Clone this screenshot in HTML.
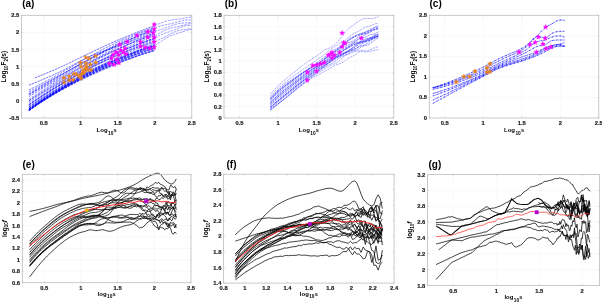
<!DOCTYPE html>
<html><head><meta charset="utf-8"><style>
html,body{margin:0;padding:0;background:#fff;width:602px;height:302px;overflow:hidden}
svg{display:block;will-change:transform;filter:blur(0.3px)}
</style></head><body><svg width="602" height="302" viewBox="0 0 602 302"><line x1="43.71" y1="15.3" x2="43.71" y2="118.0" stroke="#f2f2f2" stroke-width="0.5"/><line x1="80.73" y1="15.3" x2="80.73" y2="118.0" stroke="#f2f2f2" stroke-width="0.5"/><line x1="117.76" y1="15.3" x2="117.76" y2="118.0" stroke="#f2f2f2" stroke-width="0.5"/><line x1="154.78" y1="15.3" x2="154.78" y2="118.0" stroke="#f2f2f2" stroke-width="0.5"/><line x1="21.5" y1="100.88" x2="191.8" y2="100.88" stroke="#f2f2f2" stroke-width="0.5"/><line x1="21.5" y1="83.77" x2="191.8" y2="83.77" stroke="#f2f2f2" stroke-width="0.5"/><line x1="21.5" y1="66.65" x2="191.8" y2="66.65" stroke="#f2f2f2" stroke-width="0.5"/><line x1="21.5" y1="49.53" x2="191.8" y2="49.53" stroke="#f2f2f2" stroke-width="0.5"/><line x1="21.5" y1="32.42" x2="191.8" y2="32.42" stroke="#f2f2f2" stroke-width="0.5"/><line x1="43.71" y1="118.0" x2="43.71" y2="116.5" stroke="#bbb" stroke-width="0.5"/><line x1="43.71" y1="15.3" x2="43.71" y2="16.8" stroke="#bbb" stroke-width="0.5"/><text x="43.71" y="125.20" font-size="5.8" text-anchor="middle" font-family="Liberation Sans, sans-serif" font-weight="bold" fill="#1a1a1a" stroke="#1a1a1a" stroke-width="0.18">0.5</text><line x1="80.73" y1="118.0" x2="80.73" y2="116.5" stroke="#bbb" stroke-width="0.5"/><line x1="80.73" y1="15.3" x2="80.73" y2="16.8" stroke="#bbb" stroke-width="0.5"/><text x="80.73" y="125.20" font-size="5.8" text-anchor="middle" font-family="Liberation Sans, sans-serif" font-weight="bold" fill="#1a1a1a" stroke="#1a1a1a" stroke-width="0.18">1</text><line x1="117.76" y1="118.0" x2="117.76" y2="116.5" stroke="#bbb" stroke-width="0.5"/><line x1="117.76" y1="15.3" x2="117.76" y2="16.8" stroke="#bbb" stroke-width="0.5"/><text x="117.76" y="125.20" font-size="5.8" text-anchor="middle" font-family="Liberation Sans, sans-serif" font-weight="bold" fill="#1a1a1a" stroke="#1a1a1a" stroke-width="0.18">1.5</text><line x1="154.78" y1="118.0" x2="154.78" y2="116.5" stroke="#bbb" stroke-width="0.5"/><line x1="154.78" y1="15.3" x2="154.78" y2="16.8" stroke="#bbb" stroke-width="0.5"/><text x="154.78" y="125.20" font-size="5.8" text-anchor="middle" font-family="Liberation Sans, sans-serif" font-weight="bold" fill="#1a1a1a" stroke="#1a1a1a" stroke-width="0.18">2</text><line x1="191.80" y1="118.0" x2="191.80" y2="116.5" stroke="#bbb" stroke-width="0.5"/><line x1="191.80" y1="15.3" x2="191.80" y2="16.8" stroke="#bbb" stroke-width="0.5"/><text x="191.80" y="125.20" font-size="5.8" text-anchor="middle" font-family="Liberation Sans, sans-serif" font-weight="bold" fill="#1a1a1a" stroke="#1a1a1a" stroke-width="0.18">2.5</text><line x1="21.5" y1="118.00" x2="23.0" y2="118.00" stroke="#bbb" stroke-width="0.5"/><line x1="191.8" y1="118.00" x2="190.3" y2="118.00" stroke="#bbb" stroke-width="0.5"/><text x="19.30" y="120.00" font-size="5.8" text-anchor="end" font-family="Liberation Sans, sans-serif" font-weight="bold" fill="#1a1a1a" stroke="#1a1a1a" stroke-width="0.18">-0.5</text><line x1="21.5" y1="100.88" x2="23.0" y2="100.88" stroke="#bbb" stroke-width="0.5"/><line x1="191.8" y1="100.88" x2="190.3" y2="100.88" stroke="#bbb" stroke-width="0.5"/><text x="19.30" y="102.88" font-size="5.8" text-anchor="end" font-family="Liberation Sans, sans-serif" font-weight="bold" fill="#1a1a1a" stroke="#1a1a1a" stroke-width="0.18">0</text><line x1="21.5" y1="83.77" x2="23.0" y2="83.77" stroke="#bbb" stroke-width="0.5"/><line x1="191.8" y1="83.77" x2="190.3" y2="83.77" stroke="#bbb" stroke-width="0.5"/><text x="19.30" y="85.77" font-size="5.8" text-anchor="end" font-family="Liberation Sans, sans-serif" font-weight="bold" fill="#1a1a1a" stroke="#1a1a1a" stroke-width="0.18">0.5</text><line x1="21.5" y1="66.65" x2="23.0" y2="66.65" stroke="#bbb" stroke-width="0.5"/><line x1="191.8" y1="66.65" x2="190.3" y2="66.65" stroke="#bbb" stroke-width="0.5"/><text x="19.30" y="68.65" font-size="5.8" text-anchor="end" font-family="Liberation Sans, sans-serif" font-weight="bold" fill="#1a1a1a" stroke="#1a1a1a" stroke-width="0.18">1</text><line x1="21.5" y1="49.53" x2="23.0" y2="49.53" stroke="#bbb" stroke-width="0.5"/><line x1="191.8" y1="49.53" x2="190.3" y2="49.53" stroke="#bbb" stroke-width="0.5"/><text x="19.30" y="51.53" font-size="5.8" text-anchor="end" font-family="Liberation Sans, sans-serif" font-weight="bold" fill="#1a1a1a" stroke="#1a1a1a" stroke-width="0.18">1.5</text><line x1="21.5" y1="32.42" x2="23.0" y2="32.42" stroke="#bbb" stroke-width="0.5"/><line x1="191.8" y1="32.42" x2="190.3" y2="32.42" stroke="#bbb" stroke-width="0.5"/><text x="19.30" y="34.42" font-size="5.8" text-anchor="end" font-family="Liberation Sans, sans-serif" font-weight="bold" fill="#1a1a1a" stroke="#1a1a1a" stroke-width="0.18">2</text><line x1="21.5" y1="15.30" x2="23.0" y2="15.30" stroke="#bbb" stroke-width="0.5"/><line x1="191.8" y1="15.30" x2="190.3" y2="15.30" stroke="#bbb" stroke-width="0.5"/><text x="19.30" y="17.30" font-size="5.8" text-anchor="end" font-family="Liberation Sans, sans-serif" font-weight="bold" fill="#1a1a1a" stroke="#1a1a1a" stroke-width="0.18">2.5</text><line x1="239.44" y1="15.3" x2="239.44" y2="118.0" stroke="#f2f2f2" stroke-width="0.5"/><line x1="278.03" y1="15.3" x2="278.03" y2="118.0" stroke="#f2f2f2" stroke-width="0.5"/><line x1="316.62" y1="15.3" x2="316.62" y2="118.0" stroke="#f2f2f2" stroke-width="0.5"/><line x1="355.21" y1="15.3" x2="355.21" y2="118.0" stroke="#f2f2f2" stroke-width="0.5"/><line x1="224.0" y1="106.59" x2="393.8" y2="106.59" stroke="#f2f2f2" stroke-width="0.5"/><line x1="224.0" y1="95.18" x2="393.8" y2="95.18" stroke="#f2f2f2" stroke-width="0.5"/><line x1="224.0" y1="83.77" x2="393.8" y2="83.77" stroke="#f2f2f2" stroke-width="0.5"/><line x1="224.0" y1="72.36" x2="393.8" y2="72.36" stroke="#f2f2f2" stroke-width="0.5"/><line x1="224.0" y1="60.94" x2="393.8" y2="60.94" stroke="#f2f2f2" stroke-width="0.5"/><line x1="224.0" y1="49.53" x2="393.8" y2="49.53" stroke="#f2f2f2" stroke-width="0.5"/><line x1="224.0" y1="38.12" x2="393.8" y2="38.12" stroke="#f2f2f2" stroke-width="0.5"/><line x1="224.0" y1="26.71" x2="393.8" y2="26.71" stroke="#f2f2f2" stroke-width="0.5"/><line x1="239.44" y1="118.0" x2="239.44" y2="116.5" stroke="#bbb" stroke-width="0.5"/><line x1="239.44" y1="15.3" x2="239.44" y2="16.8" stroke="#bbb" stroke-width="0.5"/><text x="239.44" y="125.20" font-size="5.8" text-anchor="middle" font-family="Liberation Sans, sans-serif" font-weight="bold" fill="#1a1a1a" stroke="#1a1a1a" stroke-width="0.18">0.5</text><line x1="278.03" y1="118.0" x2="278.03" y2="116.5" stroke="#bbb" stroke-width="0.5"/><line x1="278.03" y1="15.3" x2="278.03" y2="16.8" stroke="#bbb" stroke-width="0.5"/><text x="278.03" y="125.20" font-size="5.8" text-anchor="middle" font-family="Liberation Sans, sans-serif" font-weight="bold" fill="#1a1a1a" stroke="#1a1a1a" stroke-width="0.18">1</text><line x1="316.62" y1="118.0" x2="316.62" y2="116.5" stroke="#bbb" stroke-width="0.5"/><line x1="316.62" y1="15.3" x2="316.62" y2="16.8" stroke="#bbb" stroke-width="0.5"/><text x="316.62" y="125.20" font-size="5.8" text-anchor="middle" font-family="Liberation Sans, sans-serif" font-weight="bold" fill="#1a1a1a" stroke="#1a1a1a" stroke-width="0.18">1.5</text><line x1="355.21" y1="118.0" x2="355.21" y2="116.5" stroke="#bbb" stroke-width="0.5"/><line x1="355.21" y1="15.3" x2="355.21" y2="16.8" stroke="#bbb" stroke-width="0.5"/><text x="355.21" y="125.20" font-size="5.8" text-anchor="middle" font-family="Liberation Sans, sans-serif" font-weight="bold" fill="#1a1a1a" stroke="#1a1a1a" stroke-width="0.18">2</text><line x1="393.80" y1="118.0" x2="393.80" y2="116.5" stroke="#bbb" stroke-width="0.5"/><line x1="393.80" y1="15.3" x2="393.80" y2="16.8" stroke="#bbb" stroke-width="0.5"/><text x="393.80" y="125.20" font-size="5.8" text-anchor="middle" font-family="Liberation Sans, sans-serif" font-weight="bold" fill="#1a1a1a" stroke="#1a1a1a" stroke-width="0.18">2.5</text><line x1="224.0" y1="118.00" x2="225.5" y2="118.00" stroke="#bbb" stroke-width="0.5"/><line x1="393.8" y1="118.00" x2="392.3" y2="118.00" stroke="#bbb" stroke-width="0.5"/><text x="221.80" y="120.00" font-size="5.8" text-anchor="end" font-family="Liberation Sans, sans-serif" font-weight="bold" fill="#1a1a1a" stroke="#1a1a1a" stroke-width="0.18">0</text><line x1="224.0" y1="106.59" x2="225.5" y2="106.59" stroke="#bbb" stroke-width="0.5"/><line x1="393.8" y1="106.59" x2="392.3" y2="106.59" stroke="#bbb" stroke-width="0.5"/><text x="221.80" y="108.59" font-size="5.8" text-anchor="end" font-family="Liberation Sans, sans-serif" font-weight="bold" fill="#1a1a1a" stroke="#1a1a1a" stroke-width="0.18">0.2</text><line x1="224.0" y1="95.18" x2="225.5" y2="95.18" stroke="#bbb" stroke-width="0.5"/><line x1="393.8" y1="95.18" x2="392.3" y2="95.18" stroke="#bbb" stroke-width="0.5"/><text x="221.80" y="97.18" font-size="5.8" text-anchor="end" font-family="Liberation Sans, sans-serif" font-weight="bold" fill="#1a1a1a" stroke="#1a1a1a" stroke-width="0.18">0.4</text><line x1="224.0" y1="83.77" x2="225.5" y2="83.77" stroke="#bbb" stroke-width="0.5"/><line x1="393.8" y1="83.77" x2="392.3" y2="83.77" stroke="#bbb" stroke-width="0.5"/><text x="221.80" y="85.77" font-size="5.8" text-anchor="end" font-family="Liberation Sans, sans-serif" font-weight="bold" fill="#1a1a1a" stroke="#1a1a1a" stroke-width="0.18">0.6</text><line x1="224.0" y1="72.36" x2="225.5" y2="72.36" stroke="#bbb" stroke-width="0.5"/><line x1="393.8" y1="72.36" x2="392.3" y2="72.36" stroke="#bbb" stroke-width="0.5"/><text x="221.80" y="74.36" font-size="5.8" text-anchor="end" font-family="Liberation Sans, sans-serif" font-weight="bold" fill="#1a1a1a" stroke="#1a1a1a" stroke-width="0.18">0.8</text><line x1="224.0" y1="60.94" x2="225.5" y2="60.94" stroke="#bbb" stroke-width="0.5"/><line x1="393.8" y1="60.94" x2="392.3" y2="60.94" stroke="#bbb" stroke-width="0.5"/><text x="221.80" y="62.94" font-size="5.8" text-anchor="end" font-family="Liberation Sans, sans-serif" font-weight="bold" fill="#1a1a1a" stroke="#1a1a1a" stroke-width="0.18">1</text><line x1="224.0" y1="49.53" x2="225.5" y2="49.53" stroke="#bbb" stroke-width="0.5"/><line x1="393.8" y1="49.53" x2="392.3" y2="49.53" stroke="#bbb" stroke-width="0.5"/><text x="221.80" y="51.53" font-size="5.8" text-anchor="end" font-family="Liberation Sans, sans-serif" font-weight="bold" fill="#1a1a1a" stroke="#1a1a1a" stroke-width="0.18">1.2</text><line x1="224.0" y1="38.12" x2="225.5" y2="38.12" stroke="#bbb" stroke-width="0.5"/><line x1="393.8" y1="38.12" x2="392.3" y2="38.12" stroke="#bbb" stroke-width="0.5"/><text x="221.80" y="40.12" font-size="5.8" text-anchor="end" font-family="Liberation Sans, sans-serif" font-weight="bold" fill="#1a1a1a" stroke="#1a1a1a" stroke-width="0.18">1.4</text><line x1="224.0" y1="26.71" x2="225.5" y2="26.71" stroke="#bbb" stroke-width="0.5"/><line x1="393.8" y1="26.71" x2="392.3" y2="26.71" stroke="#bbb" stroke-width="0.5"/><text x="221.80" y="28.71" font-size="5.8" text-anchor="end" font-family="Liberation Sans, sans-serif" font-weight="bold" fill="#1a1a1a" stroke="#1a1a1a" stroke-width="0.18">1.6</text><line x1="224.0" y1="15.30" x2="225.5" y2="15.30" stroke="#bbb" stroke-width="0.5"/><line x1="393.8" y1="15.30" x2="392.3" y2="15.30" stroke="#bbb" stroke-width="0.5"/><text x="221.80" y="17.30" font-size="5.8" text-anchor="end" font-family="Liberation Sans, sans-serif" font-weight="bold" fill="#1a1a1a" stroke="#1a1a1a" stroke-width="0.18">1.8</text><line x1="444.71" y1="15.3" x2="444.71" y2="118.0" stroke="#f2f2f2" stroke-width="0.5"/><line x1="483.23" y1="15.3" x2="483.23" y2="118.0" stroke="#f2f2f2" stroke-width="0.5"/><line x1="521.75" y1="15.3" x2="521.75" y2="118.0" stroke="#f2f2f2" stroke-width="0.5"/><line x1="560.28" y1="15.3" x2="560.28" y2="118.0" stroke="#f2f2f2" stroke-width="0.5"/><line x1="429.3" y1="97.46" x2="598.8" y2="97.46" stroke="#f2f2f2" stroke-width="0.5"/><line x1="429.3" y1="76.92" x2="598.8" y2="76.92" stroke="#f2f2f2" stroke-width="0.5"/><line x1="429.3" y1="56.38" x2="598.8" y2="56.38" stroke="#f2f2f2" stroke-width="0.5"/><line x1="429.3" y1="35.84" x2="598.8" y2="35.84" stroke="#f2f2f2" stroke-width="0.5"/><line x1="444.71" y1="118.0" x2="444.71" y2="116.5" stroke="#bbb" stroke-width="0.5"/><line x1="444.71" y1="15.3" x2="444.71" y2="16.8" stroke="#bbb" stroke-width="0.5"/><text x="444.71" y="125.20" font-size="5.8" text-anchor="middle" font-family="Liberation Sans, sans-serif" font-weight="bold" fill="#1a1a1a" stroke="#1a1a1a" stroke-width="0.18">0.5</text><line x1="483.23" y1="118.0" x2="483.23" y2="116.5" stroke="#bbb" stroke-width="0.5"/><line x1="483.23" y1="15.3" x2="483.23" y2="16.8" stroke="#bbb" stroke-width="0.5"/><text x="483.23" y="125.20" font-size="5.8" text-anchor="middle" font-family="Liberation Sans, sans-serif" font-weight="bold" fill="#1a1a1a" stroke="#1a1a1a" stroke-width="0.18">1</text><line x1="521.75" y1="118.0" x2="521.75" y2="116.5" stroke="#bbb" stroke-width="0.5"/><line x1="521.75" y1="15.3" x2="521.75" y2="16.8" stroke="#bbb" stroke-width="0.5"/><text x="521.75" y="125.20" font-size="5.8" text-anchor="middle" font-family="Liberation Sans, sans-serif" font-weight="bold" fill="#1a1a1a" stroke="#1a1a1a" stroke-width="0.18">1.5</text><line x1="560.28" y1="118.0" x2="560.28" y2="116.5" stroke="#bbb" stroke-width="0.5"/><line x1="560.28" y1="15.3" x2="560.28" y2="16.8" stroke="#bbb" stroke-width="0.5"/><text x="560.28" y="125.20" font-size="5.8" text-anchor="middle" font-family="Liberation Sans, sans-serif" font-weight="bold" fill="#1a1a1a" stroke="#1a1a1a" stroke-width="0.18">2</text><line x1="598.80" y1="118.0" x2="598.80" y2="116.5" stroke="#bbb" stroke-width="0.5"/><line x1="598.80" y1="15.3" x2="598.80" y2="16.8" stroke="#bbb" stroke-width="0.5"/><text x="598.80" y="125.20" font-size="5.8" text-anchor="middle" font-family="Liberation Sans, sans-serif" font-weight="bold" fill="#1a1a1a" stroke="#1a1a1a" stroke-width="0.18">2.5</text><line x1="429.3" y1="118.00" x2="430.8" y2="118.00" stroke="#bbb" stroke-width="0.5"/><line x1="598.8" y1="118.00" x2="597.3" y2="118.00" stroke="#bbb" stroke-width="0.5"/><text x="427.10" y="120.00" font-size="5.8" text-anchor="end" font-family="Liberation Sans, sans-serif" font-weight="bold" fill="#1a1a1a" stroke="#1a1a1a" stroke-width="0.18">0</text><line x1="429.3" y1="97.46" x2="430.8" y2="97.46" stroke="#bbb" stroke-width="0.5"/><line x1="598.8" y1="97.46" x2="597.3" y2="97.46" stroke="#bbb" stroke-width="0.5"/><text x="427.10" y="99.46" font-size="5.8" text-anchor="end" font-family="Liberation Sans, sans-serif" font-weight="bold" fill="#1a1a1a" stroke="#1a1a1a" stroke-width="0.18">0.5</text><line x1="429.3" y1="76.92" x2="430.8" y2="76.92" stroke="#bbb" stroke-width="0.5"/><line x1="598.8" y1="76.92" x2="597.3" y2="76.92" stroke="#bbb" stroke-width="0.5"/><text x="427.10" y="78.92" font-size="5.8" text-anchor="end" font-family="Liberation Sans, sans-serif" font-weight="bold" fill="#1a1a1a" stroke="#1a1a1a" stroke-width="0.18">1</text><line x1="429.3" y1="56.38" x2="430.8" y2="56.38" stroke="#bbb" stroke-width="0.5"/><line x1="598.8" y1="56.38" x2="597.3" y2="56.38" stroke="#bbb" stroke-width="0.5"/><text x="427.10" y="58.38" font-size="5.8" text-anchor="end" font-family="Liberation Sans, sans-serif" font-weight="bold" fill="#1a1a1a" stroke="#1a1a1a" stroke-width="0.18">1.5</text><line x1="429.3" y1="35.84" x2="430.8" y2="35.84" stroke="#bbb" stroke-width="0.5"/><line x1="598.8" y1="35.84" x2="597.3" y2="35.84" stroke="#bbb" stroke-width="0.5"/><text x="427.10" y="37.84" font-size="5.8" text-anchor="end" font-family="Liberation Sans, sans-serif" font-weight="bold" fill="#1a1a1a" stroke="#1a1a1a" stroke-width="0.18">2</text><line x1="429.3" y1="15.30" x2="430.8" y2="15.30" stroke="#bbb" stroke-width="0.5"/><line x1="598.8" y1="15.30" x2="597.3" y2="15.30" stroke="#bbb" stroke-width="0.5"/><text x="427.10" y="17.30" font-size="5.8" text-anchor="end" font-family="Liberation Sans, sans-serif" font-weight="bold" fill="#1a1a1a" stroke="#1a1a1a" stroke-width="0.18">2.5</text><line x1="44.30" y1="174.3" x2="44.30" y2="282.7" stroke="#f2f2f2" stroke-width="0.5"/><line x1="80.98" y1="174.3" x2="80.98" y2="282.7" stroke="#f2f2f2" stroke-width="0.5"/><line x1="117.65" y1="174.3" x2="117.65" y2="282.7" stroke="#f2f2f2" stroke-width="0.5"/><line x1="154.33" y1="174.3" x2="154.33" y2="282.7" stroke="#f2f2f2" stroke-width="0.5"/><line x1="22.3" y1="271.29" x2="191.0" y2="271.29" stroke="#f2f2f2" stroke-width="0.5"/><line x1="22.3" y1="259.88" x2="191.0" y2="259.88" stroke="#f2f2f2" stroke-width="0.5"/><line x1="22.3" y1="248.47" x2="191.0" y2="248.47" stroke="#f2f2f2" stroke-width="0.5"/><line x1="22.3" y1="237.06" x2="191.0" y2="237.06" stroke="#f2f2f2" stroke-width="0.5"/><line x1="22.3" y1="225.65" x2="191.0" y2="225.65" stroke="#f2f2f2" stroke-width="0.5"/><line x1="22.3" y1="214.24" x2="191.0" y2="214.24" stroke="#f2f2f2" stroke-width="0.5"/><line x1="22.3" y1="202.83" x2="191.0" y2="202.83" stroke="#f2f2f2" stroke-width="0.5"/><line x1="22.3" y1="191.42" x2="191.0" y2="191.42" stroke="#f2f2f2" stroke-width="0.5"/><line x1="22.3" y1="180.01" x2="191.0" y2="180.01" stroke="#f2f2f2" stroke-width="0.5"/><line x1="44.30" y1="282.7" x2="44.30" y2="281.2" stroke="#bbb" stroke-width="0.5"/><line x1="44.30" y1="174.3" x2="44.30" y2="175.8" stroke="#bbb" stroke-width="0.5"/><text x="44.30" y="289.90" font-size="5.8" text-anchor="middle" font-family="Liberation Sans, sans-serif" font-weight="bold" fill="#1a1a1a" stroke="#1a1a1a" stroke-width="0.18">0.5</text><line x1="80.98" y1="282.7" x2="80.98" y2="281.2" stroke="#bbb" stroke-width="0.5"/><line x1="80.98" y1="174.3" x2="80.98" y2="175.8" stroke="#bbb" stroke-width="0.5"/><text x="80.98" y="289.90" font-size="5.8" text-anchor="middle" font-family="Liberation Sans, sans-serif" font-weight="bold" fill="#1a1a1a" stroke="#1a1a1a" stroke-width="0.18">1</text><line x1="117.65" y1="282.7" x2="117.65" y2="281.2" stroke="#bbb" stroke-width="0.5"/><line x1="117.65" y1="174.3" x2="117.65" y2="175.8" stroke="#bbb" stroke-width="0.5"/><text x="117.65" y="289.90" font-size="5.8" text-anchor="middle" font-family="Liberation Sans, sans-serif" font-weight="bold" fill="#1a1a1a" stroke="#1a1a1a" stroke-width="0.18">1.5</text><line x1="154.33" y1="282.7" x2="154.33" y2="281.2" stroke="#bbb" stroke-width="0.5"/><line x1="154.33" y1="174.3" x2="154.33" y2="175.8" stroke="#bbb" stroke-width="0.5"/><text x="154.33" y="289.90" font-size="5.8" text-anchor="middle" font-family="Liberation Sans, sans-serif" font-weight="bold" fill="#1a1a1a" stroke="#1a1a1a" stroke-width="0.18">2</text><line x1="191.00" y1="282.7" x2="191.00" y2="281.2" stroke="#bbb" stroke-width="0.5"/><line x1="191.00" y1="174.3" x2="191.00" y2="175.8" stroke="#bbb" stroke-width="0.5"/><text x="191.00" y="289.90" font-size="5.8" text-anchor="middle" font-family="Liberation Sans, sans-serif" font-weight="bold" fill="#1a1a1a" stroke="#1a1a1a" stroke-width="0.18">2.5</text><line x1="22.3" y1="282.70" x2="23.8" y2="282.70" stroke="#bbb" stroke-width="0.5"/><line x1="191.0" y1="282.70" x2="189.5" y2="282.70" stroke="#bbb" stroke-width="0.5"/><text x="20.10" y="284.70" font-size="5.8" text-anchor="end" font-family="Liberation Sans, sans-serif" font-weight="bold" fill="#1a1a1a" stroke="#1a1a1a" stroke-width="0.18">0.6</text><line x1="22.3" y1="271.29" x2="23.8" y2="271.29" stroke="#bbb" stroke-width="0.5"/><line x1="191.0" y1="271.29" x2="189.5" y2="271.29" stroke="#bbb" stroke-width="0.5"/><text x="20.10" y="273.29" font-size="5.8" text-anchor="end" font-family="Liberation Sans, sans-serif" font-weight="bold" fill="#1a1a1a" stroke="#1a1a1a" stroke-width="0.18">0.8</text><line x1="22.3" y1="259.88" x2="23.8" y2="259.88" stroke="#bbb" stroke-width="0.5"/><line x1="191.0" y1="259.88" x2="189.5" y2="259.88" stroke="#bbb" stroke-width="0.5"/><text x="20.10" y="261.88" font-size="5.8" text-anchor="end" font-family="Liberation Sans, sans-serif" font-weight="bold" fill="#1a1a1a" stroke="#1a1a1a" stroke-width="0.18">1</text><line x1="22.3" y1="248.47" x2="23.8" y2="248.47" stroke="#bbb" stroke-width="0.5"/><line x1="191.0" y1="248.47" x2="189.5" y2="248.47" stroke="#bbb" stroke-width="0.5"/><text x="20.10" y="250.47" font-size="5.8" text-anchor="end" font-family="Liberation Sans, sans-serif" font-weight="bold" fill="#1a1a1a" stroke="#1a1a1a" stroke-width="0.18">1.2</text><line x1="22.3" y1="237.06" x2="23.8" y2="237.06" stroke="#bbb" stroke-width="0.5"/><line x1="191.0" y1="237.06" x2="189.5" y2="237.06" stroke="#bbb" stroke-width="0.5"/><text x="20.10" y="239.06" font-size="5.8" text-anchor="end" font-family="Liberation Sans, sans-serif" font-weight="bold" fill="#1a1a1a" stroke="#1a1a1a" stroke-width="0.18">1.4</text><line x1="22.3" y1="225.65" x2="23.8" y2="225.65" stroke="#bbb" stroke-width="0.5"/><line x1="191.0" y1="225.65" x2="189.5" y2="225.65" stroke="#bbb" stroke-width="0.5"/><text x="20.10" y="227.65" font-size="5.8" text-anchor="end" font-family="Liberation Sans, sans-serif" font-weight="bold" fill="#1a1a1a" stroke="#1a1a1a" stroke-width="0.18">1.6</text><line x1="22.3" y1="214.24" x2="23.8" y2="214.24" stroke="#bbb" stroke-width="0.5"/><line x1="191.0" y1="214.24" x2="189.5" y2="214.24" stroke="#bbb" stroke-width="0.5"/><text x="20.10" y="216.24" font-size="5.8" text-anchor="end" font-family="Liberation Sans, sans-serif" font-weight="bold" fill="#1a1a1a" stroke="#1a1a1a" stroke-width="0.18">1.8</text><line x1="22.3" y1="202.83" x2="23.8" y2="202.83" stroke="#bbb" stroke-width="0.5"/><line x1="191.0" y1="202.83" x2="189.5" y2="202.83" stroke="#bbb" stroke-width="0.5"/><text x="20.10" y="204.83" font-size="5.8" text-anchor="end" font-family="Liberation Sans, sans-serif" font-weight="bold" fill="#1a1a1a" stroke="#1a1a1a" stroke-width="0.18">2</text><line x1="22.3" y1="191.42" x2="23.8" y2="191.42" stroke="#bbb" stroke-width="0.5"/><line x1="191.0" y1="191.42" x2="189.5" y2="191.42" stroke="#bbb" stroke-width="0.5"/><text x="20.10" y="193.42" font-size="5.8" text-anchor="end" font-family="Liberation Sans, sans-serif" font-weight="bold" fill="#1a1a1a" stroke="#1a1a1a" stroke-width="0.18">2.2</text><line x1="22.3" y1="180.01" x2="23.8" y2="180.01" stroke="#bbb" stroke-width="0.5"/><line x1="191.0" y1="180.01" x2="189.5" y2="180.01" stroke="#bbb" stroke-width="0.5"/><text x="20.10" y="182.01" font-size="5.8" text-anchor="end" font-family="Liberation Sans, sans-serif" font-weight="bold" fill="#1a1a1a" stroke="#1a1a1a" stroke-width="0.18">2.4</text><line x1="223.60" y1="283.1" x2="223.60" y2="281.6" stroke="#bbb" stroke-width="0.5"/><line x1="223.60" y1="174.2" x2="223.60" y2="175.7" stroke="#bbb" stroke-width="0.5"/><text x="223.60" y="290.30" font-size="5.8" text-anchor="middle" font-family="Liberation Sans, sans-serif" font-weight="bold" fill="#1a1a1a" stroke="#1a1a1a" stroke-width="0.18">0.8</text><line x1="244.91" y1="283.1" x2="244.91" y2="281.6" stroke="#bbb" stroke-width="0.5"/><line x1="244.91" y1="174.2" x2="244.91" y2="175.7" stroke="#bbb" stroke-width="0.5"/><text x="244.91" y="290.30" font-size="5.8" text-anchor="middle" font-family="Liberation Sans, sans-serif" font-weight="bold" fill="#1a1a1a" stroke="#1a1a1a" stroke-width="0.18">1</text><line x1="266.23" y1="283.1" x2="266.23" y2="281.6" stroke="#bbb" stroke-width="0.5"/><line x1="266.23" y1="174.2" x2="266.23" y2="175.7" stroke="#bbb" stroke-width="0.5"/><text x="266.23" y="290.30" font-size="5.8" text-anchor="middle" font-family="Liberation Sans, sans-serif" font-weight="bold" fill="#1a1a1a" stroke="#1a1a1a" stroke-width="0.18">1.2</text><line x1="287.54" y1="283.1" x2="287.54" y2="281.6" stroke="#bbb" stroke-width="0.5"/><line x1="287.54" y1="174.2" x2="287.54" y2="175.7" stroke="#bbb" stroke-width="0.5"/><text x="287.54" y="290.30" font-size="5.8" text-anchor="middle" font-family="Liberation Sans, sans-serif" font-weight="bold" fill="#1a1a1a" stroke="#1a1a1a" stroke-width="0.18">1.4</text><line x1="308.85" y1="283.1" x2="308.85" y2="281.6" stroke="#bbb" stroke-width="0.5"/><line x1="308.85" y1="174.2" x2="308.85" y2="175.7" stroke="#bbb" stroke-width="0.5"/><text x="308.85" y="290.30" font-size="5.8" text-anchor="middle" font-family="Liberation Sans, sans-serif" font-weight="bold" fill="#1a1a1a" stroke="#1a1a1a" stroke-width="0.18">1.6</text><line x1="330.16" y1="283.1" x2="330.16" y2="281.6" stroke="#bbb" stroke-width="0.5"/><line x1="330.16" y1="174.2" x2="330.16" y2="175.7" stroke="#bbb" stroke-width="0.5"/><text x="330.16" y="290.30" font-size="5.8" text-anchor="middle" font-family="Liberation Sans, sans-serif" font-weight="bold" fill="#1a1a1a" stroke="#1a1a1a" stroke-width="0.18">1.8</text><line x1="351.48" y1="283.1" x2="351.48" y2="281.6" stroke="#bbb" stroke-width="0.5"/><line x1="351.48" y1="174.2" x2="351.48" y2="175.7" stroke="#bbb" stroke-width="0.5"/><text x="351.48" y="290.30" font-size="5.8" text-anchor="middle" font-family="Liberation Sans, sans-serif" font-weight="bold" fill="#1a1a1a" stroke="#1a1a1a" stroke-width="0.18">2</text><line x1="372.79" y1="283.1" x2="372.79" y2="281.6" stroke="#bbb" stroke-width="0.5"/><line x1="372.79" y1="174.2" x2="372.79" y2="175.7" stroke="#bbb" stroke-width="0.5"/><text x="372.79" y="290.30" font-size="5.8" text-anchor="middle" font-family="Liberation Sans, sans-serif" font-weight="bold" fill="#1a1a1a" stroke="#1a1a1a" stroke-width="0.18">2.2</text><line x1="394.10" y1="283.1" x2="394.10" y2="281.6" stroke="#bbb" stroke-width="0.5"/><line x1="394.10" y1="174.2" x2="394.10" y2="175.7" stroke="#bbb" stroke-width="0.5"/><text x="394.10" y="290.30" font-size="5.8" text-anchor="middle" font-family="Liberation Sans, sans-serif" font-weight="bold" fill="#1a1a1a" stroke="#1a1a1a" stroke-width="0.18">2.4</text><line x1="223.6" y1="283.10" x2="225.1" y2="283.10" stroke="#bbb" stroke-width="0.5"/><line x1="394.1" y1="283.10" x2="392.6" y2="283.10" stroke="#bbb" stroke-width="0.5"/><text x="221.40" y="285.10" font-size="5.8" text-anchor="end" font-family="Liberation Sans, sans-serif" font-weight="bold" fill="#1a1a1a" stroke="#1a1a1a" stroke-width="0.18">1.4</text><line x1="223.6" y1="267.54" x2="225.1" y2="267.54" stroke="#bbb" stroke-width="0.5"/><line x1="394.1" y1="267.54" x2="392.6" y2="267.54" stroke="#bbb" stroke-width="0.5"/><text x="221.40" y="269.54" font-size="5.8" text-anchor="end" font-family="Liberation Sans, sans-serif" font-weight="bold" fill="#1a1a1a" stroke="#1a1a1a" stroke-width="0.18">1.6</text><line x1="223.6" y1="251.99" x2="225.1" y2="251.99" stroke="#bbb" stroke-width="0.5"/><line x1="394.1" y1="251.99" x2="392.6" y2="251.99" stroke="#bbb" stroke-width="0.5"/><text x="221.40" y="253.99" font-size="5.8" text-anchor="end" font-family="Liberation Sans, sans-serif" font-weight="bold" fill="#1a1a1a" stroke="#1a1a1a" stroke-width="0.18">1.8</text><line x1="223.6" y1="236.43" x2="225.1" y2="236.43" stroke="#bbb" stroke-width="0.5"/><line x1="394.1" y1="236.43" x2="392.6" y2="236.43" stroke="#bbb" stroke-width="0.5"/><text x="221.40" y="238.43" font-size="5.8" text-anchor="end" font-family="Liberation Sans, sans-serif" font-weight="bold" fill="#1a1a1a" stroke="#1a1a1a" stroke-width="0.18">2</text><line x1="223.6" y1="220.87" x2="225.1" y2="220.87" stroke="#bbb" stroke-width="0.5"/><line x1="394.1" y1="220.87" x2="392.6" y2="220.87" stroke="#bbb" stroke-width="0.5"/><text x="221.40" y="222.87" font-size="5.8" text-anchor="end" font-family="Liberation Sans, sans-serif" font-weight="bold" fill="#1a1a1a" stroke="#1a1a1a" stroke-width="0.18">2.2</text><line x1="223.6" y1="205.31" x2="225.1" y2="205.31" stroke="#bbb" stroke-width="0.5"/><line x1="394.1" y1="205.31" x2="392.6" y2="205.31" stroke="#bbb" stroke-width="0.5"/><text x="221.40" y="207.31" font-size="5.8" text-anchor="end" font-family="Liberation Sans, sans-serif" font-weight="bold" fill="#1a1a1a" stroke="#1a1a1a" stroke-width="0.18">2.4</text><line x1="223.6" y1="189.76" x2="225.1" y2="189.76" stroke="#bbb" stroke-width="0.5"/><line x1="394.1" y1="189.76" x2="392.6" y2="189.76" stroke="#bbb" stroke-width="0.5"/><text x="221.40" y="191.76" font-size="5.8" text-anchor="end" font-family="Liberation Sans, sans-serif" font-weight="bold" fill="#1a1a1a" stroke="#1a1a1a" stroke-width="0.18">2.6</text><line x1="223.6" y1="174.20" x2="225.1" y2="174.20" stroke="#bbb" stroke-width="0.5"/><line x1="394.1" y1="174.20" x2="392.6" y2="174.20" stroke="#bbb" stroke-width="0.5"/><text x="221.40" y="176.20" font-size="5.8" text-anchor="end" font-family="Liberation Sans, sans-serif" font-weight="bold" fill="#1a1a1a" stroke="#1a1a1a" stroke-width="0.18">2.8</text><line x1="453.28" y1="174.6" x2="453.28" y2="285.5" stroke="#f2f2f2" stroke-width="0.5"/><line x1="496.26" y1="174.6" x2="496.26" y2="285.5" stroke="#f2f2f2" stroke-width="0.5"/><line x1="539.24" y1="174.6" x2="539.24" y2="285.5" stroke="#f2f2f2" stroke-width="0.5"/><line x1="582.21" y1="174.6" x2="582.21" y2="285.5" stroke="#f2f2f2" stroke-width="0.5"/><line x1="427.5" y1="269.66" x2="599.4" y2="269.66" stroke="#f2f2f2" stroke-width="0.5"/><line x1="427.5" y1="253.81" x2="599.4" y2="253.81" stroke="#f2f2f2" stroke-width="0.5"/><line x1="427.5" y1="237.97" x2="599.4" y2="237.97" stroke="#f2f2f2" stroke-width="0.5"/><line x1="427.5" y1="222.13" x2="599.4" y2="222.13" stroke="#f2f2f2" stroke-width="0.5"/><line x1="427.5" y1="206.29" x2="599.4" y2="206.29" stroke="#f2f2f2" stroke-width="0.5"/><line x1="427.5" y1="190.44" x2="599.4" y2="190.44" stroke="#f2f2f2" stroke-width="0.5"/><line x1="453.28" y1="285.5" x2="453.28" y2="284.0" stroke="#bbb" stroke-width="0.5"/><line x1="453.28" y1="174.6" x2="453.28" y2="176.1" stroke="#bbb" stroke-width="0.5"/><text x="453.28" y="292.70" font-size="5.8" text-anchor="middle" font-family="Liberation Sans, sans-serif" font-weight="bold" fill="#1a1a1a" stroke="#1a1a1a" stroke-width="0.18">0.5</text><line x1="496.26" y1="285.5" x2="496.26" y2="284.0" stroke="#bbb" stroke-width="0.5"/><line x1="496.26" y1="174.6" x2="496.26" y2="176.1" stroke="#bbb" stroke-width="0.5"/><text x="496.26" y="292.70" font-size="5.8" text-anchor="middle" font-family="Liberation Sans, sans-serif" font-weight="bold" fill="#1a1a1a" stroke="#1a1a1a" stroke-width="0.18">1</text><line x1="539.24" y1="285.5" x2="539.24" y2="284.0" stroke="#bbb" stroke-width="0.5"/><line x1="539.24" y1="174.6" x2="539.24" y2="176.1" stroke="#bbb" stroke-width="0.5"/><text x="539.24" y="292.70" font-size="5.8" text-anchor="middle" font-family="Liberation Sans, sans-serif" font-weight="bold" fill="#1a1a1a" stroke="#1a1a1a" stroke-width="0.18">1.5</text><line x1="582.21" y1="285.5" x2="582.21" y2="284.0" stroke="#bbb" stroke-width="0.5"/><line x1="582.21" y1="174.6" x2="582.21" y2="176.1" stroke="#bbb" stroke-width="0.5"/><text x="582.21" y="292.70" font-size="5.8" text-anchor="middle" font-family="Liberation Sans, sans-serif" font-weight="bold" fill="#1a1a1a" stroke="#1a1a1a" stroke-width="0.18">2</text><line x1="427.5" y1="285.50" x2="429.0" y2="285.50" stroke="#bbb" stroke-width="0.5"/><line x1="599.4" y1="285.50" x2="597.9" y2="285.50" stroke="#bbb" stroke-width="0.5"/><text x="425.30" y="287.50" font-size="5.8" text-anchor="end" font-family="Liberation Sans, sans-serif" font-weight="bold" fill="#1a1a1a" stroke="#1a1a1a" stroke-width="0.18">1.8</text><line x1="427.5" y1="269.66" x2="429.0" y2="269.66" stroke="#bbb" stroke-width="0.5"/><line x1="599.4" y1="269.66" x2="597.9" y2="269.66" stroke="#bbb" stroke-width="0.5"/><text x="425.30" y="271.66" font-size="5.8" text-anchor="end" font-family="Liberation Sans, sans-serif" font-weight="bold" fill="#1a1a1a" stroke="#1a1a1a" stroke-width="0.18">2</text><line x1="427.5" y1="253.81" x2="429.0" y2="253.81" stroke="#bbb" stroke-width="0.5"/><line x1="599.4" y1="253.81" x2="597.9" y2="253.81" stroke="#bbb" stroke-width="0.5"/><text x="425.30" y="255.81" font-size="5.8" text-anchor="end" font-family="Liberation Sans, sans-serif" font-weight="bold" fill="#1a1a1a" stroke="#1a1a1a" stroke-width="0.18">2.2</text><line x1="427.5" y1="237.97" x2="429.0" y2="237.97" stroke="#bbb" stroke-width="0.5"/><line x1="599.4" y1="237.97" x2="597.9" y2="237.97" stroke="#bbb" stroke-width="0.5"/><text x="425.30" y="239.97" font-size="5.8" text-anchor="end" font-family="Liberation Sans, sans-serif" font-weight="bold" fill="#1a1a1a" stroke="#1a1a1a" stroke-width="0.18">2.4</text><line x1="427.5" y1="222.13" x2="429.0" y2="222.13" stroke="#bbb" stroke-width="0.5"/><line x1="599.4" y1="222.13" x2="597.9" y2="222.13" stroke="#bbb" stroke-width="0.5"/><text x="425.30" y="224.13" font-size="5.8" text-anchor="end" font-family="Liberation Sans, sans-serif" font-weight="bold" fill="#1a1a1a" stroke="#1a1a1a" stroke-width="0.18">2.6</text><line x1="427.5" y1="206.29" x2="429.0" y2="206.29" stroke="#bbb" stroke-width="0.5"/><line x1="599.4" y1="206.29" x2="597.9" y2="206.29" stroke="#bbb" stroke-width="0.5"/><text x="425.30" y="208.29" font-size="5.8" text-anchor="end" font-family="Liberation Sans, sans-serif" font-weight="bold" fill="#1a1a1a" stroke="#1a1a1a" stroke-width="0.18">2.8</text><line x1="427.5" y1="190.44" x2="429.0" y2="190.44" stroke="#bbb" stroke-width="0.5"/><line x1="599.4" y1="190.44" x2="597.9" y2="190.44" stroke="#bbb" stroke-width="0.5"/><text x="425.30" y="192.44" font-size="5.8" text-anchor="end" font-family="Liberation Sans, sans-serif" font-weight="bold" fill="#1a1a1a" stroke="#1a1a1a" stroke-width="0.18">3</text><line x1="427.5" y1="174.60" x2="429.0" y2="174.60" stroke="#bbb" stroke-width="0.5"/><line x1="599.4" y1="174.60" x2="597.9" y2="174.60" stroke="#bbb" stroke-width="0.5"/><text x="425.30" y="176.60" font-size="5.8" text-anchor="end" font-family="Liberation Sans, sans-serif" font-weight="bold" fill="#1a1a1a" stroke="#1a1a1a" stroke-width="0.18">3.2</text><polyline points="28.90,109.99 30.39,108.93 31.87,107.88 33.35,106.85 34.83,105.83 36.31,104.82 37.79,103.83 39.27,102.86 40.75,101.89 42.23,100.94 43.71,100.01 45.19,99.08 46.67,98.17 48.16,97.27 49.64,96.39 51.12,95.51 52.60,94.65 54.08,93.80 55.56,92.96 57.04,92.13 58.52,91.32 60.00,90.51 61.48,89.71 62.96,88.92 64.45,88.14 65.93,87.37 67.41,86.61 68.89,85.86 70.37,85.11 71.85,84.37 73.33,83.64 74.81,82.91 76.29,82.19 77.77,81.48 79.25,80.77 80.73,80.07 82.22,79.37 83.70,78.68 85.18,78.00 86.66,77.31 88.14,76.63 89.62,75.96 91.10,75.29 92.58,74.62 94.06,73.95 95.54,73.29 97.02,72.64 98.51,71.98 99.99,71.33 101.47,70.68 102.95,70.04 104.43,69.40 105.91,68.76 107.39,68.12 108.87,67.49 110.35,66.86 111.83,66.24 113.31,65.62 114.79,65.00 116.28,64.39 117.76,63.78 119.24,63.17 120.72,62.57 122.20,61.98 123.68,61.38 125.16,60.80 126.64,60.21 128.12,59.64 129.60,59.07 131.08,58.50 132.57,57.94 134.05,57.38 135.53,56.83 137.01,56.29 138.49,55.75 139.97,55.22 141.45,54.70 142.93,54.18 144.41,53.67 145.89,53.16 147.37,52.66 148.85,52.17 150.34,51.68 151.82,51.20 153.30,50.72 154.78,50.25" fill="none" stroke="#0000ff" stroke-width="0.55" stroke-opacity="0.9" stroke-dasharray="2.6 0.9"/><polyline points="28.90,110.34 30.39,109.33 31.87,108.34 33.35,107.35 34.83,106.38 36.31,105.41 37.79,104.46 39.27,103.52 40.75,102.58 42.23,101.66 43.71,100.74 45.19,99.83 46.67,98.93 48.16,98.04 49.64,97.15 51.12,96.27 52.60,95.40 54.08,94.54 55.56,93.68 57.04,92.83 58.52,91.98 60.00,91.14 61.48,90.30 62.96,89.47 64.45,88.65 65.93,87.83 67.41,87.02 68.89,86.21 70.37,85.40 71.85,84.61 73.33,83.81 74.81,83.03 76.29,82.24 77.77,81.46 79.25,80.69 80.73,79.93 82.22,79.16 83.70,78.41 85.18,77.66 86.66,76.91 88.14,76.17 89.62,75.44 91.10,74.71 92.58,73.99 94.06,73.28 95.54,72.57 97.02,71.88 98.51,71.19 99.99,70.51 101.47,69.84 102.95,69.17 104.43,68.52 105.91,67.87 107.39,67.23 108.87,66.60 110.35,65.98 111.83,65.36 113.31,64.75 114.79,64.15 116.28,63.56 117.76,62.98 119.24,62.41 120.72,61.84 122.20,61.29 123.68,60.74 125.16,60.19 126.64,59.66 128.12,59.13 129.60,58.62 131.08,58.10 132.57,57.60 134.05,57.10 135.53,56.61 137.01,56.12 138.49,55.64 139.97,55.17 141.45,54.70 142.93,54.23 144.41,53.77 145.89,53.32 147.37,52.87 148.85,52.42 150.34,51.97 151.82,51.53 153.30,51.09 154.78,50.65" fill="none" stroke="#0000ff" stroke-width="0.55" stroke-opacity="0.9" stroke-dasharray="2.6 0.9"/><polyline points="28.90,110.92 30.39,109.87 31.87,108.84 33.35,107.80 34.83,106.78 36.31,105.76 37.79,104.75 39.27,103.75 40.75,102.75 42.23,101.76 43.71,100.78 45.19,99.81 46.67,98.84 48.16,97.88 49.64,96.93 51.12,95.99 52.60,95.05 54.08,94.12 55.56,93.20 57.04,92.29 58.52,91.39 60.00,90.49 61.48,89.60 62.96,88.73 64.45,87.86 65.93,86.99 67.41,86.14 68.89,85.30 70.37,84.46 71.85,83.64 73.33,82.82 74.81,82.02 76.29,81.22 77.77,80.43 79.25,79.65 80.73,78.88 82.22,78.12 83.70,77.37 85.18,76.63 86.66,75.90 88.14,75.17 89.62,74.45 91.10,73.75 92.58,73.05 94.06,72.35 95.54,71.67 97.02,71.02 98.51,70.38 99.99,69.75 101.47,69.13 102.95,68.52 104.43,67.91 105.91,67.32 107.39,66.73 108.87,66.15 110.35,65.57 111.83,65.00 113.31,64.44 114.79,63.89 116.28,63.34 117.76,62.79 119.24,62.25 120.72,61.72 122.20,61.19 123.68,60.66 125.16,60.14 126.64,59.62 128.12,59.10 129.60,58.59 131.08,58.07 132.57,57.56 134.05,57.05 135.53,56.55 137.01,56.04 138.49,55.54 139.97,55.03 141.45,54.53 142.93,54.02 144.41,53.52 145.89,53.02 147.37,52.51 148.85,52.01 150.34,51.51 151.82,51.00 153.30,50.50 154.78,49.99" fill="none" stroke="#0000ff" stroke-width="0.55" stroke-opacity="0.9" stroke-dasharray="2.6 0.9"/><polyline points="28.90,110.37 30.39,109.27 31.87,108.19 33.35,107.12 34.83,106.06 36.31,105.02 37.79,103.98 39.27,102.96 40.75,101.95 42.23,100.95 43.71,99.96 45.19,98.99 46.67,98.02 48.16,97.07 49.64,96.13 51.12,95.21 52.60,94.29 54.08,93.39 55.56,92.50 57.04,91.62 58.52,90.76 60.00,89.90 61.48,89.06 62.96,88.23 64.45,87.41 65.93,86.60 67.41,85.80 68.89,85.01 70.37,84.23 71.85,83.47 73.33,82.71 74.81,81.96 76.29,81.22 77.77,80.48 79.25,79.76 80.73,79.04 82.22,78.33 83.70,77.63 85.18,76.93 86.66,76.23 88.14,75.55 89.62,74.86 91.10,74.19 92.58,73.51 94.06,72.84 95.54,72.17 97.02,71.54 98.51,70.91 99.99,70.29 101.47,69.67 102.95,69.06 104.43,68.44 105.91,67.83 107.39,67.23 108.87,66.62 110.35,66.02 111.83,65.42 113.31,64.83 114.79,64.23 116.28,63.64 117.76,63.04 119.24,62.45 120.72,61.87 122.20,61.28 123.68,60.69 125.16,60.11 126.64,59.52 128.12,58.94 129.60,58.36 131.08,57.79 132.57,57.21 134.05,56.64 135.53,56.06 137.01,55.49 138.49,54.93 139.97,54.36 141.45,53.80 142.93,53.24 144.41,52.68 145.89,52.13 147.37,51.58 148.85,51.04 150.34,50.49 151.82,49.96 153.30,49.42 154.78,48.89" fill="none" stroke="#0000ff" stroke-width="0.55" stroke-opacity="0.9" stroke-dasharray="2.6 0.9"/><polyline points="28.90,109.76 30.39,108.72 31.87,107.68 33.35,106.66 34.83,105.66 36.31,104.67 37.79,103.69 39.27,102.72 40.75,101.77 42.23,100.83 43.71,99.90 45.19,98.98 46.67,98.07 48.16,97.18 49.64,96.29 51.12,95.42 52.60,94.55 54.08,93.69 55.56,92.85 57.04,92.01 58.52,91.17 60.00,90.35 61.48,89.53 62.96,88.72 64.45,87.92 65.93,87.12 67.41,86.33 68.89,85.54 70.37,84.76 71.85,83.98 73.33,83.21 74.81,82.44 76.29,81.67 77.77,80.91 79.25,80.15 80.73,79.39 82.22,78.63 83.70,77.88 85.18,77.13 86.66,76.38 88.14,75.63 89.62,74.88 91.10,74.13 92.58,73.39 94.06,72.64 95.54,71.89 97.02,71.20 98.51,70.50 99.99,69.81 101.47,69.12 102.95,68.44 104.43,67.76 105.91,67.09 107.39,66.41 108.87,65.75 110.35,65.09 111.83,64.43 113.31,63.78 114.79,63.13 116.28,62.49 117.76,61.85 119.24,61.22 120.72,60.59 122.20,59.97 123.68,59.36 125.16,58.75 126.64,58.15 128.12,57.55 129.60,56.96 131.08,56.38 132.57,55.81 134.05,55.24 135.53,54.68 137.01,54.13 138.49,53.58 139.97,53.04 141.45,52.51 142.93,51.98 144.41,51.46 145.89,50.95 147.37,50.44 148.85,49.94 150.34,49.45 151.82,48.96 153.30,48.48 154.78,48.01" fill="none" stroke="#0000ff" stroke-width="0.55" stroke-opacity="0.9" stroke-dasharray="2.6 0.9"/><polyline points="28.90,110.28 30.39,109.26 31.87,108.25 33.35,107.26 34.83,106.27 36.31,105.28 37.79,104.31 39.27,103.35 40.75,102.39 42.23,101.44 43.71,100.49 45.19,99.55 46.67,98.62 48.16,97.70 49.64,96.78 51.12,95.86 52.60,94.95 54.08,94.05 55.56,93.15 57.04,92.26 58.52,91.37 60.00,90.49 61.48,89.61 62.96,88.73 64.45,87.86 65.93,87.00 67.41,86.14 68.89,85.28 70.37,84.43 71.85,83.58 73.33,82.74 74.81,81.90 76.29,81.07 77.77,80.24 79.25,79.42 80.73,78.60 82.22,77.79 83.70,76.98 85.18,76.17 86.66,75.37 88.14,74.58 89.62,73.79 91.10,73.01 92.58,72.23 94.06,71.45 95.54,70.68 97.02,69.98 98.51,69.28 99.99,68.58 101.47,67.90 102.95,67.23 104.43,66.56 105.91,65.91 107.39,65.26 108.87,64.62 110.35,63.99 111.83,63.36 113.31,62.75 114.79,62.14 116.28,61.54 117.76,60.95 119.24,60.37 120.72,59.80 122.20,59.23 123.68,58.67 125.16,58.12 126.64,57.57 128.12,57.03 129.60,56.50 131.08,55.97 132.57,55.45 134.05,54.93 135.53,54.42 137.01,53.92 138.49,53.41 139.97,52.92 141.45,52.42 142.93,51.93 144.41,51.45 145.89,50.96 147.37,50.48 148.85,50.00 150.34,49.52 151.82,49.05 153.30,48.57 154.78,48.10" fill="none" stroke="#0000ff" stroke-width="0.55" stroke-opacity="0.9" stroke-dasharray="2.6 0.9"/><polyline points="28.90,110.57 30.39,109.50 31.87,108.43 33.35,107.37 34.83,106.32 36.31,105.27 37.79,104.24 39.27,103.21 40.75,102.19 42.23,101.18 43.71,100.17 45.19,99.18 46.67,98.19 48.16,97.21 49.64,96.24 51.12,95.28 52.60,94.33 54.08,93.38 55.56,92.45 57.04,91.52 58.52,90.60 60.00,89.70 61.48,88.80 62.96,87.91 64.45,87.03 65.93,86.16 67.41,85.30 68.89,84.44 70.37,83.60 71.85,82.77 73.33,81.94 74.81,81.13 76.29,80.32 77.77,79.53 79.25,78.74 80.73,77.96 82.22,77.19 83.70,76.42 85.18,75.67 86.66,74.92 88.14,74.18 89.62,73.45 91.10,72.72 92.58,72.00 94.06,71.28 95.54,70.57 97.02,69.92 98.51,69.28 99.99,68.65 101.47,68.02 102.95,67.41 104.43,66.79 105.91,66.19 107.39,65.59 108.87,64.99 110.35,64.41 111.83,63.82 113.31,63.24 114.79,62.67 116.28,62.10 117.76,61.53 119.24,60.96 120.72,60.40 122.20,59.84 123.68,59.29 125.16,58.73 126.64,58.18 128.12,57.63 129.60,57.08 131.08,56.53 132.57,55.98 134.05,55.44 135.53,54.89 137.01,54.34 138.49,53.80 139.97,53.26 141.45,52.71 142.93,52.17 144.41,51.63 145.89,51.09 147.37,50.55 148.85,50.01 150.34,49.47 151.82,48.93 153.30,48.39 154.78,47.86" fill="none" stroke="#0000ff" stroke-width="0.55" stroke-opacity="0.9" stroke-dasharray="2.6 0.9"/><polyline points="28.90,109.67 30.39,108.58 31.87,107.50 33.35,106.43 34.83,105.38 36.31,104.33 37.79,103.30 39.27,102.28 40.75,101.28 42.23,100.28 43.71,99.30 45.19,98.34 46.67,97.38 48.16,96.44 49.64,95.50 51.12,94.58 52.60,93.68 54.08,92.78 55.56,91.89 57.04,91.02 58.52,90.16 60.00,89.30 61.48,88.46 62.96,87.63 64.45,86.80 65.93,85.99 67.41,85.18 68.89,84.38 70.37,83.59 71.85,82.81 73.33,82.03 74.81,81.26 76.29,80.50 77.77,79.74 79.25,78.99 80.73,78.24 82.22,77.49 83.70,76.75 85.18,76.01 86.66,75.28 88.14,74.54 89.62,73.81 91.10,73.08 92.58,72.35 94.06,71.62 95.54,70.89 97.02,70.23 98.51,69.57 99.99,68.91 101.47,68.26 102.95,67.60 104.43,66.95 105.91,66.30 107.39,65.66 108.87,65.01 110.35,64.37 111.83,63.73 113.31,63.09 114.79,62.45 116.28,61.82 117.76,61.19 119.24,60.56 120.72,59.93 122.20,59.30 123.68,58.68 125.16,58.05 126.64,57.44 128.12,56.82 129.60,56.21 131.08,55.60 132.57,54.99 134.05,54.39 135.53,53.79 137.01,53.20 138.49,52.61 139.97,52.02 141.45,51.44 142.93,50.87 144.41,50.30 145.89,49.73 147.37,49.17 148.85,48.62 150.34,48.07 151.82,47.53 153.30,46.99 154.78,46.46" fill="none" stroke="#0000ff" stroke-width="0.55" stroke-opacity="0.9" stroke-dasharray="2.6 0.9"/><polyline points="28.90,109.23 30.39,108.20 31.87,107.17 33.35,106.16 34.83,105.17 36.31,104.18 37.79,103.21 39.27,102.24 40.75,101.29 42.23,100.35 43.71,99.41 45.19,98.49 46.67,97.57 48.16,96.67 49.64,95.77 51.12,94.88 52.60,94.00 54.08,93.12 55.56,92.25 57.04,91.38 58.52,90.52 60.00,89.67 61.48,88.82 62.96,87.98 64.45,87.14 65.93,86.30 67.41,85.47 68.89,84.64 70.37,83.81 71.85,82.99 73.33,82.17 74.81,81.35 76.29,80.53 77.77,79.71 79.25,78.90 80.73,78.09 82.22,77.27 83.70,76.46 85.18,75.65 86.66,74.84 88.14,74.04 89.62,73.23 91.10,72.42 92.58,71.62 94.06,70.81 95.54,70.01 97.02,69.28 98.51,68.55 99.99,67.83 101.47,67.12 102.95,66.41 104.43,65.70 105.91,65.00 107.39,64.31 108.87,63.62 110.35,62.94 111.83,62.26 113.31,61.59 114.79,60.93 116.28,60.27 117.76,59.62 119.24,58.98 120.72,58.34 122.20,57.72 123.68,57.10 125.16,56.48 126.64,55.88 128.12,55.28 129.60,54.69 131.08,54.10 132.57,53.53 134.05,52.96 135.53,52.40 137.01,51.85 138.49,51.30 139.97,50.76 141.45,50.23 142.93,49.71 144.41,49.19 145.89,48.68 147.37,48.18 148.85,47.68 150.34,47.19 151.82,46.70 153.30,46.22 154.78,45.74" fill="none" stroke="#0000ff" stroke-width="0.55" stroke-opacity="0.9" stroke-dasharray="2.6 0.9"/><polyline points="28.90,109.94 30.39,108.91 31.87,107.88 33.35,106.86 34.83,105.85 36.31,104.85 37.79,103.85 39.27,102.86 40.75,101.87 42.23,100.89 43.71,99.92 45.19,98.95 46.67,97.99 48.16,97.03 49.64,96.08 51.12,95.13 52.60,94.19 54.08,93.25 55.56,92.32 57.04,91.40 58.52,90.48 60.00,89.56 61.48,88.65 62.96,87.74 64.45,86.84 65.93,85.94 67.41,85.05 68.89,84.17 70.37,83.29 71.85,82.41 73.33,81.54 74.81,80.68 76.29,79.82 77.77,78.97 79.25,78.12 80.73,77.28 82.22,76.44 83.70,75.61 85.18,74.79 86.66,73.97 88.14,73.16 89.62,72.35 91.10,71.55 92.58,70.75 94.06,69.96 95.54,69.18 97.02,68.48 98.51,67.78 99.99,67.09 101.47,66.42 102.95,65.75 104.43,65.09 105.91,64.43 107.39,63.79 108.87,63.16 110.35,62.53 111.83,61.91 113.31,61.30 114.79,60.70 116.28,60.10 117.76,59.51 119.24,58.93 120.72,58.35 122.20,57.78 123.68,57.22 125.16,56.66 126.64,56.11 128.12,55.56 129.60,55.02 131.08,54.48 132.57,53.95 134.05,53.42 135.53,52.89 137.01,52.37 138.49,51.85 139.97,51.33 141.45,50.82 142.93,50.31 144.41,49.80 145.89,49.29 147.37,48.79 148.85,48.28 150.34,47.78 151.82,47.27 153.30,46.77 154.78,46.27" fill="none" stroke="#0000ff" stroke-width="0.55" stroke-opacity="0.9" stroke-dasharray="2.6 0.9"/><polyline points="28.90,109.89 30.39,108.79 31.87,107.70 33.35,106.62 34.83,105.55 36.31,104.49 37.79,103.44 39.27,102.40 40.75,101.37 42.23,100.34 43.71,99.33 45.19,98.32 46.67,97.32 48.16,96.34 49.64,95.36 51.12,94.39 52.60,93.43 54.08,92.49 55.56,91.55 57.04,90.62 58.52,89.70 60.00,88.79 61.48,87.90 62.96,87.01 64.45,86.13 65.93,85.26 67.41,84.40 68.89,83.55 70.37,82.71 71.85,81.88 73.33,81.06 74.81,80.24 76.29,79.44 77.77,78.64 79.25,77.85 80.73,77.07 82.22,76.29 83.70,75.52 85.18,74.76 86.66,74.00 88.14,73.25 89.62,72.51 91.10,71.76 92.58,71.03 94.06,70.29 95.54,69.56 97.02,68.91 98.51,68.26 99.99,67.62 101.47,66.99 102.95,66.36 104.43,65.73 105.91,65.11 107.39,64.49 108.87,63.88 110.35,63.27 111.83,62.66 113.31,62.06 114.79,61.46 116.28,60.86 117.76,60.26 119.24,59.67 120.72,59.07 122.20,58.48 123.68,57.89 125.16,57.31 126.64,56.72 128.12,56.13 129.60,55.55 131.08,54.96 132.57,54.38 134.05,53.80 135.53,53.22 137.01,52.64 138.49,52.06 139.97,51.49 141.45,50.91 142.93,50.34 144.41,49.77 145.89,49.20 147.37,48.63 148.85,48.07 150.34,47.50 151.82,46.94 153.30,46.39 154.78,45.83" fill="none" stroke="#0000ff" stroke-width="0.55" stroke-opacity="0.9" stroke-dasharray="2.6 0.9"/><polyline points="28.90,108.95 30.39,107.87 31.87,106.80 33.35,105.74 34.83,104.70 36.31,103.67 37.79,102.66 39.27,101.65 40.75,100.66 42.23,99.68 43.71,98.71 45.19,97.76 46.67,96.82 48.16,95.89 49.64,94.96 51.12,94.06 52.60,93.16 54.08,92.27 55.56,91.39 57.04,90.52 58.52,89.66 60.00,88.81 61.48,87.96 62.96,87.13 64.45,86.30 65.93,85.48 67.41,84.66 68.89,83.85 70.37,83.05 71.85,82.25 73.33,81.46 74.81,80.67 76.29,79.88 77.77,79.10 79.25,78.32 80.73,77.54 82.22,76.77 83.70,76.00 85.18,75.22 86.66,74.45 88.14,73.68 89.62,72.91 91.10,72.14 92.58,71.37 94.06,70.60 95.54,69.82 97.02,69.13 98.51,68.44 99.99,67.74 101.47,67.06 102.95,66.37 104.43,65.69 105.91,65.00 107.39,64.32 108.87,63.65 110.35,62.97 111.83,62.30 113.31,61.63 114.79,60.96 116.28,60.30 117.76,59.64 119.24,58.98 120.72,58.33 122.20,57.68 123.68,57.04 125.16,56.39 126.64,55.76 128.12,55.13 129.60,54.50 131.08,53.88 132.57,53.26 134.05,52.65 135.53,52.04 137.01,51.44 138.49,50.85 139.97,50.26 141.45,49.68 142.93,49.11 144.41,48.54 145.89,47.98 147.37,47.43 148.85,46.88 150.34,46.34 151.82,45.81 153.30,45.29 154.78,44.77" fill="none" stroke="#0000ff" stroke-width="0.55" stroke-opacity="0.9" stroke-dasharray="2.6 0.9"/><polyline points="28.90,109.11 30.39,108.08 31.87,107.07 33.35,106.07 34.83,105.07 36.31,104.09 37.79,103.12 39.27,102.16 40.75,101.20 42.23,100.25 43.71,99.31 45.19,98.38 46.67,97.46 48.16,96.54 49.64,95.63 51.12,94.72 52.60,93.82 54.08,92.93 55.56,92.04 57.04,91.15 58.52,90.27 60.00,89.39 61.48,88.52 62.96,87.65 64.45,86.78 65.93,85.92 67.41,85.06 68.89,84.20 70.37,83.34 71.85,82.49 73.33,81.64 74.81,80.79 76.29,79.94 77.77,79.10 79.25,78.26 80.73,77.41 82.22,76.58 83.70,75.74 85.18,74.90 86.66,74.07 88.14,73.24 89.62,72.41 91.10,71.58 92.58,70.75 94.06,69.93 95.54,69.11 97.02,68.37 98.51,67.64 99.99,66.91 101.47,66.19 102.95,65.48 104.43,64.77 105.91,64.07 107.39,63.38 108.87,62.69 110.35,62.02 111.83,61.35 113.31,60.68 114.79,60.03 116.28,59.38 117.76,58.74 119.24,58.11 120.72,57.49 122.20,56.87 123.68,56.26 125.16,55.66 126.64,55.07 128.12,54.49 129.60,53.91 131.08,53.34 132.57,52.78 134.05,52.23 135.53,51.68 137.01,51.14 138.49,50.61 139.97,50.08 141.45,49.56 142.93,49.05 144.41,48.54 145.89,48.03 147.37,47.54 148.85,47.04 150.34,46.56 151.82,46.07 153.30,45.59 154.78,45.12" fill="none" stroke="#0000ff" stroke-width="0.55" stroke-opacity="0.9" stroke-dasharray="2.6 0.9"/><polyline points="28.90,109.49 30.39,108.43 31.87,107.38 33.35,106.34 34.83,105.31 36.31,104.28 37.79,103.26 39.27,102.24 40.75,101.23 42.23,100.22 43.71,99.22 45.19,98.23 46.67,97.24 48.16,96.26 49.64,95.28 51.12,94.31 52.60,93.35 54.08,92.39 55.56,91.44 57.04,90.49 58.52,89.55 60.00,88.61 61.48,87.68 62.96,86.76 64.45,85.85 65.93,84.93 67.41,84.03 68.89,83.13 70.37,82.24 71.85,81.36 73.33,80.48 74.81,79.61 76.29,78.75 77.77,77.89 79.25,77.04 80.73,76.20 82.22,75.36 83.70,74.53 85.18,73.70 86.66,72.89 88.14,72.08 89.62,71.27 91.10,70.47 92.58,69.68 94.06,68.89 95.54,68.10 97.02,67.41 98.51,66.73 99.99,66.05 101.47,65.38 102.95,64.73 104.43,64.07 105.91,63.43 107.39,62.79 108.87,62.17 110.35,61.54 111.83,60.93 113.31,60.32 114.79,59.72 116.28,59.12 117.76,58.53 119.24,57.94 120.72,57.36 122.20,56.79 123.68,56.22 125.16,55.65 126.64,55.09 128.12,54.53 129.60,53.97 131.08,53.42 132.57,52.87 134.05,52.32 135.53,51.78 137.01,51.23 138.49,50.69 139.97,50.15 141.45,49.61 142.93,49.08 144.41,48.54 145.89,48.01 147.37,47.48 148.85,46.94 150.34,46.41 151.82,45.88 153.30,45.36 154.78,44.83" fill="none" stroke="#0000ff" stroke-width="0.55" stroke-opacity="0.9" stroke-dasharray="2.6 0.9"/><polyline points="28.90,108.78 30.39,107.67 31.87,106.58 33.35,105.49 34.83,104.42 36.31,103.35 37.79,102.30 39.27,101.25 40.75,100.22 42.23,99.19 43.71,98.18 45.19,97.17 46.67,96.18 48.16,95.20 49.64,94.22 51.12,93.26 52.60,92.31 54.08,91.37 55.56,90.44 57.04,89.52 58.52,88.61 60.00,87.71 61.48,86.82 62.96,85.93 64.45,85.06 65.93,84.20 67.41,83.35 68.89,82.50 70.37,81.66 71.85,80.83 73.33,80.01 74.81,79.20 76.29,78.39 77.77,77.59 79.25,76.80 80.73,76.01 82.22,75.22 83.70,74.44 85.18,73.67 86.66,72.90 88.14,72.13 89.62,71.37 91.10,70.61 92.58,69.85 94.06,69.09 95.54,68.33 97.02,67.67 98.51,67.00 99.99,66.34 101.47,65.69 102.95,65.03 104.43,64.38 105.91,63.73 107.39,63.09 108.87,62.45 110.35,61.81 111.83,61.17 113.31,60.53 114.79,59.90 116.28,59.26 117.76,58.63 119.24,58.00 120.72,57.37 122.20,56.75 123.68,56.12 125.16,55.50 126.64,54.87 128.12,54.25 129.60,53.63 131.08,53.02 132.57,52.40 134.05,51.79 135.53,51.18 137.01,50.57 138.49,49.96 139.97,49.36 141.45,48.76 142.93,48.17 144.41,47.57 145.89,46.99 147.37,46.40 148.85,45.82 150.34,45.25 151.82,44.68 153.30,44.11 154.78,43.55" fill="none" stroke="#0000ff" stroke-width="0.55" stroke-opacity="0.9" stroke-dasharray="2.6 0.9"/><polyline points="28.90,107.65 30.39,106.58 31.87,105.54 33.35,104.50 34.83,103.48 36.31,102.46 37.79,101.47 39.27,100.48 40.75,99.50 42.23,98.54 43.71,97.58 45.19,96.64 46.67,95.70 48.16,94.78 49.64,93.86 51.12,92.96 52.60,92.06 54.08,91.17 55.56,90.29 57.04,89.41 58.52,88.55 60.00,87.68 61.48,86.83 62.96,85.98 64.45,85.13 65.93,84.29 67.41,83.45 68.89,82.62 70.37,81.79 71.85,80.96 73.33,80.14 74.81,79.31 76.29,78.49 77.77,77.67 79.25,76.85 80.73,76.04 82.22,75.22 83.70,74.40 85.18,73.58 86.66,72.77 88.14,71.95 89.62,71.13 91.10,70.31 92.58,69.49 94.06,68.67 95.54,67.85 97.02,67.12 98.51,66.39 99.99,65.66 101.47,64.94 102.95,64.21 104.43,63.49 105.91,62.78 107.39,62.07 108.87,61.36 110.35,60.65 111.83,59.95 113.31,59.25 114.79,58.56 116.28,57.87 117.76,57.19 119.24,56.51 120.72,55.84 122.20,55.17 123.68,54.51 125.16,53.85 126.64,53.21 128.12,52.56 129.60,51.93 131.08,51.30 132.57,50.68 134.05,50.06 135.53,49.45 137.01,48.85 138.49,48.26 139.97,47.68 141.45,47.10 142.93,46.53 144.41,45.97 145.89,45.42 147.37,44.88 148.85,44.34 150.34,43.81 151.82,43.29 153.30,42.78 154.78,42.28" fill="none" stroke="#0000ff" stroke-width="0.55" stroke-opacity="0.9" stroke-dasharray="2.6 0.9"/><polyline points="28.90,107.21 30.39,106.19 31.87,105.18 33.35,104.18 34.83,103.19 36.31,102.20 37.79,101.22 39.27,100.25 40.75,99.28 42.23,98.32 43.71,97.36 45.19,96.41 46.67,95.46 48.16,94.52 49.64,93.58 51.12,92.65 52.60,91.72 54.08,90.79 55.56,89.86 57.04,88.94 58.52,88.02 60.00,87.11 61.48,86.19 62.96,85.28 64.45,84.37 65.93,83.47 67.41,82.56 68.89,81.66 70.37,80.76 71.85,79.86 73.33,78.96 74.81,78.07 76.29,77.18 77.77,76.29 79.25,75.40 80.73,74.52 82.22,73.64 83.70,72.76 85.18,71.89 86.66,71.01 88.14,70.14 89.62,69.28 91.10,68.41 92.58,67.55 94.06,66.70 95.54,65.85 97.02,65.09 98.51,64.34 99.99,63.60 101.47,62.87 102.95,62.14 104.43,61.42 105.91,60.71 107.39,60.01 108.87,59.32 110.35,58.63 111.83,57.95 113.31,57.28 114.79,56.62 116.28,55.96 117.76,55.32 119.24,54.68 120.72,54.05 122.20,53.43 123.68,52.81 125.16,52.21 126.64,51.61 128.12,51.02 129.60,50.44 131.08,49.86 132.57,49.29 134.05,48.73 135.53,48.17 137.01,47.62 138.49,47.08 139.97,46.54 141.45,46.00 142.93,45.48 144.41,44.95 145.89,44.44 147.37,43.92 148.85,43.42 150.34,42.91 151.82,42.41 153.30,41.92 154.78,41.42" fill="none" stroke="#0000ff" stroke-width="0.55" stroke-opacity="0.9" stroke-dasharray="2.6 0.9"/><polyline points="28.90,106.93 30.39,105.86 31.87,104.80 33.35,103.75 34.83,102.70 36.31,101.66 37.79,100.62 39.27,99.59 40.75,98.56 42.23,97.54 43.71,96.53 45.19,95.52 46.67,94.51 48.16,93.51 49.64,92.52 51.12,91.53 52.60,90.55 54.08,89.58 55.56,88.61 57.04,87.65 58.52,86.69 60.00,85.74 61.48,84.80 62.96,83.87 64.45,82.94 65.93,82.01 67.41,81.10 68.89,80.19 70.37,79.29 71.85,78.39 73.33,77.50 74.81,76.62 76.29,75.75 77.77,74.88 79.25,74.02 80.73,73.17 82.22,72.32 83.70,71.48 85.18,70.64 86.66,69.81 88.14,68.99 89.62,68.17 91.10,67.36 92.58,66.55 94.06,65.75 95.54,64.95 97.02,64.25 98.51,63.56 99.99,62.88 101.47,62.20 102.95,61.53 104.43,60.86 105.91,60.20 107.39,59.55 108.87,58.90 110.35,58.26 111.83,57.62 113.31,56.99 114.79,56.36 116.28,55.74 117.76,55.12 119.24,54.50 120.72,53.89 122.20,53.28 123.68,52.67 125.16,52.07 126.64,51.47 128.12,50.87 129.60,50.28 131.08,49.69 132.57,49.10 134.05,48.51 135.53,47.92 137.01,47.34 138.49,46.75 139.97,46.17 141.45,45.60 142.93,45.02 144.41,44.45 145.89,43.88 147.37,43.31 148.85,42.74 150.34,42.18 151.82,41.61 153.30,41.06 154.78,40.50" fill="none" stroke="#0000ff" stroke-width="0.55" stroke-opacity="0.9" stroke-dasharray="2.6 0.9"/><polyline points="28.90,105.75 30.39,104.66 31.87,103.59 33.35,102.52 34.83,101.47 36.31,100.42 37.79,99.38 39.27,98.36 40.75,97.34 42.23,96.34 43.71,95.34 45.19,94.36 46.67,93.38 48.16,92.41 49.64,91.46 51.12,90.51 52.60,89.57 54.08,88.65 55.56,87.73 57.04,86.82 58.52,85.92 60.00,85.02 61.48,84.14 62.96,83.26 64.45,82.39 65.93,81.53 67.41,80.67 68.89,79.83 70.37,78.98 71.85,78.15 73.33,77.31 74.81,76.49 76.29,75.67 77.77,74.85 79.25,74.03 80.73,73.22 82.22,72.42 83.70,71.61 85.18,70.81 86.66,70.01 88.14,69.21 89.62,68.41 91.10,67.61 92.58,66.82 94.06,66.02 95.54,65.22 97.02,64.52 98.51,63.81 99.99,63.11 101.47,62.42 102.95,61.72 104.43,61.02 105.91,60.33 107.39,59.64 108.87,58.95 110.35,58.26 111.83,57.57 113.31,56.89 114.79,56.20 116.28,55.52 117.76,54.84 119.24,54.16 120.72,53.49 122.20,52.82 123.68,52.14 125.16,51.48 126.64,50.81 128.12,50.15 129.60,49.49 131.08,48.84 132.57,48.19 134.05,47.54 135.53,46.90 137.01,46.26 138.49,45.63 139.97,45.00 141.45,44.38 142.93,43.77 144.41,43.16 145.89,42.56 147.37,41.96 148.85,41.38 150.34,40.80 151.82,40.23 153.30,39.66 154.78,39.11" fill="none" stroke="#0000ff" stroke-width="0.55" stroke-opacity="0.9" stroke-dasharray="2.6 0.9"/><polyline points="28.90,104.60 30.39,103.58 31.87,102.57 33.35,101.58 34.83,100.59 36.31,99.61 37.79,98.64 39.27,97.69 40.75,96.73 42.23,95.79 43.71,94.86 45.19,93.93 46.67,93.01 48.16,92.10 49.64,91.19 51.12,90.29 52.60,89.39 54.08,88.50 55.56,87.61 57.04,86.73 58.52,85.85 60.00,84.97 61.48,84.10 62.96,83.23 64.45,82.36 65.93,81.49 67.41,80.62 68.89,79.76 70.37,78.90 71.85,78.04 73.33,77.18 74.81,76.32 76.29,75.45 77.77,74.59 79.25,73.73 80.73,72.87 82.22,72.01 83.70,71.15 85.18,70.29 86.66,69.43 88.14,68.57 89.62,67.71 91.10,66.84 92.58,65.98 94.06,65.12 95.54,64.26 97.02,63.49 98.51,62.72 99.99,61.95 101.47,61.19 102.95,60.43 104.43,59.68 105.91,58.93 107.39,58.19 108.87,57.45 110.35,56.71 111.83,55.99 113.31,55.26 114.79,54.55 116.28,53.84 117.76,53.13 119.24,52.44 120.72,51.75 122.20,51.06 123.68,50.39 125.16,49.72 126.64,49.06 128.12,48.41 129.60,47.77 131.08,47.14 132.57,46.51 134.05,45.89 135.53,45.29 137.01,44.69 138.49,44.10 139.97,43.51 141.45,42.94 142.93,42.38 144.41,41.82 145.89,41.28 147.37,40.74 148.85,40.21 150.34,39.69 151.82,39.18 153.30,38.67 154.78,38.18" fill="none" stroke="#0000ff" stroke-width="0.55" stroke-opacity="0.9" stroke-dasharray="2.6 0.9"/><polyline points="28.90,104.87 30.39,103.86 31.87,102.87 33.35,101.88 34.83,100.89 36.31,99.91 37.79,98.93 39.27,97.95 40.75,96.98 42.23,96.02 43.71,95.05 45.19,94.09 46.67,93.13 48.16,92.18 49.64,91.22 51.12,90.27 52.60,89.33 54.08,88.38 55.56,87.44 57.04,86.49 58.52,85.56 60.00,84.62 61.48,83.68 62.96,82.75 64.45,81.82 65.93,80.89 67.41,79.97 68.89,79.05 70.37,78.13 71.85,77.21 73.33,76.30 74.81,75.39 76.29,74.48 77.77,73.58 79.25,72.68 80.73,71.78 82.22,70.89 83.70,70.00 85.18,69.12 86.66,68.24 88.14,67.36 89.62,66.49 91.10,65.63 92.58,64.77 94.06,63.91 95.54,63.06 97.02,62.31 98.51,61.56 99.99,60.82 101.47,60.08 102.95,59.36 104.43,58.64 105.91,57.93 107.39,57.23 108.87,56.54 110.35,55.85 111.83,55.18 113.31,54.51 114.79,53.85 116.28,53.19 117.76,52.55 119.24,51.91 120.72,51.28 122.20,50.65 123.68,50.04 125.16,49.43 126.64,48.82 128.12,48.23 129.60,47.64 131.08,47.05 132.57,46.47 134.05,45.90 135.53,45.33 137.01,44.77 138.49,44.22 139.97,43.66 141.45,43.12 142.93,42.57 144.41,42.03 145.89,41.50 147.37,40.97 148.85,40.44 150.34,39.92 151.82,39.40 153.30,38.88 154.78,38.37" fill="none" stroke="#0000ff" stroke-width="0.55" stroke-opacity="0.9" stroke-dasharray="2.6 0.9"/><polyline points="28.90,104.53 30.39,103.47 31.87,102.42 33.35,101.37 34.83,100.33 36.31,99.29 37.79,98.26 39.27,97.23 40.75,96.21 42.23,95.20 43.71,94.19 45.19,93.18 46.67,92.19 48.16,91.20 49.64,90.21 51.12,89.23 52.60,88.26 54.08,87.30 55.56,86.34 57.04,85.39 58.52,84.44 60.00,83.51 61.48,82.58 62.96,81.66 64.45,80.74 65.93,79.83 67.41,78.93 68.89,78.04 70.37,77.15 71.85,76.27 73.33,75.39 74.81,74.53 76.29,73.67 77.77,72.81 79.25,71.97 80.73,71.12 82.22,70.29 83.70,69.46 85.18,68.64 86.66,67.82 88.14,67.00 89.62,66.19 91.10,65.39 92.58,64.59 94.06,63.79 95.54,63.00 97.02,62.30 98.51,61.60 99.99,60.91 101.47,60.22 102.95,59.54 104.43,58.86 105.91,58.19 107.39,57.52 108.87,56.86 110.35,56.19 111.83,55.54 113.31,54.88 114.79,54.23 116.28,53.58 117.76,52.93 119.24,52.29 120.72,51.65 122.20,51.01 123.68,50.37 125.16,49.74 126.64,49.11 128.12,48.48 129.60,47.85 131.08,47.23 132.57,46.60 134.05,45.98 135.53,45.36 137.01,44.75 138.49,44.13 139.97,43.52 141.45,42.92 142.93,42.31 144.41,41.71 145.89,41.11 147.37,40.52 148.85,39.93 150.34,39.35 151.82,38.77 153.30,38.19 154.78,37.62" fill="none" stroke="#0000ff" stroke-width="0.55" stroke-opacity="0.9" stroke-dasharray="2.6 0.9"/><polyline points="28.90,102.59 30.39,101.55 31.87,100.52 33.35,99.50 34.83,98.49 36.31,97.49 37.79,96.50 39.27,95.52 40.75,94.54 42.23,93.58 43.71,92.62 45.19,91.68 46.67,90.74 48.16,89.81 49.64,88.89 51.12,87.97 52.60,87.07 54.08,86.17 55.56,85.28 57.04,84.39 58.52,83.51 60.00,82.64 61.48,81.77 62.96,80.91 64.45,80.06 65.93,79.21 67.41,78.36 68.89,77.52 70.37,76.68 71.85,75.84 73.33,75.01 74.81,74.18 76.29,73.35 77.77,72.53 79.25,71.70 80.73,70.88 82.22,70.06 83.70,69.24 85.18,68.42 86.66,67.60 88.14,66.78 89.62,65.96 91.10,65.14 92.58,64.32 94.06,63.50 95.54,62.68 97.02,61.94 98.51,61.20 99.99,60.46 101.47,59.73 102.95,58.99 104.43,58.26 105.91,57.52 107.39,56.79 108.87,56.06 110.35,55.34 111.83,54.61 113.31,53.89 114.79,53.17 116.28,52.45 117.76,51.74 119.24,51.03 120.72,50.32 122.20,49.62 123.68,48.92 125.16,48.23 126.64,47.54 128.12,46.85 129.60,46.17 131.08,45.50 132.57,44.84 134.05,44.17 135.53,43.52 137.01,42.88 138.49,42.24 139.97,41.61 141.45,40.98 142.93,40.37 144.41,39.76 145.89,39.17 147.37,38.58 148.85,38.00 150.34,37.43 151.82,36.87 153.30,36.32 154.78,35.79" fill="none" stroke="#0000ff" stroke-width="0.55" stroke-opacity="0.9" stroke-dasharray="2.6 0.9"/><polyline points="28.90,100.97 30.39,100.02 31.87,99.08 33.35,98.14 34.83,97.20 36.31,96.28 37.79,95.36 39.27,94.44 40.75,93.53 42.23,92.62 43.71,91.72 45.19,90.82 46.67,89.93 48.16,89.03 49.64,88.14 51.12,87.26 52.60,86.37 54.08,85.48 55.56,84.60 57.04,83.72 58.52,82.84 60.00,81.96 61.48,81.08 62.96,80.20 64.45,79.32 65.93,78.44 67.41,77.56 68.89,76.68 70.37,75.80 71.85,74.92 73.33,74.04 74.81,73.16 76.29,72.28 77.77,71.39 79.25,70.51 80.73,69.63 82.22,68.75 83.70,67.87 85.18,66.99 86.66,66.11 88.14,65.23 89.62,64.35 91.10,63.47 92.58,62.60 94.06,61.72 95.54,60.85 97.02,60.06 98.51,59.26 99.99,58.48 101.47,57.70 102.95,56.92 104.43,56.15 105.91,55.38 107.39,54.63 108.87,53.87 110.35,53.13 111.83,52.39 113.31,51.66 114.79,50.93 116.28,50.22 117.76,49.51 119.24,48.81 120.72,48.12 122.20,47.43 123.68,46.76 125.16,46.10 126.64,45.44 128.12,44.79 129.60,44.15 131.08,43.52 132.57,42.90 134.05,42.29 135.53,41.69 137.01,41.10 138.49,40.52 139.97,39.94 141.45,39.38 142.93,38.82 144.41,38.27 145.89,37.73 147.37,37.20 148.85,36.68 150.34,36.17 151.82,35.66 153.30,35.16 154.78,34.67" fill="none" stroke="#0000ff" stroke-width="0.55" stroke-opacity="0.9" stroke-dasharray="2.6 0.9"/><polyline points="28.90,100.52 30.39,99.57 31.87,98.62 33.35,97.67 34.83,96.72 36.31,95.77 37.79,94.82 39.27,93.87 40.75,92.93 42.23,91.98 43.71,91.04 45.19,90.10 46.67,89.15 48.16,88.21 49.64,87.27 51.12,86.33 52.60,85.39 54.08,84.45 55.56,83.51 57.04,82.58 58.52,81.65 60.00,80.71 61.48,79.78 62.96,78.86 64.45,77.93 65.93,77.01 67.41,76.09 68.89,75.17 70.37,74.26 71.85,73.35 73.33,72.45 74.81,71.54 76.29,70.65 77.77,69.75 79.25,68.86 80.73,67.98 82.22,67.10 83.70,66.23 85.18,65.36 86.66,64.50 88.14,63.64 89.62,62.79 91.10,61.94 92.58,61.10 94.06,60.26 95.54,59.44 97.02,58.68 98.51,57.93 99.99,57.19 101.47,56.46 102.95,55.73 104.43,55.02 105.91,54.30 107.39,53.60 108.87,52.91 110.35,52.22 111.83,51.53 113.31,50.86 114.79,50.19 116.28,49.53 117.76,48.87 119.24,48.23 120.72,47.58 122.20,46.95 123.68,46.32 125.16,45.69 126.64,45.07 128.12,44.46 129.60,43.85 131.08,43.25 132.57,42.65 134.05,42.05 135.53,41.46 137.01,40.88 138.49,40.30 139.97,39.72 141.45,39.15 142.93,38.58 144.41,38.02 145.89,37.46 147.37,36.91 148.85,36.36 150.34,35.81 151.82,35.27 153.30,34.73 154.78,34.20" fill="none" stroke="#0000ff" stroke-width="0.55" stroke-opacity="0.9" stroke-dasharray="2.6 0.9"/><polyline points="28.90,99.44 30.39,98.45 31.87,97.45 33.35,96.47 34.83,95.48 36.31,94.50 37.79,93.52 39.27,92.55 40.75,91.58 42.23,90.62 43.71,89.66 45.19,88.71 46.67,87.76 48.16,86.82 49.64,85.88 51.12,84.95 52.60,84.02 54.08,83.10 55.56,82.18 57.04,81.28 58.52,80.37 60.00,79.47 61.48,78.58 62.96,77.70 64.45,76.82 65.93,75.94 67.41,75.08 68.89,74.22 70.37,73.36 71.85,72.51 73.33,71.66 74.81,70.82 76.29,69.99 77.77,69.16 79.25,68.33 80.73,67.51 82.22,66.70 83.70,65.88 85.18,65.08 86.66,64.27 88.14,63.47 89.62,62.67 91.10,61.88 92.58,61.09 94.06,60.30 95.54,59.51 97.02,58.79 98.51,58.07 99.99,57.36 101.47,56.65 102.95,55.94 104.43,55.23 105.91,54.53 107.39,53.82 108.87,53.12 110.35,52.43 111.83,51.73 113.31,51.04 114.79,50.35 116.28,49.66 117.76,48.97 119.24,48.29 120.72,47.61 122.20,46.93 123.68,46.25 125.16,45.57 126.64,44.90 128.12,44.23 129.60,43.56 131.08,42.90 132.57,42.24 134.05,41.58 135.53,40.93 137.01,40.28 138.49,39.64 139.97,39.00 141.45,38.37 142.93,37.74 144.41,37.12 145.89,36.50 147.37,35.89 148.85,35.29 150.34,34.70 151.82,34.11 153.30,33.53 154.78,32.96" fill="none" stroke="#0000ff" stroke-width="0.55" stroke-opacity="0.9" stroke-dasharray="2.6 0.9"/><polyline points="28.90,96.67 30.39,95.75 31.87,94.83 33.35,93.92 34.83,93.02 36.31,92.12 37.79,91.23 39.27,90.34 40.75,89.46 42.23,88.58 43.71,87.70 45.19,86.84 46.67,85.97 48.16,85.11 49.64,84.26 51.12,83.41 52.60,82.56 54.08,81.71 55.56,80.87 57.04,80.03 58.52,79.20 60.00,78.36 61.48,77.53 62.96,76.70 64.45,75.87 65.93,75.04 67.41,74.22 68.89,73.39 70.37,72.57 71.85,71.74 73.33,70.92 74.81,70.10 76.29,69.27 77.77,68.45 79.25,67.62 80.73,66.80 82.22,65.97 83.70,65.15 85.18,64.32 86.66,63.49 88.14,62.66 89.62,61.83 91.10,61.00 92.58,60.17 94.06,59.34 95.54,58.51 97.02,57.72 98.51,56.94 99.99,56.16 101.47,55.38 102.95,54.61 104.43,53.83 105.91,53.06 107.39,52.29 108.87,51.52 110.35,50.75 111.83,49.99 113.31,49.24 114.79,48.48 116.28,47.73 117.76,46.99 119.24,46.25 120.72,45.52 122.20,44.79 123.68,44.07 125.16,43.35 126.64,42.65 128.12,41.95 129.60,41.26 131.08,40.57 132.57,39.90 134.05,39.23 135.53,38.58 137.01,37.93 138.49,37.29 139.97,36.66 141.45,36.05 142.93,35.44 144.41,34.84 145.89,34.26 147.37,33.69 148.85,33.12 150.34,32.57 151.82,32.03 153.30,31.51 154.78,30.99" fill="none" stroke="#0000ff" stroke-width="0.55" stroke-opacity="0.9" stroke-dasharray="2.6 0.9"/><polyline points="28.90,94.85 30.39,94.03 31.87,93.20 33.35,92.37 34.83,91.54 36.31,90.71 37.79,89.88 39.27,89.05 40.75,88.22 42.23,87.38 43.71,86.55 45.19,85.71 46.67,84.87 48.16,84.03 49.64,83.19 51.12,82.34 52.60,81.49 54.08,80.64 55.56,79.79 57.04,78.93 58.52,78.08 60.00,77.22 61.48,76.36 62.96,75.49 64.45,74.63 65.93,73.76 67.41,72.89 68.89,72.02 70.37,71.15 71.85,70.27 73.33,69.40 74.81,68.52 76.29,67.65 77.77,66.77 79.25,65.90 80.73,65.02 82.22,64.15 83.70,63.27 85.18,62.40 86.66,61.53 88.14,60.67 89.62,59.80 91.10,58.94 92.58,58.08 94.06,57.23 95.54,56.38 97.02,55.57 98.51,54.76 99.99,53.96 101.47,53.17 102.95,52.38 104.43,51.60 105.91,50.82 107.39,50.06 108.87,49.30 110.35,48.55 111.83,47.80 113.31,47.07 114.79,46.34 116.28,45.63 117.76,44.92 119.24,44.22 120.72,43.52 122.20,42.84 123.68,42.17 125.16,41.51 126.64,40.85 128.12,40.21 129.60,39.57 131.08,38.94 132.57,38.33 134.05,37.72 135.53,37.12 137.01,36.53 138.49,35.94 139.97,35.37 141.45,34.81 142.93,34.25 144.41,33.71 145.89,33.17 147.37,32.64 148.85,32.11 150.34,31.60 151.82,31.09 153.30,30.60 154.78,30.10" fill="none" stroke="#0000ff" stroke-width="0.55" stroke-opacity="0.9" stroke-dasharray="2.6 0.9"/><polyline points="28.90,94.42 30.39,93.56 31.87,92.70 33.35,91.84 34.83,90.97 36.31,90.10 37.79,89.23 39.27,88.35 40.75,87.48 42.23,86.59 43.71,85.71 45.19,84.82 46.67,83.94 48.16,83.05 49.64,82.16 51.12,81.26 52.60,80.37 54.08,79.48 55.56,78.59 57.04,77.70 58.52,76.80 60.00,75.91 61.48,75.02 62.96,74.14 64.45,73.25 65.93,72.37 67.41,71.49 68.89,70.61 70.37,69.74 71.85,68.87 73.33,68.00 74.81,67.14 76.29,66.28 77.77,65.43 79.25,64.58 80.73,63.73 82.22,62.89 83.70,62.06 85.18,61.23 86.66,60.41 88.14,59.59 89.62,58.78 91.10,57.97 92.58,57.17 94.06,56.38 95.54,55.59 97.02,54.84 98.51,54.09 99.99,53.35 101.47,52.62 102.95,51.89 104.43,51.17 105.91,50.45 107.39,49.74 108.87,49.03 110.35,48.34 111.83,47.64 113.31,46.95 114.79,46.27 116.28,45.59 117.76,44.92 119.24,44.26 120.72,43.59 122.20,42.94 123.68,42.28 125.16,41.64 126.64,40.99 128.12,40.35 129.60,39.72 131.08,39.09 132.57,38.46 134.05,37.84 135.53,37.22 137.01,36.61 138.49,36.00 139.97,35.40 141.45,34.80 142.93,34.21 144.41,33.62 145.89,33.03 147.37,32.45 148.85,31.88 150.34,31.31 151.82,30.75 153.30,30.19 154.78,29.65" fill="none" stroke="#0000ff" stroke-width="0.55" stroke-opacity="0.9" stroke-dasharray="2.6 0.9"/><polyline points="28.90,93.66 30.39,92.78 31.87,91.89 33.35,91.00 34.83,90.12 36.31,89.24 37.79,88.36 39.27,87.48 40.75,86.60 42.23,85.72 43.71,84.85 45.19,83.98 46.67,83.11 48.16,82.25 49.64,81.38 51.12,80.53 52.60,79.67 54.08,78.82 55.56,77.97 57.04,77.13 58.52,76.29 60.00,75.45 61.48,74.62 62.96,73.79 64.45,72.96 65.93,72.14 67.41,71.32 68.89,70.51 70.37,69.70 71.85,68.89 73.33,68.08 74.81,67.28 76.29,66.48 77.77,65.68 79.25,64.89 80.73,64.10 82.22,63.31 83.70,62.52 85.18,61.74 86.66,60.95 88.14,60.17 89.62,59.39 91.10,58.61 92.58,57.83 94.06,57.06 95.54,56.28 97.02,55.54 98.51,54.79 99.99,54.05 101.47,53.30 102.95,52.56 104.43,51.82 105.91,51.08 107.39,50.35 108.87,49.61 110.35,48.88 111.83,48.14 113.31,47.41 114.79,46.69 116.28,45.96 117.76,45.23 119.24,44.51 120.72,43.79 122.20,43.08 123.68,42.36 125.16,41.66 126.64,40.95 128.12,40.25 129.60,39.55 131.08,38.86 132.57,38.18 134.05,37.50 135.53,36.82 137.01,36.15 138.49,35.49 139.97,34.84 141.45,34.19 142.93,33.56 144.41,32.93 145.89,32.31 147.37,31.70 148.85,31.09 150.34,30.50 151.82,29.92 153.30,29.35 154.78,28.80" fill="none" stroke="#0000ff" stroke-width="0.55" stroke-opacity="0.9" stroke-dasharray="2.6 0.9"/><polyline points="28.90,91.89 30.39,91.09 31.87,90.30 33.35,89.50 34.83,88.70 36.31,87.90 37.79,87.11 39.27,86.31 40.75,85.52 42.23,84.73 43.71,83.93 45.19,83.14 46.67,82.35 48.16,81.55 49.64,80.76 51.12,79.96 52.60,79.17 54.08,78.37 55.56,77.58 57.04,76.78 58.52,75.98 60.00,75.18 61.48,74.38 62.96,73.58 64.45,72.77 65.93,71.97 67.41,71.16 68.89,70.35 70.37,69.54 71.85,68.72 73.33,67.91 74.81,67.09 76.29,66.27 77.77,65.45 79.25,64.63 80.73,63.80 82.22,62.98 83.70,62.15 85.18,61.32 86.66,60.49 88.14,59.66 89.62,58.83 91.10,58.00 92.58,57.16 94.06,56.33 95.54,55.50 97.02,54.69 98.51,53.88 99.99,53.07 101.47,52.27 102.95,51.46 104.43,50.66 105.91,49.87 107.39,49.07 108.87,48.29 110.35,47.50 111.83,46.72 113.31,45.95 114.79,45.18 116.28,44.42 117.76,43.67 119.24,42.92 120.72,42.18 122.20,41.45 123.68,40.73 125.16,40.01 126.64,39.31 128.12,38.61 129.60,37.92 131.08,37.25 132.57,36.58 134.05,35.92 135.53,35.28 137.01,34.64 138.49,34.02 139.97,33.41 141.45,32.81 142.93,32.22 144.41,31.64 145.89,31.07 147.37,30.52 148.85,29.98 150.34,29.45 151.82,28.93 153.30,28.42 154.78,27.93" fill="none" stroke="#0000ff" stroke-width="0.55" stroke-opacity="0.9" stroke-dasharray="2.6 0.9"/><polyline points="28.90,89.94 30.39,89.22 31.87,88.49 33.35,87.76 34.83,87.02 36.31,86.28 37.79,85.53 39.27,84.77 40.75,84.00 42.23,83.23 43.71,82.45 45.19,81.67 46.67,80.88 48.16,80.09 49.64,79.29 51.12,78.48 52.60,77.67 54.08,76.85 55.56,76.03 57.04,75.20 58.52,74.37 60.00,73.54 61.48,72.70 62.96,71.86 64.45,71.01 65.93,70.16 67.41,69.31 68.89,68.46 70.37,67.61 71.85,66.75 73.33,65.90 74.81,65.04 76.29,64.19 77.77,63.33 79.25,62.48 80.73,61.62 82.22,60.77 83.70,59.93 85.18,59.08 86.66,58.24 88.14,57.40 89.62,56.57 91.10,55.74 92.58,54.91 94.06,54.09 95.54,53.28 97.02,52.47 98.51,51.67 99.99,50.87 101.47,50.08 102.95,49.30 104.43,48.53 105.91,47.76 107.39,47.00 108.87,46.25 110.35,45.51 111.83,44.77 113.31,44.04 114.79,43.33 116.28,42.62 117.76,41.91 119.24,41.22 120.72,40.54 122.20,39.86 123.68,39.20 125.16,38.54 126.64,37.89 128.12,37.25 129.60,36.61 131.08,35.99 132.57,35.37 134.05,34.77 135.53,34.17 137.01,33.58 138.49,32.99 139.97,32.42 141.45,31.85 142.93,31.29 144.41,30.74 145.89,30.19 147.37,29.65 148.85,29.13 150.34,28.60 151.82,28.09 153.30,27.58 154.78,27.08" fill="none" stroke="#0000ff" stroke-width="0.55" stroke-opacity="0.9" stroke-dasharray="2.6 0.9"/><polyline points="34.83,77.95 36.31,77.36 37.79,76.77 39.27,76.17 40.75,75.57 42.23,74.97 43.71,74.36 45.19,73.74 46.67,73.12 48.16,72.50 49.64,71.87 51.12,71.23 52.60,70.60 54.08,69.95 55.56,69.31 57.04,68.65 58.52,68.00 60.00,67.33 61.48,66.67 62.96,65.99 64.45,65.30 65.93,64.60 67.41,63.89 68.89,63.18 70.37,62.47 71.85,61.74 73.33,61.02 74.81,60.29 76.29,59.56 77.77,58.83 79.25,58.10 80.73,57.38 82.22,56.65 83.70,55.93 85.18,55.21 86.66,54.50 88.14,53.79 89.62,53.10 91.10,52.40 92.58,51.71 94.06,51.01 95.54,50.32 97.02,49.63 98.51,48.93 99.99,48.24 101.47,47.55 102.95,46.87 104.43,46.18 105.91,45.50 107.39,44.82 108.87,44.15 110.35,43.48 111.83,42.81 113.31,42.15 114.79,41.50 116.28,40.85 117.76,40.21 119.24,39.58 120.72,38.95 122.20,38.33 123.68,37.71 125.16,37.09 126.64,36.48 128.12,35.87 129.60,35.26 131.08,34.66 132.57,34.06 134.05,33.47 135.53,32.88 137.01,32.29 138.49,31.71 139.97,31.13 141.45,30.55 142.93,29.98 144.41,29.41 145.89,28.85 147.37,28.29 148.85,27.74 150.34,27.19 151.82,26.65 153.30,26.11 154.78,25.57" fill="none" stroke="#0000ff" stroke-width="0.6" stroke-opacity="0.95" stroke-dasharray="2.4 0.7"/><polyline points="28.90,85.14 30.39,84.56 31.87,83.98 33.35,83.39 34.83,82.80 36.31,82.20 37.79,81.59 39.27,80.98 40.75,80.36 42.23,79.73 43.71,79.10 45.19,78.46 46.67,77.82 48.16,77.17 49.64,76.52 51.12,75.86 52.60,75.19 54.08,74.52 55.56,73.84 57.04,73.16 58.52,72.48 60.00,71.78 61.48,71.08 62.96,70.35 64.45,69.60 65.93,68.83 67.41,68.05 68.89,67.25 70.37,66.45 71.85,65.64 73.33,64.82 74.81,64.01 76.29,63.20 77.77,62.39 79.25,61.60 80.73,60.81 82.22,60.04 83.70,59.29 85.18,58.55 86.66,57.84 88.14,57.16 89.62,56.51 91.10,55.88 92.58,55.27 94.06,54.68 95.54,54.10 97.02,53.54 98.51,52.98 99.99,52.44 101.47,51.91 102.95,51.38 104.43,50.87 105.91,50.35 107.39,49.84 108.87,49.33 110.35,48.82 111.83,48.31 113.31,47.80 114.79,47.28 116.28,46.76 117.76,46.23 119.24,45.70 120.72,45.15 122.20,44.61 123.68,44.06 125.16,43.51 126.64,42.96 128.12,42.41 129.60,41.86 131.08,41.31 132.57,40.76 134.05,40.21 135.53,39.66 137.01,39.10 138.49,38.55 139.97,37.99 141.45,37.44 142.93,36.88 144.41,36.33 145.89,35.77 147.37,35.21 148.85,34.66 150.34,34.10 151.82,33.54 153.30,32.98 154.78,32.42" fill="none" stroke="#0000ff" stroke-width="0.6" stroke-opacity="0.95" stroke-dasharray="2.4 0.7"/><polyline points="154.78,25.29 156.26,24.81 157.74,24.29 159.22,23.73 160.70,23.16 162.18,22.58 163.66,22.03 165.14,21.51 166.63,21.04 168.11,20.63 169.59,20.29 171.07,20.02 172.55,19.79 174.03,19.62 175.51,19.46 176.99,19.31 178.47,19.15 179.95,18.96 181.43,18.75 182.91,18.50 184.40,18.22 185.88,17.92 187.36,17.63 188.84,17.37 190.32,17.15 191.80,17.00" fill="none" stroke="#0000ff" stroke-width="0.55" stroke-opacity="0.7" stroke-dasharray="2.6 0.9"/><polyline points="154.78,28.15 156.26,27.51 157.74,26.91 159.22,26.38 160.70,25.91 162.18,25.51 163.66,25.16 165.14,24.86 166.63,24.58 168.11,24.31 169.59,24.03 171.07,23.73 172.55,23.39 174.03,23.01 175.51,22.61 176.99,22.18 178.47,21.75 179.95,21.32 181.43,20.93 182.91,20.59 184.40,20.32 185.88,20.12 187.36,20.00 188.84,19.96 190.32,19.99 191.80,20.08" fill="none" stroke="#0000ff" stroke-width="0.55" stroke-opacity="0.7" stroke-dasharray="2.6 0.9"/><polyline points="154.78,31.49 156.26,31.01 157.74,30.57 159.22,30.13 160.70,29.69 162.18,29.23 163.66,28.74 165.14,28.20 166.63,27.64 168.11,27.05 169.59,26.45 171.07,25.86 172.55,25.30 174.03,24.79 175.51,24.33 176.99,23.95 178.47,23.64 179.95,23.40 181.43,23.22 182.91,23.09 184.40,22.99 185.88,22.90 187.36,22.81 188.84,22.72 190.32,22.61 191.80,22.51" fill="none" stroke="#0000ff" stroke-width="0.55" stroke-opacity="0.7" stroke-dasharray="2.6 0.9"/><polyline points="154.78,35.56 156.26,34.84 157.74,34.08 159.22,33.30 160.70,32.50 162.18,31.72 163.66,30.95 165.14,30.23 166.63,29.57 168.11,28.98 169.59,28.46 171.07,28.01 172.55,27.63 174.03,27.29 175.51,26.98 176.99,26.69 178.47,26.39 179.95,26.08 181.43,25.74 182.91,25.38 184.40,25.00 185.88,24.62 187.36,24.26 188.84,23.93 190.32,23.67 191.80,23.51" fill="none" stroke="#0000ff" stroke-width="0.55" stroke-opacity="0.7" stroke-dasharray="2.6 0.9"/><polyline points="154.78,38.41 156.26,37.47 157.74,36.58 159.22,35.76 160.70,35.02 162.18,34.35 163.66,33.74 165.14,33.18 166.63,32.65 168.11,32.14 169.59,31.63 171.07,31.10 172.55,30.55 174.03,29.97 175.51,29.37 176.99,28.76 178.47,28.15 179.95,27.57 181.43,27.03 182.91,26.56 184.40,26.16 185.88,25.86 187.36,25.64 188.84,25.53 190.32,25.50 191.80,25.57" fill="none" stroke="#0000ff" stroke-width="0.55" stroke-opacity="0.7" stroke-dasharray="2.6 0.9"/><polyline points="154.78,41.76 156.26,41.03 157.74,40.33 159.22,39.65 160.70,38.97 162.18,38.27 163.66,37.55 165.14,36.79 166.63,36.01 168.11,35.22 169.59,34.42 171.07,33.64 172.55,32.90 174.03,32.21 175.51,31.60 176.99,31.06 178.47,30.60 179.95,30.23 181.43,29.92 182.91,29.68 184.40,29.47 185.88,29.29 187.36,29.12 188.84,28.95 190.32,28.79 191.80,28.66" fill="none" stroke="#0000ff" stroke-width="0.55" stroke-opacity="0.7" stroke-dasharray="2.6 0.9"/><polyline points="154.78,45.83 156.26,44.83 157.74,43.79 159.22,42.74 160.70,41.68 162.18,40.64 163.66,39.63 165.14,38.68 166.63,37.79 168.11,36.98 169.59,36.25 171.07,35.60 172.55,35.02 174.03,34.49 175.51,34.01 176.99,33.54 178.47,33.08 179.95,32.62 181.43,32.14 182.91,31.65 184.40,31.16 185.88,30.67 187.36,30.22 188.84,29.82 190.32,29.51 191.80,29.32" fill="none" stroke="#0000ff" stroke-width="0.55" stroke-opacity="0.7" stroke-dasharray="2.6 0.9"/><polygon points="85.80,54.80 86.46,56.39 88.18,56.53 86.87,57.65 87.27,59.32 85.80,58.42 84.33,59.32 84.73,57.65 83.42,56.53 85.14,56.39" fill="#e8821e" stroke="#e8821e" stroke-width="0.3"/><polygon points="89.10,56.10 89.76,57.69 91.48,57.83 90.17,58.95 90.57,60.62 89.10,59.73 87.63,60.62 88.03,58.95 86.72,57.83 88.44,57.69" fill="#e8821e" stroke="#e8821e" stroke-width="0.3"/><polygon points="95.70,53.50 96.36,55.09 98.08,55.23 96.77,56.35 97.17,58.02 95.70,57.12 94.23,58.02 94.63,56.35 93.32,55.23 95.04,55.09" fill="#e8821e" stroke="#e8821e" stroke-width="0.3"/><polygon points="80.50,60.10 81.16,61.69 82.88,61.83 81.57,62.95 81.97,64.62 80.50,63.73 79.03,64.62 79.43,62.95 78.12,61.83 79.84,61.69" fill="#e8821e" stroke="#e8821e" stroke-width="0.3"/><polygon points="81.20,64.10 81.86,65.69 83.58,65.83 82.27,66.95 82.67,68.62 81.20,67.72 79.73,68.62 80.13,66.95 78.82,65.83 80.54,65.69" fill="#e8821e" stroke="#e8821e" stroke-width="0.3"/><polygon points="86.50,64.10 87.16,65.69 88.88,65.83 87.57,66.95 87.97,68.62 86.50,67.72 85.03,68.62 85.43,66.95 84.12,65.83 85.84,65.69" fill="#e8821e" stroke="#e8821e" stroke-width="0.3"/><polygon points="90.40,62.10 91.06,63.69 92.78,63.83 91.47,64.95 91.87,66.62 90.40,65.72 88.93,66.62 89.33,64.95 88.02,63.83 89.74,63.69" fill="#e8821e" stroke="#e8821e" stroke-width="0.3"/><polygon points="95.70,60.10 96.36,61.69 98.08,61.83 96.77,62.95 97.17,64.62 95.70,63.73 94.23,64.62 94.63,62.95 93.32,61.83 95.04,61.69" fill="#e8821e" stroke="#e8821e" stroke-width="0.3"/><polygon points="84.50,67.40 85.16,68.99 86.88,69.13 85.57,70.25 85.97,71.92 84.50,71.03 83.03,71.92 83.43,70.25 82.12,69.13 83.84,68.99" fill="#e8821e" stroke="#e8821e" stroke-width="0.3"/><polygon points="87.80,67.40 88.46,68.99 90.18,69.13 88.87,70.25 89.27,71.92 87.80,71.03 86.33,71.92 86.73,70.25 85.42,69.13 87.14,68.99" fill="#e8821e" stroke="#e8821e" stroke-width="0.3"/><polygon points="83.80,70.70 84.46,72.29 86.18,72.43 84.87,73.55 85.27,75.22 83.80,74.33 82.33,75.22 82.73,73.55 81.42,72.43 83.14,72.29" fill="#e8821e" stroke="#e8821e" stroke-width="0.3"/><polygon points="81.20,72.00 81.86,73.59 83.58,73.73 82.27,74.85 82.67,76.52 81.20,75.62 79.73,76.52 80.13,74.85 78.82,73.73 80.54,73.59" fill="#e8821e" stroke="#e8821e" stroke-width="0.3"/><polygon points="79.20,74.00 79.86,75.59 81.58,75.73 80.27,76.85 80.67,78.52 79.20,77.62 77.73,78.52 78.13,76.85 76.82,75.73 78.54,75.59" fill="#e8821e" stroke="#e8821e" stroke-width="0.3"/><polygon points="81.20,76.00 81.86,77.59 83.58,77.73 82.27,78.85 82.67,80.52 81.20,79.62 79.73,80.52 80.13,78.85 78.82,77.73 80.54,77.59" fill="#e8821e" stroke="#e8821e" stroke-width="0.3"/><polygon points="76.50,72.00 77.16,73.59 78.88,73.73 77.57,74.85 77.97,76.52 76.50,75.62 75.03,76.52 75.43,74.85 74.12,73.73 75.84,73.59" fill="#e8821e" stroke="#e8821e" stroke-width="0.3"/><polygon points="73.90,71.30 74.56,72.89 76.28,73.03 74.97,74.15 75.37,75.82 73.90,74.92 72.43,75.82 72.83,74.15 71.52,73.03 73.24,72.89" fill="#e8821e" stroke="#e8821e" stroke-width="0.3"/><polygon points="69.30,74.00 69.96,75.59 71.68,75.73 70.37,76.85 70.77,78.52 69.30,77.62 67.83,78.52 68.23,76.85 66.92,75.73 68.64,75.59" fill="#e8821e" stroke="#e8821e" stroke-width="0.3"/><polygon points="64.00,75.30 64.66,76.89 66.38,77.03 65.07,78.15 65.47,79.82 64.00,78.92 62.53,79.82 62.93,78.15 61.62,77.03 63.34,76.89" fill="#e8821e" stroke="#e8821e" stroke-width="0.3"/><polygon points="64.00,79.90 64.66,81.49 66.38,81.63 65.07,82.75 65.47,84.42 64.00,83.53 62.53,84.42 62.93,82.75 61.62,81.63 63.34,81.49" fill="#e8821e" stroke="#e8821e" stroke-width="0.3"/><polygon points="69.30,78.00 69.96,79.59 71.68,79.73 70.37,80.85 70.77,82.52 69.30,81.62 67.83,82.52 68.23,80.85 66.92,79.73 68.64,79.59" fill="#e8821e" stroke="#e8821e" stroke-width="0.3"/><polygon points="73.20,77.30 73.86,78.89 75.58,79.03 74.27,80.15 74.67,81.82 73.20,80.92 71.73,81.82 72.13,80.15 70.82,79.03 72.54,78.89" fill="#e8821e" stroke="#e8821e" stroke-width="0.3"/><polygon points="85.80,60.70 86.46,62.29 88.18,62.43 86.87,63.55 87.27,65.22 85.80,64.33 84.33,65.22 84.73,63.55 83.42,62.43 85.14,62.29" fill="#e8821e" stroke="#e8821e" stroke-width="0.3"/><polygon points="91.10,67.40 91.76,68.99 93.48,69.13 92.17,70.25 92.57,71.92 91.10,71.03 89.63,71.92 90.03,70.25 88.72,69.13 90.44,68.99" fill="#e8821e" stroke="#e8821e" stroke-width="0.3"/><polygon points="83.00,68.50 83.66,70.09 85.38,70.23 84.07,71.35 84.47,73.02 83.00,72.12 81.53,73.02 81.93,71.35 80.62,70.23 82.34,70.09" fill="#e8821e" stroke="#e8821e" stroke-width="0.3"/><polygon points="86.00,65.50 86.66,67.09 88.38,67.23 87.07,68.35 87.47,70.02 86.00,69.12 84.53,70.02 84.93,68.35 83.62,67.23 85.34,67.09" fill="#e8821e" stroke="#e8821e" stroke-width="0.3"/><polygon points="154.20,21.90 154.89,23.55 156.67,23.70 155.31,24.86 155.73,26.60 154.20,25.67 152.67,26.60 153.09,24.86 151.73,23.70 153.51,23.55" fill="#ff00ff" stroke="#ff00ff" stroke-width="0.3"/><polygon points="154.20,26.50 154.89,28.15 156.67,28.30 155.31,29.46 155.73,31.20 154.20,30.27 152.67,31.20 153.09,29.46 151.73,28.30 153.51,28.15" fill="#ff00ff" stroke="#ff00ff" stroke-width="0.3"/><polygon points="153.30,30.20 153.99,31.85 155.77,32.00 154.41,33.16 154.83,34.90 153.30,33.97 151.77,34.90 152.19,33.16 150.83,32.00 152.61,31.85" fill="#ff00ff" stroke="#ff00ff" stroke-width="0.3"/><polygon points="154.20,34.70 154.89,36.35 156.67,36.50 155.31,37.66 155.73,39.40 154.20,38.47 152.67,39.40 153.09,37.66 151.73,36.50 153.51,36.35" fill="#ff00ff" stroke="#ff00ff" stroke-width="0.3"/><polygon points="154.20,39.30 154.89,40.95 156.67,41.10 155.31,42.26 155.73,44.00 154.20,43.07 152.67,44.00 153.09,42.26 151.73,41.10 153.51,40.95" fill="#ff00ff" stroke="#ff00ff" stroke-width="0.3"/><polygon points="154.20,44.80 154.89,46.45 156.67,46.60 155.31,47.76 155.73,49.50 154.20,48.57 152.67,49.50 153.09,47.76 151.73,46.60 153.51,46.45" fill="#ff00ff" stroke="#ff00ff" stroke-width="0.3"/><polygon points="147.80,29.20 148.49,30.85 150.27,31.00 148.91,32.16 149.33,33.90 147.80,32.97 146.27,33.90 146.69,32.16 145.33,31.00 147.11,30.85" fill="#ff00ff" stroke="#ff00ff" stroke-width="0.3"/><polygon points="147.80,34.70 148.49,36.35 150.27,36.50 148.91,37.66 149.33,39.40 147.80,38.47 146.27,39.40 146.69,37.66 145.33,36.50 147.11,36.35" fill="#ff00ff" stroke="#ff00ff" stroke-width="0.3"/><polygon points="140.50,39.30 141.19,40.95 142.97,41.10 141.61,42.26 142.03,44.00 140.50,43.07 138.97,44.00 139.39,42.26 138.03,41.10 139.81,40.95" fill="#ff00ff" stroke="#ff00ff" stroke-width="0.3"/><polygon points="140.50,43.90 141.19,45.55 142.97,45.70 141.61,46.86 142.03,48.60 140.50,47.67 138.97,48.60 139.39,46.86 138.03,45.70 139.81,45.55" fill="#ff00ff" stroke="#ff00ff" stroke-width="0.3"/><polygon points="145.10,44.80 145.79,46.45 147.57,46.60 146.21,47.76 146.63,49.50 145.10,48.57 143.57,49.50 143.99,47.76 142.63,46.60 144.41,46.45" fill="#ff00ff" stroke="#ff00ff" stroke-width="0.3"/><polygon points="149.70,45.80 150.39,47.45 152.17,47.60 150.81,48.76 151.23,50.50 149.70,49.57 148.17,50.50 148.59,48.76 147.23,47.60 149.01,47.45" fill="#ff00ff" stroke="#ff00ff" stroke-width="0.3"/><polygon points="137.00,32.90 137.69,34.55 139.47,34.70 138.11,35.86 138.53,37.60 137.00,36.67 135.47,37.60 135.89,35.86 134.53,34.70 136.31,34.55" fill="#ff00ff" stroke="#ff00ff" stroke-width="0.3"/><polygon points="127.10,39.30 127.79,40.95 129.57,41.10 128.21,42.26 128.63,44.00 127.10,43.07 125.57,44.00 125.99,42.26 124.63,41.10 126.41,40.95" fill="#ff00ff" stroke="#ff00ff" stroke-width="0.3"/><polygon points="119.70,42.00 120.39,43.65 122.17,43.80 120.81,44.96 121.23,46.70 119.70,45.77 118.17,46.70 118.59,44.96 117.23,43.80 119.01,43.65" fill="#ff00ff" stroke="#ff00ff" stroke-width="0.3"/><polygon points="125.20,45.80 125.89,47.45 127.67,47.60 126.31,48.76 126.73,50.50 125.20,49.57 123.67,50.50 124.09,48.76 122.73,47.60 124.51,47.45" fill="#ff00ff" stroke="#ff00ff" stroke-width="0.3"/><polygon points="120.50,47.60 121.19,49.25 122.97,49.40 121.61,50.56 122.03,52.30 120.50,51.37 118.97,52.30 119.39,50.56 118.03,49.40 119.81,49.25" fill="#ff00ff" stroke="#ff00ff" stroke-width="0.3"/><polygon points="123.20,49.50 123.89,51.15 125.67,51.30 124.31,52.46 124.73,54.20 123.20,53.27 121.67,54.20 122.09,52.46 120.73,51.30 122.51,51.15" fill="#ff00ff" stroke="#ff00ff" stroke-width="0.3"/><polygon points="116.00,49.50 116.69,51.15 118.47,51.30 117.11,52.46 117.53,54.20 116.00,53.27 114.47,54.20 114.89,52.46 113.53,51.30 115.31,51.15" fill="#ff00ff" stroke="#ff00ff" stroke-width="0.3"/><polygon points="113.20,52.20 113.89,53.85 115.67,54.00 114.31,55.16 114.73,56.90 113.20,55.97 111.67,56.90 112.09,55.16 110.73,54.00 112.51,53.85" fill="#ff00ff" stroke="#ff00ff" stroke-width="0.3"/><polygon points="118.80,52.20 119.49,53.85 121.27,54.00 119.91,55.16 120.33,56.90 118.80,55.97 117.27,56.90 117.69,55.16 116.33,54.00 118.11,53.85" fill="#ff00ff" stroke="#ff00ff" stroke-width="0.3"/><polygon points="126.10,51.30 126.79,52.95 128.57,53.10 127.21,54.26 127.63,56.00 126.10,55.07 124.57,56.00 124.99,54.26 123.63,53.10 125.41,52.95" fill="#ff00ff" stroke="#ff00ff" stroke-width="0.3"/><polygon points="111.40,55.80 112.09,57.45 113.87,57.60 112.51,58.76 112.93,60.50 111.40,59.57 109.87,60.50 110.29,58.76 108.93,57.60 110.71,57.45" fill="#ff00ff" stroke="#ff00ff" stroke-width="0.3"/><polygon points="116.90,56.80 117.59,58.45 119.37,58.60 118.01,59.76 118.43,61.50 116.90,60.57 115.37,61.50 115.79,59.76 114.43,58.60 116.21,58.45" fill="#ff00ff" stroke="#ff00ff" stroke-width="0.3"/><polygon points="109.60,61.10 110.29,62.75 112.07,62.90 110.71,64.06 111.13,65.80 109.60,64.87 108.07,65.80 108.49,64.06 107.13,62.90 108.91,62.75" fill="#ff00ff" stroke="#ff00ff" stroke-width="0.3"/><polygon points="118.80,60.30 119.49,61.95 121.27,62.10 119.91,63.26 120.33,65.00 118.80,64.07 117.27,65.00 117.69,63.26 116.33,62.10 118.11,61.95" fill="#ff00ff" stroke="#ff00ff" stroke-width="0.3"/><polygon points="114.10,62.00 114.79,63.65 116.57,63.80 115.21,64.96 115.63,66.70 114.10,65.77 112.57,66.70 112.99,64.96 111.63,63.80 113.41,63.65" fill="#ff00ff" stroke="#ff00ff" stroke-width="0.3"/><polyline points="270.31,110.01 271.85,108.76 273.40,107.51 274.94,106.24 276.48,104.98 278.03,103.72 279.57,102.49 281.11,101.27 282.66,100.04 284.20,98.79 285.75,97.50 287.29,96.16 288.83,94.80 290.38,93.47 291.92,92.18 293.46,90.92 295.01,89.65 296.55,88.38 298.09,87.12 299.64,85.87 301.18,84.62 302.73,83.35 304.27,82.06 305.81,80.75 307.36,79.44 308.90,78.18 310.44,77.00 311.99,75.91 313.53,74.87 315.07,73.83 316.62,72.72 318.16,71.55 319.71,70.37 321.25,69.25 322.79,68.25 324.34,67.36 325.88,66.51 327.42,65.68 328.97,64.89 330.51,64.14 332.05,63.37 333.60,62.46 335.14,61.33 336.69,60.03 338.23,58.74 339.77,57.61 341.32,56.72 342.86,56.00 344.40,55.35 345.95,54.66 347.49,53.90 349.03,53.06 350.58,52.19 352.12,51.41 353.67,50.85 355.21,50.47 356.75,49.98 358.30,49.15 359.84,47.99 361.38,46.84 362.93,46.04 364.47,45.66 366.01,45.43 367.56,45.00 369.10,44.25 370.65,43.25 372.19,42.09 373.73,40.83 375.28,39.61 376.82,38.58 378.36,37.82" fill="none" stroke="#0000ff" stroke-width="0.5" stroke-opacity="0.8" stroke-dasharray="2.5 0.7"/><polyline points="270.31,108.51 271.85,107.20 273.40,105.88 274.94,104.58 276.48,103.29 278.03,102.01 279.57,100.72 281.11,99.42 282.66,98.13 284.20,96.86 285.75,95.61 287.29,94.37 288.83,93.14 290.38,91.93 291.92,90.75 293.46,89.57 295.01,88.36 296.55,87.07 298.09,85.72 299.64,84.37 301.18,83.07 302.73,81.83 304.27,80.67 305.81,79.62 307.36,78.68 308.90,77.79 310.44,76.86 311.99,75.87 313.53,74.83 315.07,73.73 316.62,72.58 318.16,71.39 319.71,70.20 321.25,69.03 322.79,67.80 324.34,66.47 325.88,64.99 327.42,63.54 328.97,62.23 330.51,61.07 332.05,59.98 333.60,58.89 335.14,57.91 336.69,57.13 338.23,56.53 339.77,56.00 341.32,55.34 342.86,54.51 344.40,53.59 345.95,52.64 347.49,51.64 349.03,50.52 350.58,49.35 352.12,48.21 353.67,47.11 355.21,45.97 356.75,44.80 358.30,43.75 359.84,43.02 361.38,42.60 362.93,42.27 364.47,41.76 366.01,40.97 367.56,40.04 369.10,39.15 370.65,38.41 372.19,37.79 373.73,37.23 375.28,36.71 376.82,36.23 378.36,35.72" fill="none" stroke="#0000ff" stroke-width="0.5" stroke-opacity="0.8" stroke-dasharray="2.5 0.7"/><polyline points="270.31,107.54 271.85,106.20 273.40,104.86 274.94,103.53 276.48,102.22 278.03,100.93 279.57,99.62 281.11,98.32 282.66,97.03 284.20,95.77 285.75,94.52 287.29,93.27 288.83,92.00 290.38,90.73 291.92,89.48 293.46,88.28 295.01,87.15 296.55,86.04 298.09,84.92 299.64,83.71 301.18,82.42 302.73,81.09 304.27,79.78 305.81,78.55 307.36,77.41 308.90,76.38 310.44,75.40 311.99,74.42 313.53,73.38 315.07,72.28 316.62,71.19 318.16,70.11 319.71,69.06 321.25,68.06 322.79,67.11 324.34,66.19 325.88,65.22 327.42,64.17 328.97,63.08 330.51,62.02 332.05,61.05 333.60,60.12 335.14,59.18 336.69,58.19 338.23,57.22 339.77,56.33 341.32,55.50 342.86,54.64 344.40,53.73 345.95,52.83 347.49,52.06 349.03,51.43 350.58,50.88 352.12,50.31 353.67,49.66 355.21,48.89 356.75,48.01 358.30,47.13 359.84,46.38 361.38,45.83 362.93,45.41 364.47,44.97 366.01,44.34 367.56,43.41 369.10,42.22 370.65,40.88 372.19,39.52 373.73,38.25 375.28,37.16 376.82,36.35 378.36,35.84" fill="none" stroke="#0000ff" stroke-width="0.5" stroke-opacity="0.8" stroke-dasharray="2.5 0.7"/><polyline points="270.31,107.35 271.85,106.00 273.40,104.65 274.94,103.31 276.48,101.99 278.03,100.70 279.57,99.43 281.11,98.17 282.66,96.92 284.20,95.70 285.75,94.48 287.29,93.25 288.83,91.99 290.38,90.72 291.92,89.47 293.46,88.26 295.01,87.10 296.55,85.96 298.09,84.82 299.64,83.65 301.18,82.47 302.73,81.28 304.27,80.07 305.81,78.81 307.36,77.52 308.90,76.25 310.44,75.04 311.99,73.87 313.53,72.69 315.07,71.46 316.62,70.21 318.16,69.03 319.71,67.97 321.25,67.05 322.79,66.19 324.34,65.36 325.88,64.49 327.42,63.56 328.97,62.50 330.51,61.32 332.05,60.12 333.60,58.94 335.14,57.81 336.69,56.73 338.23,55.69 339.77,54.74 341.32,53.94 342.86,53.27 344.40,52.66 345.95,51.97 347.49,51.19 349.03,50.42 350.58,49.72 352.12,49.06 353.67,48.25 355.21,47.18 356.75,45.94 358.30,44.75 359.84,43.72 361.38,42.78 362.93,41.84 364.47,40.87 366.01,39.91 367.56,39.06 369.10,38.39 370.65,37.96 372.19,37.70 373.73,37.48 375.28,37.15 376.82,36.67 378.36,36.15" fill="none" stroke="#0000ff" stroke-width="0.5" stroke-opacity="0.8" stroke-dasharray="2.5 0.7"/><polyline points="270.31,107.02 271.85,105.65 273.40,104.29 274.94,102.94 276.48,101.62 278.03,100.32 279.57,99.03 281.11,97.73 282.66,96.43 284.20,95.15 285.75,93.93 287.29,92.74 288.83,91.56 290.38,90.36 291.92,89.12 293.46,87.86 295.01,86.58 296.55,85.31 298.09,84.06 299.64,82.85 301.18,81.67 302.73,80.51 304.27,79.35 305.81,78.16 307.36,76.90 308.90,75.60 310.44,74.32 311.99,73.13 313.53,72.07 315.07,71.15 316.62,70.31 318.16,69.46 319.71,68.53 321.25,67.50 322.79,66.41 324.34,65.34 325.88,64.33 327.42,63.34 328.97,62.33 330.51,61.29 332.05,60.24 333.60,59.22 335.14,58.27 336.69,57.39 338.23,56.53 339.77,55.67 341.32,54.83 342.86,54.03 344.40,53.32 345.95,52.67 347.49,52.01 349.03,51.31 350.58,50.60 352.12,49.95 353.67,49.38 355.21,48.76 356.75,47.95 358.30,46.85 359.84,45.58 361.38,44.34 362.93,43.29 364.47,42.52 366.01,41.94 367.56,41.38 369.10,40.73 370.65,39.99 372.19,39.25 373.73,38.64 375.28,38.15 376.82,37.62 378.36,36.94" fill="none" stroke="#0000ff" stroke-width="0.5" stroke-opacity="0.8" stroke-dasharray="2.5 0.7"/><polyline points="270.31,105.52 271.85,104.09 273.40,102.66 274.94,101.26 276.48,99.89 278.03,98.57 279.57,97.28 281.11,95.98 282.66,94.70 284.20,93.45 285.75,92.24 287.29,91.06 288.83,89.91 290.38,88.76 291.92,87.60 293.46,86.43 295.01,85.23 296.55,84.02 298.09,82.80 299.64,81.58 301.18,80.38 302.73,79.22 304.27,78.10 305.81,77.02 307.36,75.96 308.90,74.89 310.44,73.76 311.99,72.59 313.53,71.42 315.07,70.27 316.62,69.14 318.16,68.01 319.71,66.90 321.25,65.84 322.79,64.84 324.34,63.90 325.88,63.00 327.42,62.06 328.97,61.05 330.51,60.00 332.05,58.99 333.60,58.06 335.14,57.24 336.69,56.51 338.23,55.76 339.77,54.98 341.32,54.22 342.86,53.54 344.40,52.92 345.95,52.25 347.49,51.42 349.03,50.41 350.58,49.26 352.12,48.04 353.67,46.74 355.21,45.41 356.75,44.14 358.30,43.06 359.84,42.25 361.38,41.73 362.93,41.47 364.47,41.35 366.01,41.19 367.56,40.80 369.10,40.21 370.65,39.55 372.19,38.89 373.73,38.15 375.28,37.32 376.82,36.57 378.36,36.14" fill="none" stroke="#0000ff" stroke-width="0.5" stroke-opacity="0.8" stroke-dasharray="2.5 0.7"/><polyline points="270.31,104.16 271.85,102.69 273.40,101.21 274.94,99.75 276.48,98.32 278.03,96.94 279.57,95.62 281.11,94.33 282.66,93.07 284.20,91.82 285.75,90.58 287.29,89.37 288.83,88.20 290.38,87.07 291.92,85.94 293.46,84.77 295.01,83.55 296.55,82.29 298.09,81.06 299.64,79.92 301.18,78.91 302.73,78.00 304.27,77.10 305.81,76.11 307.36,75.01 308.90,73.84 310.44,72.70 311.99,71.62 313.53,70.59 315.07,69.55 316.62,68.44 318.16,67.30 319.71,66.16 321.25,65.07 322.79,64.02 324.34,62.98 325.88,61.90 327.42,60.80 328.97,59.68 330.51,58.58 332.05,57.58 333.60,56.64 335.14,55.72 336.69,54.78 338.23,53.83 339.77,52.94 341.32,52.10 342.86,51.18 344.40,50.07 345.95,48.82 347.49,47.55 349.03,46.34 350.58,45.22 352.12,44.19 353.67,43.33 355.21,42.72 356.75,42.38 358.30,42.23 359.84,42.16 361.38,42.03 362.93,41.80 364.47,41.48 366.01,41.12 367.56,40.67 369.10,40.03 370.65,39.13 372.19,38.07 373.73,37.05 375.28,36.12 376.82,35.21 378.36,34.23" fill="none" stroke="#0000ff" stroke-width="0.5" stroke-opacity="0.8" stroke-dasharray="2.5 0.7"/><polyline points="270.31,104.02 271.85,102.53 273.40,101.04 274.94,99.59 276.48,98.20 278.03,96.89 279.57,95.62 281.11,94.34 282.66,93.05 284.20,91.79 285.75,90.55 287.29,89.33 288.83,88.12 290.38,86.92 291.92,85.75 293.46,84.62 295.01,83.49 296.55,82.32 298.09,81.13 299.64,79.94 301.18,78.81 302.73,77.73 304.27,76.66 305.81,75.56 307.36,74.44 308.90,73.30 310.44,72.17 311.99,71.04 313.53,69.94 315.07,68.89 316.62,67.89 318.16,66.90 319.71,65.89 321.25,64.86 322.79,63.88 324.34,62.98 325.88,62.18 327.42,61.39 328.97,60.57 330.51,59.70 332.05,58.79 333.60,57.89 335.14,57.00 336.69,56.08 338.23,55.01 339.77,53.70 341.32,52.25 342.86,50.86 344.40,49.73 345.95,48.91 347.49,48.26 349.03,47.52 350.58,46.58 352.12,45.56 353.67,44.69 355.21,44.06 356.75,43.55 358.30,42.96 359.84,42.26 361.38,41.52 362.93,40.88 364.47,40.37 366.01,39.97 367.56,39.60 369.10,39.10 370.65,38.31 372.19,37.23 373.73,36.10 375.28,35.27 376.82,34.92 378.36,34.99" fill="none" stroke="#0000ff" stroke-width="0.5" stroke-opacity="0.8" stroke-dasharray="2.5 0.7"/><polyline points="270.31,102.68 271.85,101.18 273.40,99.68 274.94,98.21 276.48,96.77 278.03,95.41 279.57,94.10 281.11,92.80 282.66,91.54 284.20,90.30 285.75,89.08 287.29,87.87 288.83,86.67 290.38,85.50 291.92,84.38 293.46,83.29 295.01,82.20 296.55,81.10 298.09,79.96 299.64,78.81 301.18,77.64 302.73,76.47 304.27,75.29 305.81,74.14 307.36,73.01 308.90,71.90 310.44,70.80 311.99,69.73 313.53,68.70 315.07,67.73 316.62,66.82 318.16,65.92 319.71,64.97 321.25,63.96 322.79,62.89 324.34,61.82 325.88,60.86 327.42,59.98 328.97,59.15 330.51,58.29 332.05,57.41 333.60,56.54 335.14,55.70 336.69,54.85 338.23,53.91 339.77,52.85 341.32,51.71 342.86,50.58 344.40,49.59 345.95,48.77 347.49,48.03 349.03,47.22 350.58,46.31 352.12,45.41 353.67,44.66 355.21,44.05 356.75,43.45 358.30,42.68 359.84,41.72 361.38,40.68 362.93,39.76 364.47,39.13 366.01,38.76 367.56,38.48 369.10,38.08 370.65,37.42 372.19,36.57 373.73,35.68 375.28,34.91 376.82,34.30 378.36,33.78" fill="none" stroke="#0000ff" stroke-width="0.5" stroke-opacity="0.8" stroke-dasharray="2.5 0.7"/><polyline points="270.31,102.52 271.85,101.00 273.40,99.49 274.94,97.99 276.48,96.52 278.03,95.12 279.57,93.76 281.11,92.44 282.66,91.17 284.20,89.93 285.75,88.73 287.29,87.58 288.83,86.46 290.38,85.33 291.92,84.15 293.46,82.93 295.01,81.73 296.55,80.59 298.09,79.50 299.64,78.42 301.18,77.30 302.73,76.16 304.27,75.00 305.81,73.80 307.36,72.56 308.90,71.33 310.44,70.23 311.99,69.36 313.53,68.66 315.07,68.00 316.62,67.19 318.16,66.16 319.71,64.99 321.25,63.85 322.79,62.84 324.34,61.88 325.88,60.79 327.42,59.53 328.97,58.16 330.51,56.84 332.05,55.70 333.60,54.77 335.14,54.01 336.69,53.26 338.23,52.38 339.77,51.34 341.32,50.23 342.86,49.17 344.40,48.26 345.95,47.54 347.49,46.93 349.03,46.31 350.58,45.53 352.12,44.45 353.67,43.13 355.21,41.76 356.75,40.52 358.30,39.44 359.84,38.56 361.38,37.97 362.93,37.65 364.47,37.37 366.01,36.84 367.56,36.05 369.10,35.27 370.65,34.75 372.19,34.44 373.73,34.05 375.28,33.40 376.82,32.57 378.36,31.80" fill="none" stroke="#0000ff" stroke-width="0.5" stroke-opacity="0.8" stroke-dasharray="2.5 0.7"/><polyline points="270.31,101.03 271.85,99.43 273.40,97.85 274.94,96.30 276.48,94.83 278.03,93.45 279.57,92.14 281.11,90.84 282.66,89.56 284.20,88.29 285.75,87.06 287.29,85.83 288.83,84.63 290.38,83.48 291.92,82.39 293.46,81.37 295.01,80.35 296.55,79.31 298.09,78.23 299.64,77.14 301.18,76.08 302.73,75.08 304.27,74.11 305.81,73.12 307.36,72.08 308.90,71.07 310.44,70.14 311.99,69.31 313.53,68.50 315.07,67.62 316.62,66.61 318.16,65.50 319.71,64.34 321.25,63.15 322.79,61.94 324.34,60.75 325.88,59.58 327.42,58.51 328.97,57.54 330.51,56.63 332.05,55.63 333.60,54.48 335.14,53.17 336.69,51.81 338.23,50.55 339.77,49.45 341.32,48.48 342.86,47.60 344.40,46.75 345.95,45.94 347.49,45.16 349.03,44.40 350.58,43.64 352.12,42.81 353.67,41.91 355.21,41.01 356.75,40.11 358.30,39.15 359.84,38.12 361.38,37.01 362.93,35.94 364.47,35.01 366.01,34.25 367.56,33.57 369.10,32.81 370.65,31.91 372.19,30.96 373.73,30.16 375.28,29.62 376.82,29.22 378.36,28.81" fill="none" stroke="#0000ff" stroke-width="0.5" stroke-opacity="0.8" stroke-dasharray="2.5 0.7"/><polyline points="270.31,99.58 271.85,97.93 273.40,96.30 274.94,94.73 276.48,93.24 278.03,91.85 279.57,90.54 281.11,89.23 282.66,87.93 284.20,86.63 285.75,85.36 287.29,84.17 288.83,83.06 290.38,81.99 291.92,80.93 293.46,79.87 295.01,78.79 296.55,77.68 298.09,76.55 299.64,75.41 301.18,74.28 302.73,73.15 304.27,72.00 305.81,70.85 307.36,69.76 308.90,68.80 310.44,67.99 311.99,67.25 313.53,66.45 315.07,65.54 316.62,64.54 318.16,63.54 319.71,62.57 321.25,61.59 322.79,60.49 324.34,59.27 325.88,57.97 327.42,56.72 328.97,55.57 330.51,54.52 332.05,53.49 333.60,52.42 335.14,51.33 336.69,50.22 338.23,49.10 339.77,47.97 341.32,46.84 342.86,45.80 344.40,44.89 345.95,44.06 347.49,43.26 349.03,42.54 350.58,41.95 352.12,41.41 353.67,40.71 355.21,39.72 356.75,38.43 358.30,37.00 359.84,35.62 361.38,34.53 362.93,33.88 364.47,33.63 366.01,33.53 367.56,33.21 369.10,32.47 370.65,31.44 372.19,30.44 373.73,29.73 375.28,29.27 376.82,28.89 378.36,28.49" fill="none" stroke="#0000ff" stroke-width="0.5" stroke-opacity="0.8" stroke-dasharray="2.5 0.7"/><polyline points="270.31,99.53 271.85,97.88 273.40,96.26 274.94,94.69 276.48,93.23 278.03,91.87 279.57,90.57 281.11,89.27 282.66,87.99 284.20,86.74 285.75,85.54 287.29,84.38 288.83,83.21 290.38,82.05 291.92,80.89 293.46,79.78 295.01,78.69 296.55,77.62 298.09,76.56 299.64,75.50 301.18,74.48 302.73,73.49 304.27,72.53 305.81,71.58 307.36,70.63 308.90,69.67 310.44,68.67 311.99,67.65 313.53,66.58 315.07,65.49 316.62,64.39 318.16,63.33 319.71,62.27 321.25,61.19 322.79,60.12 324.34,59.11 325.88,58.11 327.42,57.14 328.97,56.13 330.51,54.99 332.05,53.71 333.60,52.32 335.14,50.86 336.69,49.42 338.23,48.04 339.77,46.82 341.32,45.79 342.86,44.90 344.40,43.98 345.95,42.88 347.49,41.62 349.03,40.37 350.58,39.27 352.12,38.32 353.67,37.35 355.21,36.31 356.75,35.28 358.30,34.36 359.84,33.67 361.38,33.18 362.93,32.82 364.47,32.45 366.01,31.96 367.56,31.37 369.10,30.81 370.65,30.34 372.19,29.96 373.73,29.58 375.28,29.10 376.82,28.44 378.36,27.60" fill="none" stroke="#0000ff" stroke-width="0.5" stroke-opacity="0.8" stroke-dasharray="2.5 0.7"/><polyline points="270.31,99.01 271.85,97.34 273.40,95.69 274.94,94.07 276.48,92.52 278.03,91.09 279.57,89.77 281.11,88.51 282.66,87.32 284.20,86.17 285.75,85.06 287.29,83.97 288.83,82.90 290.38,81.80 291.92,80.67 293.46,79.52 295.01,78.36 296.55,77.24 298.09,76.15 299.64,75.05 301.18,73.92 302.73,72.77 304.27,71.66 305.81,70.65 307.36,69.75 308.90,68.90 310.44,68.04 311.99,67.12 313.53,66.16 315.07,65.20 316.62,64.25 318.16,63.27 319.71,62.21 321.25,61.06 322.79,59.91 324.34,58.82 325.88,57.79 327.42,56.80 328.97,55.78 330.51,54.73 332.05,53.70 333.60,52.74 335.14,51.75 336.69,50.62 338.23,49.32 339.77,47.95 341.32,46.61 342.86,45.27 344.40,43.90 345.95,42.46 347.49,41.08 349.03,39.89 350.58,38.92 352.12,38.09 353.67,37.32 355.21,36.64 356.75,36.06 358.30,35.53 359.84,35.03 361.38,34.52 362.93,34.03 364.47,33.51 366.01,32.92 367.56,32.20 369.10,31.35 370.65,30.34 372.19,29.16 373.73,27.93 375.28,26.87 376.82,26.14 378.36,25.73" fill="none" stroke="#0000ff" stroke-width="0.5" stroke-opacity="0.8" stroke-dasharray="2.5 0.7"/><polyline points="270.31,98.03 271.85,96.34 273.40,94.66 274.94,93.03 276.48,91.49 278.03,90.07 279.57,88.73 281.11,87.43 282.66,86.14 284.20,84.88 285.75,83.65 287.29,82.48 288.83,81.40 290.38,80.41 291.92,79.49 293.46,78.58 295.01,77.62 296.55,76.60 298.09,75.52 299.64,74.45 301.18,73.45 302.73,72.51 304.27,71.58 305.81,70.59 307.36,69.51 308.90,68.38 310.44,67.27 311.99,66.20 313.53,65.14 315.07,64.07 316.62,62.94 318.16,61.74 319.71,60.49 321.25,59.29 322.79,58.24 324.34,57.32 325.88,56.42 327.42,55.45 328.97,54.34 330.51,53.11 332.05,51.80 333.60,50.52 335.14,49.42 336.69,48.60 338.23,47.97 339.77,47.33 341.32,46.50 342.86,45.35 344.40,43.86 345.95,42.17 347.49,40.52 349.03,39.14 350.58,38.13 352.12,37.33 353.67,36.56 355.21,35.76 356.75,35.03 358.30,34.49 359.84,34.15 361.38,33.82 362.93,33.29 364.47,32.50 366.01,31.58 367.56,30.69 369.10,29.91 370.65,29.20 372.19,28.52 373.73,27.94 375.28,27.52 376.82,27.23 378.36,26.91" fill="none" stroke="#0000ff" stroke-width="0.5" stroke-opacity="0.8" stroke-dasharray="2.5 0.7"/><polyline points="270.31,94.04 271.85,92.35 273.40,90.67 274.94,89.03 276.48,87.44 278.03,85.95 279.57,84.54 281.11,83.16 282.66,81.80 284.20,80.44 285.75,79.09 287.29,77.76 288.83,76.48 290.38,75.24 291.92,74.01 293.46,72.78 295.01,71.54 296.55,70.31 298.09,69.08 299.64,67.86 301.18,66.64 302.73,65.41 304.27,64.19 305.81,63.01 307.36,61.90 308.90,60.87 310.44,59.90 311.99,58.96 313.53,58.01 315.07,57.05 316.62,56.00 318.16,54.86 319.71,53.64 321.25,52.42 322.79,51.27 324.34,50.28 325.88,49.45 327.42,48.76 328.97,48.12 330.51,47.46 332.05,46.65 333.60,45.60 335.14,44.29 336.69,42.76 338.23,41.04 339.77,39.23 341.32,37.38 342.86,35.50 344.40,33.57 345.95,31.65 347.49,29.83 349.03,28.28 350.58,27.03 352.12,25.93 353.67,24.83 355.21,23.72 356.75,22.61 358.30,21.51 359.84,20.52 361.38,19.69 362.93,19.04 364.47,18.57 366.01,18.34 367.56,18.34 369.10,18.49 370.65,18.64 372.19,18.62 373.73,18.34 375.28,17.83 376.82,17.22 378.36,16.75" fill="none" stroke="#0000ff" stroke-width="0.45" stroke-opacity="0.7" stroke-dasharray="2.5 0.7"/><polyline points="270.31,96.32 271.85,94.65 273.40,92.98 274.94,91.36 276.48,89.81 278.03,88.37 279.57,87.02 281.11,85.69 282.66,84.38 284.20,83.10 285.75,81.83 287.29,80.58 288.83,79.36 290.38,78.20 291.92,77.09 293.46,76.04 295.01,75.02 296.55,74.01 298.09,72.99 299.64,71.93 301.18,70.83 302.73,69.69 304.27,68.52 305.81,67.37 307.36,66.31 308.90,65.32 310.44,64.35 311.99,63.32 313.53,62.21 315.07,61.07 316.62,59.98 318.16,58.94 319.71,57.93 321.25,56.90 322.79,55.79 324.34,54.58 325.88,53.31 327.42,52.02 328.97,50.78 330.51,49.62 332.05,48.53 333.60,47.50 335.14,46.48 336.69,45.45 338.23,44.40 339.77,43.40 341.32,42.51 342.86,41.72 344.40,40.92 345.95,39.93 347.49,38.68 349.03,37.24 350.58,35.81 352.12,34.54 353.67,33.52 355.21,32.74 356.75,32.10 358.30,31.40 359.84,30.54 361.38,29.53 362.93,28.49 364.47,27.63 366.01,27.04 367.56,26.61 369.10,26.18 370.65,25.66 372.19,25.05 373.73,24.44 375.28,23.87 376.82,23.40 378.36,23.09" fill="none" stroke="#0000ff" stroke-width="0.45" stroke-opacity="0.7" stroke-dasharray="2.5 0.7"/><polyline points="270.31,110.58 271.85,109.29 273.40,108.00 274.94,106.73 276.48,105.48 278.03,104.26 279.57,103.05 281.11,101.86 282.66,100.69 284.20,99.52 285.75,98.29 287.29,97.01 288.83,95.71 290.38,94.44 291.92,93.22 293.46,92.03 295.01,90.82 296.55,89.55 298.09,88.24 299.64,86.95 301.18,85.74 302.73,84.59 304.27,83.45 305.81,82.29 307.36,81.11 308.90,79.97 310.44,78.90 311.99,77.96 313.53,77.16 315.07,76.48 316.62,75.81 318.16,75.04 319.71,74.13 321.25,73.15 322.79,72.21 324.34,71.38 325.88,70.61 327.42,69.85 328.97,69.02 330.51,68.09 332.05,67.11 333.60,66.15 335.14,65.32 336.69,64.69 338.23,64.22 339.77,63.79 341.32,63.19 342.86,62.33 344.40,61.25 345.95,60.07 347.49,58.91 349.03,57.87 350.58,57.02 352.12,56.36 353.67,55.73 355.21,54.88 356.75,53.70 358.30,52.39 359.84,51.29 361.38,50.66 362.93,50.54 364.47,50.76 366.01,50.99 367.56,50.92 369.10,50.38 370.65,49.54 372.19,48.71 373.73,48.09 375.28,47.63 376.82,47.14 378.36,46.55" fill="none" stroke="#0000ff" stroke-width="0.45" stroke-opacity="0.7" stroke-dasharray="2.5 0.7"/><polyline points="270.31,109.44 271.85,108.32 273.40,107.17 274.94,106.00 276.48,104.85 278.03,103.71 279.57,102.59 281.11,101.48 282.66,100.34 284.20,99.16 285.75,97.93 287.29,96.67 288.83,95.41 290.38,94.14 291.92,92.84 293.46,91.51 295.01,90.19 296.55,88.91 298.09,87.65 299.64,86.42 301.18,85.20 302.73,84.01 304.27,82.86 305.81,81.76 307.36,80.67 308.90,79.56 310.44,78.41 311.99,77.24 313.53,76.06 315.07,74.91 316.62,73.84 318.16,72.85 319.71,71.90 321.25,70.91 322.79,69.89 324.34,68.90 325.88,68.02 327.42,67.26 328.97,66.55 330.51,65.80 332.05,65.01 333.60,64.23 335.14,63.50 336.69,62.75 338.23,61.79 339.77,60.49 341.32,58.95 342.86,57.38 344.40,56.06 345.95,55.11 347.49,54.47 349.03,53.93 350.58,53.33 352.12,52.62 353.67,51.91 355.21,51.41 356.75,51.17 358.30,51.09 359.84,51.16 361.38,51.35 362.93,51.60 364.47,51.84 366.01,51.93 367.56,51.83 369.10,51.58 370.65,51.24 372.19,50.90 373.73,50.57 375.28,50.24 376.82,49.93 378.36,49.67" fill="none" stroke="#0000ff" stroke-width="0.45" stroke-opacity="0.7" stroke-dasharray="2.5 0.7"/><polygon points="307.36,69.76 308.04,71.41 309.83,71.55 308.47,72.72 308.88,74.46 307.36,73.53 305.83,74.46 306.24,72.72 304.88,71.55 306.67,71.41" fill="#ff00ff" stroke="#ff00ff" stroke-width="0.3"/><polygon points="307.36,77.74 308.04,79.40 309.83,79.54 308.47,80.70 308.88,82.45 307.36,81.51 305.83,82.45 306.24,80.70 304.88,79.54 306.67,79.40" fill="#ff00ff" stroke="#ff00ff" stroke-width="0.3"/><polygon points="312.76,62.91 313.45,64.56 315.23,64.71 313.87,65.87 314.29,67.61 312.76,66.68 311.23,67.61 311.65,65.87 310.29,64.71 312.07,64.56" fill="#ff00ff" stroke="#ff00ff" stroke-width="0.3"/><polygon points="316.62,68.61 317.31,70.27 319.09,70.41 317.73,71.58 318.15,73.32 316.62,72.38 315.09,73.32 315.51,71.58 314.15,70.41 315.93,70.27" fill="#ff00ff" stroke="#ff00ff" stroke-width="0.3"/><polygon points="316.62,62.34 317.31,63.99 319.09,64.13 317.73,65.30 318.15,67.04 316.62,66.11 315.09,67.04 315.51,65.30 314.15,64.13 315.93,63.99" fill="#ff00ff" stroke="#ff00ff" stroke-width="0.3"/><polygon points="324.34,60.06 325.02,61.71 326.81,61.85 325.45,63.02 325.86,64.76 324.34,63.83 322.81,64.76 323.22,63.02 321.86,61.85 323.65,61.71" fill="#ff00ff" stroke="#ff00ff" stroke-width="0.3"/><polygon points="328.20,52.64 328.88,54.29 330.67,54.44 329.31,55.60 329.72,57.34 328.20,56.41 326.67,57.34 327.08,55.60 325.72,54.44 327.51,54.29" fill="#ff00ff" stroke="#ff00ff" stroke-width="0.3"/><polygon points="332.05,55.49 332.74,57.15 334.53,57.29 333.17,58.45 333.58,60.20 332.05,59.26 330.53,60.20 330.94,58.45 329.58,57.29 331.37,57.15" fill="#ff00ff" stroke="#ff00ff" stroke-width="0.3"/><polygon points="332.05,49.79 332.74,51.44 334.53,51.58 333.17,52.75 333.58,54.49 332.05,53.56 330.53,54.49 330.94,52.75 329.58,51.58 331.37,51.44" fill="#ff00ff" stroke="#ff00ff" stroke-width="0.3"/><polygon points="330.51,51.50 331.20,53.15 332.98,53.29 331.62,54.46 332.04,56.20 330.51,55.27 328.98,56.20 329.40,54.46 328.04,53.29 329.82,53.15" fill="#ff00ff" stroke="#ff00ff" stroke-width="0.3"/><polygon points="339.77,49.79 340.46,51.44 342.25,51.58 340.89,52.75 341.30,54.49 339.77,53.56 338.24,54.49 338.66,52.75 337.30,51.58 339.09,51.44" fill="#ff00ff" stroke="#ff00ff" stroke-width="0.3"/><polygon points="342.09,44.08 342.78,45.73 344.56,45.88 343.20,47.04 343.62,48.78 342.09,47.85 340.56,48.78 340.98,47.04 339.62,45.88 341.40,45.73" fill="#ff00ff" stroke="#ff00ff" stroke-width="0.3"/><polygon points="343.63,40.09 344.32,41.74 346.10,41.88 344.74,43.05 345.16,44.79 343.63,43.86 342.10,44.79 342.52,43.05 341.16,41.88 342.94,41.74" fill="#ff00ff" stroke="#ff00ff" stroke-width="0.3"/><polygon points="342.09,30.39 342.78,32.04 344.56,32.18 343.20,33.35 343.62,35.09 342.09,34.16 340.56,35.09 340.98,33.35 339.62,32.18 341.40,32.04" fill="#ff00ff" stroke="#ff00ff" stroke-width="0.3"/><polygon points="345.18,40.66 345.86,42.31 347.65,42.45 346.29,43.62 346.70,45.36 345.18,44.43 343.65,45.36 344.06,43.62 342.70,42.45 344.49,42.31" fill="#ff00ff" stroke="#ff00ff" stroke-width="0.3"/><polygon points="361.38,35.52 362.07,37.18 363.86,37.32 362.50,38.48 362.91,40.23 361.38,39.29 359.86,40.23 360.27,38.48 358.91,37.32 360.70,37.18" fill="#ff00ff" stroke="#ff00ff" stroke-width="0.3"/><polygon points="334.37,52.64 335.06,54.29 336.84,54.44 335.48,55.60 335.90,57.34 334.37,56.41 332.84,57.34 333.26,55.60 331.90,54.44 333.68,54.29" fill="#ff00ff" stroke="#ff00ff" stroke-width="0.3"/><polygon points="320.48,61.20 321.16,62.85 322.95,62.99 321.59,64.16 322.01,65.90 320.48,64.97 318.95,65.90 319.36,64.16 318.00,62.99 319.79,62.85" fill="#ff00ff" stroke="#ff00ff" stroke-width="0.3"/><polyline points="433.15,87.60 434.69,87.11 436.23,86.61 437.78,86.10 439.32,85.57 440.86,85.04 442.40,84.49 443.94,83.94 445.48,83.37 447.02,82.80 448.56,82.21 450.10,81.62 451.64,81.02 453.18,80.41 454.73,79.79 456.27,79.17 457.81,78.53 459.35,77.89 460.89,77.24 462.43,76.59 463.97,75.93 465.51,75.26 467.05,74.58 468.59,73.90 470.13,73.21 471.68,72.52 473.22,71.83 474.76,71.12 476.30,70.42 477.84,69.71 479.38,68.99 480.92,68.27 482.46,67.51 484.00,66.72 485.54,65.91 487.08,65.08 488.63,64.24 490.17,63.39 491.71,62.54 493.25,61.69 494.79,60.85 496.33,60.02 497.87,59.22 499.41,58.43 500.95,57.69 502.49,56.97 504.03,56.29 505.58,55.62 507.12,54.98 508.66,54.34 510.20,53.70 511.74,53.06 513.28,52.41 514.82,51.74 516.36,51.04 517.90,50.32 519.44,49.56 520.98,48.76 522.53,47.91 524.07,47.00 525.61,46.02 527.15,44.91 528.69,43.68 530.23,42.35 531.77,40.95 533.31,39.51 534.85,38.04 536.39,36.57 537.93,35.08 539.48,33.43 541.02,31.69 542.56,29.99 544.10,28.46 545.64,27.21 547.18,26.25 548.72,25.44 550.26,24.69 551.80,23.93 553.34,23.01 554.88,21.98 556.43,21.01 557.97,20.30 559.51,20.02 561.05,20.03 562.59,20.09 564.13,20.23" fill="none" stroke="#0000ff" stroke-width="0.6" stroke-opacity="0.85" stroke-dasharray="3 0.7"/><polyline points="433.15,87.60 434.69,87.22 436.23,86.83 437.78,86.42 439.32,86.00 440.86,85.56 442.40,85.11 443.94,84.64 445.48,84.16 447.02,83.67 448.56,83.16 450.10,82.65 451.64,82.12 453.18,81.58 454.73,81.03 456.27,80.46 457.81,79.89 459.35,79.31 460.89,78.72 462.43,78.12 463.97,77.51 465.51,76.89 467.05,76.27 468.59,75.63 470.13,74.99 471.68,74.35 473.22,73.69 474.76,73.04 476.30,72.37 477.84,71.70 479.38,71.03 480.92,70.34 482.46,69.62 484.00,68.85 485.54,68.05 487.08,67.23 488.63,66.38 490.17,65.53 491.71,64.67 493.25,63.80 494.79,62.95 496.33,62.11 497.87,61.28 499.41,60.49 500.95,59.73 502.49,59.00 504.03,58.30 505.58,57.62 507.12,56.96 508.66,56.30 510.20,55.65 511.74,54.99 513.28,54.31 514.82,53.62 516.36,52.90 517.90,52.15 519.44,51.35 520.98,50.51 522.53,49.62 524.07,48.67 525.61,47.59 527.15,46.09 528.69,44.29 530.23,42.36 531.77,40.46 533.31,38.78 534.85,37.49 536.39,36.76 537.93,36.69 539.48,36.89 541.02,37.19 542.56,37.52 544.10,37.79 545.64,37.89 547.18,37.30 548.72,35.94 550.26,34.43 551.80,33.38 553.34,32.77 554.88,32.21 556.43,31.75 557.97,31.44 559.51,31.32 561.05,31.32 562.59,31.32 564.13,31.32" fill="none" stroke="#0000ff" stroke-width="0.6" stroke-opacity="0.85" stroke-dasharray="3 0.7"/><polyline points="433.15,88.01 434.69,87.66 436.23,87.29 437.78,86.91 439.32,86.51 440.86,86.10 442.40,85.68 443.94,85.25 445.48,84.80 447.02,84.35 448.56,83.88 450.10,83.40 451.64,82.91 453.18,82.40 454.73,81.89 456.27,81.37 457.81,80.84 459.35,80.30 460.89,79.76 462.43,79.20 463.97,78.64 465.51,78.07 467.05,77.49 468.59,76.90 470.13,76.31 471.68,75.72 473.22,75.11 474.76,74.50 476.30,73.89 477.84,73.27 479.38,72.65 480.92,72.02 482.46,71.35 484.00,70.65 485.54,69.93 487.08,69.18 488.63,68.41 490.17,67.64 491.71,66.85 493.25,66.06 494.79,65.27 496.33,64.48 497.87,63.71 499.41,62.95 500.95,62.21 502.49,61.49 504.03,60.79 505.58,60.09 507.12,59.40 508.66,58.71 510.20,58.02 511.74,57.32 513.28,56.62 514.82,55.90 516.36,55.16 517.90,54.40 519.44,53.62 520.98,52.81 522.53,51.96 524.07,51.08 525.61,50.14 527.15,48.99 528.69,47.69 530.23,46.33 531.77,44.98 533.31,43.73 534.85,42.67 536.39,41.87 537.93,41.38 539.48,41.06 541.02,40.81 542.56,40.58 544.10,40.31 545.64,39.95 547.18,39.33 548.72,38.48 550.26,37.65 551.80,37.07 553.34,36.70 554.88,36.37 556.43,36.09 557.97,35.91 559.51,35.84 561.05,36.01 562.59,36.46 564.13,37.07" fill="none" stroke="#0000ff" stroke-width="0.6" stroke-opacity="0.85" stroke-dasharray="3 0.7"/><polyline points="433.15,89.24 434.69,88.91 436.23,88.57 437.78,88.21 439.32,87.83 440.86,87.44 442.40,87.04 443.94,86.62 445.48,86.19 447.02,85.75 448.56,85.30 450.10,84.83 451.64,84.36 453.18,83.87 454.73,83.37 456.27,82.86 457.81,82.35 459.35,81.82 460.89,81.28 462.43,80.74 463.97,80.18 465.51,79.62 467.05,79.06 468.59,78.48 470.13,77.90 471.68,77.31 473.22,76.72 474.76,76.12 476.30,75.51 477.84,74.90 479.38,74.29 480.92,73.67 482.46,73.00 484.00,72.30 485.54,71.57 487.08,70.81 488.63,70.04 490.17,69.25 491.71,68.46 493.25,67.66 494.79,66.87 496.33,66.09 497.87,65.33 499.41,64.60 500.95,63.88 502.49,63.17 504.03,62.48 505.58,61.79 507.12,61.11 508.66,60.44 510.20,59.76 511.74,59.09 513.28,58.42 514.82,57.74 516.36,57.05 517.90,56.36 519.44,55.66 520.98,54.94 522.53,54.22 524.07,53.47 525.61,52.70 527.15,51.85 528.69,50.94 530.23,50.01 531.77,49.09 533.31,48.23 534.85,47.45 536.39,46.79 537.93,46.29 539.48,45.91 541.02,45.60 542.56,45.30 544.10,44.94 545.64,44.47 547.18,43.59 548.72,42.35 550.26,41.20 551.80,40.56 553.34,40.36 554.88,40.19 556.43,40.06 557.97,39.98 559.51,39.95 561.05,39.95 562.59,39.95 564.13,39.95" fill="none" stroke="#0000ff" stroke-width="0.6" stroke-opacity="0.85" stroke-dasharray="3 0.7"/><polyline points="433.15,93.35 434.69,92.91 436.23,92.45 437.78,91.98 439.32,91.50 440.86,91.01 442.40,90.51 443.94,90.00 445.48,89.48 447.02,88.94 448.56,88.40 450.10,87.85 451.64,87.29 453.18,86.72 454.73,86.14 456.27,85.56 457.81,84.96 459.35,84.36 460.89,83.75 462.43,83.14 463.97,82.51 465.51,81.88 467.05,81.25 468.59,80.60 470.13,79.96 471.68,79.30 473.22,78.64 474.76,77.98 476.30,77.31 477.84,76.64 479.38,75.96 480.92,75.27 482.46,74.54 484.00,73.78 485.54,72.98 487.08,72.17 488.63,71.34 490.17,70.51 491.71,69.68 493.25,68.86 494.79,68.06 496.33,67.28 497.87,66.53 499.41,65.83 500.95,65.15 502.49,64.49 504.03,63.84 505.58,63.21 507.12,62.58 508.66,61.97 510.20,61.36 511.74,60.77 513.28,60.18 514.82,59.60 516.36,59.03 517.90,58.46 519.44,57.90 520.98,57.35 522.53,56.79 524.07,56.24 525.61,55.70 527.15,55.19 528.69,54.70 530.23,54.22 531.77,53.74 533.31,53.25 534.85,52.72 536.39,52.16 537.93,51.54 539.48,50.80 541.02,50.00 542.56,49.19 544.10,48.42 545.64,47.75 547.18,47.17 548.72,46.63 550.26,46.13 551.80,45.70 553.34,45.33 554.88,45.01 556.43,44.71 557.97,44.40 559.51,44.06 561.05,43.67 562.59,43.26 564.13,42.82" fill="none" stroke="#0000ff" stroke-width="0.6" stroke-opacity="0.85" stroke-dasharray="3 0.7"/><polyline points="433.15,95.82 434.69,95.28 436.23,94.74 437.78,94.19 439.32,93.63 440.86,93.06 442.40,92.48 443.94,91.90 445.48,91.31 447.02,90.71 448.56,90.10 450.10,89.49 451.64,88.87 453.18,88.25 454.73,87.61 456.27,86.98 457.81,86.33 459.35,85.68 460.89,85.03 462.43,84.37 463.97,83.70 465.51,83.03 467.05,82.35 468.59,81.67 470.13,80.99 471.68,80.30 473.22,79.61 474.76,78.91 476.30,78.21 477.84,77.50 479.38,76.79 480.92,76.07 482.46,75.32 484.00,74.53 485.54,73.71 487.08,72.88 488.63,72.04 490.17,71.20 491.71,70.37 493.25,69.56 494.79,68.77 496.33,68.02 497.87,67.31 499.41,66.65 500.95,66.03 502.49,65.45 504.03,64.88 505.58,64.34 507.12,63.82 508.66,63.31 510.20,62.82 511.74,62.33 513.28,61.85 514.82,61.37 516.36,60.88 517.90,60.39 519.44,59.89 520.98,59.38 522.53,58.85 524.07,58.31 525.61,57.74 527.15,57.17 528.69,56.60 530.23,56.02 531.77,55.42 533.31,54.80 534.85,54.15 536.39,53.46 537.93,52.70 539.48,51.82 541.02,50.86 542.56,49.89 544.10,48.97 545.64,48.16 547.18,47.44 548.72,46.75 550.26,46.15 551.80,45.70 553.34,45.34 554.88,45.01 556.43,44.73 557.97,44.54 559.51,44.47 561.05,44.64 562.59,45.09 564.13,45.70" fill="none" stroke="#0000ff" stroke-width="0.6" stroke-opacity="0.85" stroke-dasharray="3 0.7"/><polyline points="433.15,99.92 434.69,99.21 436.23,98.49 437.78,97.77 439.32,97.05 440.86,96.32 442.40,95.59 443.94,94.86 445.48,94.13 447.02,93.40 448.56,92.67 450.10,91.93 451.64,91.19 453.18,90.45 454.73,89.71 456.27,88.97 457.81,88.22 459.35,87.47 460.89,86.72 462.43,85.97 463.97,85.22 465.51,84.47 467.05,83.72 468.59,82.96 470.13,82.20 471.68,81.45 473.22,80.69 474.76,79.93 476.30,79.16 477.84,78.40 479.38,77.64 480.92,76.87 482.46,76.07 484.00,75.25 485.54,74.42 487.08,73.58 488.63,72.75 490.17,71.92 491.71,71.10 493.25,70.30 494.79,69.54 496.33,68.80 497.87,68.11 499.41,67.47 500.95,66.87 502.49,66.31 504.03,65.77 505.58,65.26 507.12,64.76 508.66,64.28 510.20,63.82 511.74,63.36 513.28,62.91 514.82,62.45 516.36,62.00 517.90,61.53 519.44,61.06 520.98,60.57 522.53,60.06 524.07,59.53 525.61,58.98 527.15,58.41 528.69,57.83 530.23,57.24 531.77,56.64 533.31,56.01 534.85,55.36 536.39,54.68 537.93,53.96 539.48,53.15 541.02,52.28 542.56,51.40 544.10,50.56 545.64,49.81 547.18,49.11 548.72,48.44 550.26,47.84 551.80,47.34 553.34,46.89 554.88,46.45 556.43,46.07 557.97,45.80 559.51,45.70 561.05,45.80 562.59,46.09 564.13,46.52" fill="none" stroke="#0000ff" stroke-width="0.6" stroke-opacity="0.85" stroke-dasharray="3 0.7"/><polyline points="433.15,103.21 434.69,102.36 436.23,101.51 437.78,100.66 439.32,99.81 440.86,98.97 442.40,98.13 443.94,97.29 445.48,96.45 447.02,95.61 448.56,94.78 450.10,93.95 451.64,93.12 453.18,92.29 454.73,91.47 456.27,90.64 457.81,89.82 459.35,89.00 460.89,88.18 462.43,87.36 463.97,86.55 465.51,85.73 467.05,84.92 468.59,84.11 470.13,83.30 471.68,82.49 473.22,81.68 474.76,80.88 476.30,80.08 477.84,79.27 479.38,78.47 480.92,77.67 482.46,76.85 484.00,76.02 485.54,75.18 487.08,74.34 488.63,73.51 490.17,72.69 491.71,71.88 493.25,71.10 494.79,70.34 496.33,69.62 497.87,68.93 499.41,68.29 500.95,67.69 502.49,67.12 504.03,66.58 505.58,66.06 507.12,65.56 508.66,65.07 510.20,64.60 511.74,64.13 513.28,63.67 514.82,63.22 516.36,62.76 517.90,62.30 519.44,61.83 520.98,61.35 522.53,60.85 524.07,60.34 525.61,59.81 527.15,59.28 528.69,58.75 530.23,58.21 531.77,57.66 533.31,57.09 534.85,56.50 536.39,55.88 537.93,55.23 539.48,54.53 541.02,53.79 542.56,53.02 544.10,52.24 545.64,51.45 547.18,50.60 548.72,49.69 550.26,48.84 551.80,48.16 553.34,47.60 554.88,47.04 556.43,46.57 557.97,46.23 559.51,46.11 561.05,46.11 562.59,46.11 564.13,46.11" fill="none" stroke="#0000ff" stroke-width="0.6" stroke-opacity="0.85" stroke-dasharray="3 0.7"/><circle cx="433.15" cy="87.60" r="0.5" fill="#0000ff" fill-opacity="0.7"/><circle cx="437.00" cy="86.35" r="0.5" fill="#0000ff" fill-opacity="0.7"/><circle cx="440.86" cy="85.04" r="0.5" fill="#0000ff" fill-opacity="0.7"/><circle cx="444.71" cy="83.66" r="0.5" fill="#0000ff" fill-opacity="0.7"/><circle cx="448.56" cy="82.21" r="0.5" fill="#0000ff" fill-opacity="0.7"/><circle cx="452.41" cy="80.72" r="0.5" fill="#0000ff" fill-opacity="0.7"/><circle cx="456.27" cy="79.17" r="0.5" fill="#0000ff" fill-opacity="0.7"/><circle cx="460.12" cy="77.57" r="0.5" fill="#0000ff" fill-opacity="0.7"/><circle cx="463.97" cy="75.93" r="0.5" fill="#0000ff" fill-opacity="0.7"/><circle cx="467.82" cy="74.24" r="0.5" fill="#0000ff" fill-opacity="0.7"/><circle cx="471.67" cy="72.52" r="0.5" fill="#0000ff" fill-opacity="0.7"/><circle cx="475.53" cy="70.77" r="0.5" fill="#0000ff" fill-opacity="0.7"/><circle cx="479.38" cy="68.99" r="0.5" fill="#0000ff" fill-opacity="0.7"/><circle cx="483.23" cy="67.12" r="0.5" fill="#0000ff" fill-opacity="0.7"/><circle cx="487.08" cy="65.08" r="0.5" fill="#0000ff" fill-opacity="0.7"/><circle cx="490.94" cy="62.96" r="0.5" fill="#0000ff" fill-opacity="0.7"/><circle cx="494.79" cy="60.85" r="0.5" fill="#0000ff" fill-opacity="0.7"/><circle cx="498.64" cy="58.82" r="0.5" fill="#0000ff" fill-opacity="0.7"/><circle cx="502.49" cy="56.97" r="0.5" fill="#0000ff" fill-opacity="0.7"/><circle cx="506.35" cy="55.30" r="0.5" fill="#0000ff" fill-opacity="0.7"/><circle cx="510.20" cy="53.70" r="0.5" fill="#0000ff" fill-opacity="0.7"/><circle cx="514.05" cy="52.07" r="0.5" fill="#0000ff" fill-opacity="0.7"/><circle cx="517.90" cy="50.32" r="0.5" fill="#0000ff" fill-opacity="0.7"/><circle cx="521.75" cy="48.34" r="0.5" fill="#0000ff" fill-opacity="0.7"/><circle cx="525.61" cy="46.02" r="0.5" fill="#0000ff" fill-opacity="0.7"/><circle cx="529.46" cy="43.02" r="0.5" fill="#0000ff" fill-opacity="0.7"/><circle cx="533.31" cy="39.51" r="0.5" fill="#0000ff" fill-opacity="0.7"/><circle cx="537.16" cy="35.84" r="0.5" fill="#0000ff" fill-opacity="0.7"/><circle cx="541.02" cy="31.69" r="0.5" fill="#0000ff" fill-opacity="0.7"/><circle cx="544.87" cy="27.79" r="0.5" fill="#0000ff" fill-opacity="0.7"/><circle cx="548.72" cy="25.44" r="0.5" fill="#0000ff" fill-opacity="0.7"/><circle cx="552.57" cy="23.49" r="0.5" fill="#0000ff" fill-opacity="0.7"/><circle cx="556.42" cy="21.01" r="0.5" fill="#0000ff" fill-opacity="0.7"/><circle cx="560.28" cy="20.03" r="0.5" fill="#0000ff" fill-opacity="0.7"/><circle cx="564.13" cy="20.23" r="0.5" fill="#0000ff" fill-opacity="0.7"/><circle cx="433.15" cy="87.60" r="0.5" fill="#0000ff" fill-opacity="0.7"/><circle cx="437.00" cy="86.63" r="0.5" fill="#0000ff" fill-opacity="0.7"/><circle cx="440.86" cy="85.56" r="0.5" fill="#0000ff" fill-opacity="0.7"/><circle cx="444.71" cy="84.40" r="0.5" fill="#0000ff" fill-opacity="0.7"/><circle cx="448.56" cy="83.16" r="0.5" fill="#0000ff" fill-opacity="0.7"/><circle cx="452.41" cy="81.85" r="0.5" fill="#0000ff" fill-opacity="0.7"/><circle cx="456.27" cy="80.46" r="0.5" fill="#0000ff" fill-opacity="0.7"/><circle cx="460.12" cy="79.01" r="0.5" fill="#0000ff" fill-opacity="0.7"/><circle cx="463.97" cy="77.51" r="0.5" fill="#0000ff" fill-opacity="0.7"/><circle cx="467.82" cy="75.95" r="0.5" fill="#0000ff" fill-opacity="0.7"/><circle cx="471.67" cy="74.35" r="0.5" fill="#0000ff" fill-opacity="0.7"/><circle cx="475.53" cy="72.70" r="0.5" fill="#0000ff" fill-opacity="0.7"/><circle cx="479.38" cy="71.03" r="0.5" fill="#0000ff" fill-opacity="0.7"/><circle cx="483.23" cy="69.24" r="0.5" fill="#0000ff" fill-opacity="0.7"/><circle cx="487.08" cy="67.23" r="0.5" fill="#0000ff" fill-opacity="0.7"/><circle cx="490.94" cy="65.10" r="0.5" fill="#0000ff" fill-opacity="0.7"/><circle cx="494.79" cy="62.95" r="0.5" fill="#0000ff" fill-opacity="0.7"/><circle cx="498.64" cy="60.88" r="0.5" fill="#0000ff" fill-opacity="0.7"/><circle cx="502.49" cy="59.00" r="0.5" fill="#0000ff" fill-opacity="0.7"/><circle cx="506.35" cy="57.29" r="0.5" fill="#0000ff" fill-opacity="0.7"/><circle cx="510.20" cy="55.65" r="0.5" fill="#0000ff" fill-opacity="0.7"/><circle cx="514.05" cy="53.97" r="0.5" fill="#0000ff" fill-opacity="0.7"/><circle cx="517.90" cy="52.15" r="0.5" fill="#0000ff" fill-opacity="0.7"/><circle cx="521.75" cy="50.07" r="0.5" fill="#0000ff" fill-opacity="0.7"/><circle cx="525.61" cy="47.59" r="0.5" fill="#0000ff" fill-opacity="0.7"/><circle cx="529.46" cy="43.33" r="0.5" fill="#0000ff" fill-opacity="0.7"/><circle cx="533.31" cy="38.78" r="0.5" fill="#0000ff" fill-opacity="0.7"/><circle cx="537.16" cy="36.66" r="0.5" fill="#0000ff" fill-opacity="0.7"/><circle cx="541.02" cy="37.19" r="0.5" fill="#0000ff" fill-opacity="0.7"/><circle cx="544.87" cy="37.87" r="0.5" fill="#0000ff" fill-opacity="0.7"/><circle cx="548.72" cy="35.94" r="0.5" fill="#0000ff" fill-opacity="0.7"/><circle cx="552.57" cy="33.07" r="0.5" fill="#0000ff" fill-opacity="0.7"/><circle cx="556.42" cy="31.75" r="0.5" fill="#0000ff" fill-opacity="0.7"/><circle cx="560.28" cy="31.32" r="0.5" fill="#0000ff" fill-opacity="0.7"/><circle cx="564.13" cy="31.32" r="0.5" fill="#0000ff" fill-opacity="0.7"/><circle cx="433.15" cy="88.01" r="0.5" fill="#0000ff" fill-opacity="0.7"/><circle cx="437.00" cy="87.10" r="0.5" fill="#0000ff" fill-opacity="0.7"/><circle cx="440.86" cy="86.10" r="0.5" fill="#0000ff" fill-opacity="0.7"/><circle cx="444.71" cy="85.03" r="0.5" fill="#0000ff" fill-opacity="0.7"/><circle cx="448.56" cy="83.88" r="0.5" fill="#0000ff" fill-opacity="0.7"/><circle cx="452.41" cy="82.66" r="0.5" fill="#0000ff" fill-opacity="0.7"/><circle cx="456.27" cy="81.37" r="0.5" fill="#0000ff" fill-opacity="0.7"/><circle cx="460.12" cy="80.03" r="0.5" fill="#0000ff" fill-opacity="0.7"/><circle cx="463.97" cy="78.64" r="0.5" fill="#0000ff" fill-opacity="0.7"/><circle cx="467.82" cy="77.20" r="0.5" fill="#0000ff" fill-opacity="0.7"/><circle cx="471.67" cy="75.72" r="0.5" fill="#0000ff" fill-opacity="0.7"/><circle cx="475.53" cy="74.20" r="0.5" fill="#0000ff" fill-opacity="0.7"/><circle cx="479.38" cy="72.65" r="0.5" fill="#0000ff" fill-opacity="0.7"/><circle cx="483.23" cy="71.01" r="0.5" fill="#0000ff" fill-opacity="0.7"/><circle cx="487.08" cy="69.18" r="0.5" fill="#0000ff" fill-opacity="0.7"/><circle cx="490.94" cy="67.24" r="0.5" fill="#0000ff" fill-opacity="0.7"/><circle cx="494.79" cy="65.27" r="0.5" fill="#0000ff" fill-opacity="0.7"/><circle cx="498.64" cy="63.33" r="0.5" fill="#0000ff" fill-opacity="0.7"/><circle cx="502.49" cy="61.49" r="0.5" fill="#0000ff" fill-opacity="0.7"/><circle cx="506.35" cy="59.74" r="0.5" fill="#0000ff" fill-opacity="0.7"/><circle cx="510.20" cy="58.02" r="0.5" fill="#0000ff" fill-opacity="0.7"/><circle cx="514.05" cy="56.26" r="0.5" fill="#0000ff" fill-opacity="0.7"/><circle cx="517.90" cy="54.40" r="0.5" fill="#0000ff" fill-opacity="0.7"/><circle cx="521.75" cy="52.39" r="0.5" fill="#0000ff" fill-opacity="0.7"/><circle cx="525.61" cy="50.14" r="0.5" fill="#0000ff" fill-opacity="0.7"/><circle cx="529.46" cy="47.01" r="0.5" fill="#0000ff" fill-opacity="0.7"/><circle cx="533.31" cy="43.73" r="0.5" fill="#0000ff" fill-opacity="0.7"/><circle cx="537.16" cy="41.59" r="0.5" fill="#0000ff" fill-opacity="0.7"/><circle cx="541.02" cy="40.81" r="0.5" fill="#0000ff" fill-opacity="0.7"/><circle cx="544.87" cy="40.15" r="0.5" fill="#0000ff" fill-opacity="0.7"/><circle cx="548.72" cy="38.48" r="0.5" fill="#0000ff" fill-opacity="0.7"/><circle cx="552.57" cy="36.89" r="0.5" fill="#0000ff" fill-opacity="0.7"/><circle cx="556.42" cy="36.09" r="0.5" fill="#0000ff" fill-opacity="0.7"/><circle cx="560.28" cy="35.89" r="0.5" fill="#0000ff" fill-opacity="0.7"/><circle cx="564.13" cy="37.07" r="0.5" fill="#0000ff" fill-opacity="0.7"/><circle cx="433.15" cy="89.24" r="0.5" fill="#0000ff" fill-opacity="0.7"/><circle cx="437.00" cy="88.39" r="0.5" fill="#0000ff" fill-opacity="0.7"/><circle cx="440.86" cy="87.44" r="0.5" fill="#0000ff" fill-opacity="0.7"/><circle cx="444.71" cy="86.41" r="0.5" fill="#0000ff" fill-opacity="0.7"/><circle cx="448.56" cy="85.30" r="0.5" fill="#0000ff" fill-opacity="0.7"/><circle cx="452.41" cy="84.11" r="0.5" fill="#0000ff" fill-opacity="0.7"/><circle cx="456.27" cy="82.86" r="0.5" fill="#0000ff" fill-opacity="0.7"/><circle cx="460.12" cy="81.55" r="0.5" fill="#0000ff" fill-opacity="0.7"/><circle cx="463.97" cy="80.18" r="0.5" fill="#0000ff" fill-opacity="0.7"/><circle cx="467.82" cy="78.77" r="0.5" fill="#0000ff" fill-opacity="0.7"/><circle cx="471.67" cy="77.31" r="0.5" fill="#0000ff" fill-opacity="0.7"/><circle cx="475.53" cy="75.82" r="0.5" fill="#0000ff" fill-opacity="0.7"/><circle cx="479.38" cy="74.29" r="0.5" fill="#0000ff" fill-opacity="0.7"/><circle cx="483.23" cy="72.66" r="0.5" fill="#0000ff" fill-opacity="0.7"/><circle cx="487.08" cy="70.81" r="0.5" fill="#0000ff" fill-opacity="0.7"/><circle cx="490.94" cy="68.85" r="0.5" fill="#0000ff" fill-opacity="0.7"/><circle cx="494.79" cy="66.87" r="0.5" fill="#0000ff" fill-opacity="0.7"/><circle cx="498.64" cy="64.96" r="0.5" fill="#0000ff" fill-opacity="0.7"/><circle cx="502.49" cy="63.17" r="0.5" fill="#0000ff" fill-opacity="0.7"/><circle cx="506.35" cy="61.45" r="0.5" fill="#0000ff" fill-opacity="0.7"/><circle cx="510.20" cy="59.76" r="0.5" fill="#0000ff" fill-opacity="0.7"/><circle cx="514.05" cy="58.08" r="0.5" fill="#0000ff" fill-opacity="0.7"/><circle cx="517.90" cy="56.36" r="0.5" fill="#0000ff" fill-opacity="0.7"/><circle cx="521.75" cy="54.58" r="0.5" fill="#0000ff" fill-opacity="0.7"/><circle cx="525.61" cy="52.70" r="0.5" fill="#0000ff" fill-opacity="0.7"/><circle cx="529.46" cy="50.47" r="0.5" fill="#0000ff" fill-opacity="0.7"/><circle cx="533.31" cy="48.23" r="0.5" fill="#0000ff" fill-opacity="0.7"/><circle cx="537.16" cy="46.52" r="0.5" fill="#0000ff" fill-opacity="0.7"/><circle cx="541.02" cy="45.60" r="0.5" fill="#0000ff" fill-opacity="0.7"/><circle cx="544.87" cy="44.72" r="0.5" fill="#0000ff" fill-opacity="0.7"/><circle cx="548.72" cy="42.35" r="0.5" fill="#0000ff" fill-opacity="0.7"/><circle cx="552.57" cy="40.46" r="0.5" fill="#0000ff" fill-opacity="0.7"/><circle cx="556.42" cy="40.06" r="0.5" fill="#0000ff" fill-opacity="0.7"/><circle cx="560.28" cy="39.95" r="0.5" fill="#0000ff" fill-opacity="0.7"/><circle cx="564.13" cy="39.95" r="0.5" fill="#0000ff" fill-opacity="0.7"/><circle cx="433.15" cy="93.35" r="0.5" fill="#0000ff" fill-opacity="0.7"/><circle cx="437.00" cy="92.22" r="0.5" fill="#0000ff" fill-opacity="0.7"/><circle cx="440.86" cy="91.01" r="0.5" fill="#0000ff" fill-opacity="0.7"/><circle cx="444.71" cy="89.74" r="0.5" fill="#0000ff" fill-opacity="0.7"/><circle cx="448.56" cy="88.40" r="0.5" fill="#0000ff" fill-opacity="0.7"/><circle cx="452.41" cy="87.01" r="0.5" fill="#0000ff" fill-opacity="0.7"/><circle cx="456.27" cy="85.56" r="0.5" fill="#0000ff" fill-opacity="0.7"/><circle cx="460.12" cy="84.06" r="0.5" fill="#0000ff" fill-opacity="0.7"/><circle cx="463.97" cy="82.51" r="0.5" fill="#0000ff" fill-opacity="0.7"/><circle cx="467.82" cy="80.93" r="0.5" fill="#0000ff" fill-opacity="0.7"/><circle cx="471.67" cy="79.30" r="0.5" fill="#0000ff" fill-opacity="0.7"/><circle cx="475.53" cy="77.64" r="0.5" fill="#0000ff" fill-opacity="0.7"/><circle cx="479.38" cy="75.96" r="0.5" fill="#0000ff" fill-opacity="0.7"/><circle cx="483.23" cy="74.16" r="0.5" fill="#0000ff" fill-opacity="0.7"/><circle cx="487.08" cy="72.17" r="0.5" fill="#0000ff" fill-opacity="0.7"/><circle cx="490.94" cy="70.09" r="0.5" fill="#0000ff" fill-opacity="0.7"/><circle cx="494.79" cy="68.06" r="0.5" fill="#0000ff" fill-opacity="0.7"/><circle cx="498.64" cy="66.18" r="0.5" fill="#0000ff" fill-opacity="0.7"/><circle cx="502.49" cy="64.49" r="0.5" fill="#0000ff" fill-opacity="0.7"/><circle cx="506.35" cy="62.89" r="0.5" fill="#0000ff" fill-opacity="0.7"/><circle cx="510.20" cy="61.36" r="0.5" fill="#0000ff" fill-opacity="0.7"/><circle cx="514.05" cy="59.89" r="0.5" fill="#0000ff" fill-opacity="0.7"/><circle cx="517.90" cy="58.46" r="0.5" fill="#0000ff" fill-opacity="0.7"/><circle cx="521.75" cy="57.07" r="0.5" fill="#0000ff" fill-opacity="0.7"/><circle cx="525.61" cy="55.70" r="0.5" fill="#0000ff" fill-opacity="0.7"/><circle cx="529.46" cy="54.46" r="0.5" fill="#0000ff" fill-opacity="0.7"/><circle cx="533.31" cy="53.25" r="0.5" fill="#0000ff" fill-opacity="0.7"/><circle cx="537.16" cy="51.86" r="0.5" fill="#0000ff" fill-opacity="0.7"/><circle cx="541.02" cy="50.00" r="0.5" fill="#0000ff" fill-opacity="0.7"/><circle cx="544.87" cy="48.07" r="0.5" fill="#0000ff" fill-opacity="0.7"/><circle cx="548.72" cy="46.63" r="0.5" fill="#0000ff" fill-opacity="0.7"/><circle cx="552.57" cy="45.51" r="0.5" fill="#0000ff" fill-opacity="0.7"/><circle cx="556.42" cy="44.71" r="0.5" fill="#0000ff" fill-opacity="0.7"/><circle cx="560.28" cy="43.87" r="0.5" fill="#0000ff" fill-opacity="0.7"/><circle cx="564.13" cy="42.82" r="0.5" fill="#0000ff" fill-opacity="0.7"/><circle cx="433.15" cy="95.82" r="0.5" fill="#0000ff" fill-opacity="0.7"/><circle cx="437.00" cy="94.46" r="0.5" fill="#0000ff" fill-opacity="0.7"/><circle cx="440.86" cy="93.06" r="0.5" fill="#0000ff" fill-opacity="0.7"/><circle cx="444.71" cy="91.60" r="0.5" fill="#0000ff" fill-opacity="0.7"/><circle cx="448.56" cy="90.10" r="0.5" fill="#0000ff" fill-opacity="0.7"/><circle cx="452.41" cy="88.56" r="0.5" fill="#0000ff" fill-opacity="0.7"/><circle cx="456.27" cy="86.98" r="0.5" fill="#0000ff" fill-opacity="0.7"/><circle cx="460.12" cy="85.36" r="0.5" fill="#0000ff" fill-opacity="0.7"/><circle cx="463.97" cy="83.70" r="0.5" fill="#0000ff" fill-opacity="0.7"/><circle cx="467.82" cy="82.01" r="0.5" fill="#0000ff" fill-opacity="0.7"/><circle cx="471.67" cy="80.30" r="0.5" fill="#0000ff" fill-opacity="0.7"/><circle cx="475.53" cy="78.56" r="0.5" fill="#0000ff" fill-opacity="0.7"/><circle cx="479.38" cy="76.79" r="0.5" fill="#0000ff" fill-opacity="0.7"/><circle cx="483.23" cy="74.93" r="0.5" fill="#0000ff" fill-opacity="0.7"/><circle cx="487.08" cy="72.88" r="0.5" fill="#0000ff" fill-opacity="0.7"/><circle cx="490.94" cy="70.79" r="0.5" fill="#0000ff" fill-opacity="0.7"/><circle cx="494.79" cy="68.77" r="0.5" fill="#0000ff" fill-opacity="0.7"/><circle cx="498.64" cy="66.97" r="0.5" fill="#0000ff" fill-opacity="0.7"/><circle cx="502.49" cy="65.45" r="0.5" fill="#0000ff" fill-opacity="0.7"/><circle cx="506.35" cy="64.08" r="0.5" fill="#0000ff" fill-opacity="0.7"/><circle cx="510.20" cy="62.82" r="0.5" fill="#0000ff" fill-opacity="0.7"/><circle cx="514.05" cy="61.61" r="0.5" fill="#0000ff" fill-opacity="0.7"/><circle cx="517.90" cy="60.39" r="0.5" fill="#0000ff" fill-opacity="0.7"/><circle cx="521.75" cy="59.12" r="0.5" fill="#0000ff" fill-opacity="0.7"/><circle cx="525.61" cy="57.74" r="0.5" fill="#0000ff" fill-opacity="0.7"/><circle cx="529.46" cy="56.31" r="0.5" fill="#0000ff" fill-opacity="0.7"/><circle cx="533.31" cy="54.80" r="0.5" fill="#0000ff" fill-opacity="0.7"/><circle cx="537.16" cy="53.09" r="0.5" fill="#0000ff" fill-opacity="0.7"/><circle cx="541.02" cy="50.86" r="0.5" fill="#0000ff" fill-opacity="0.7"/><circle cx="544.87" cy="48.55" r="0.5" fill="#0000ff" fill-opacity="0.7"/><circle cx="548.72" cy="46.75" r="0.5" fill="#0000ff" fill-opacity="0.7"/><circle cx="552.57" cy="45.52" r="0.5" fill="#0000ff" fill-opacity="0.7"/><circle cx="556.42" cy="44.73" r="0.5" fill="#0000ff" fill-opacity="0.7"/><circle cx="560.28" cy="44.51" r="0.5" fill="#0000ff" fill-opacity="0.7"/><circle cx="564.13" cy="45.70" r="0.5" fill="#0000ff" fill-opacity="0.7"/><circle cx="433.15" cy="99.92" r="0.5" fill="#0000ff" fill-opacity="0.7"/><circle cx="437.00" cy="98.13" r="0.5" fill="#0000ff" fill-opacity="0.7"/><circle cx="440.86" cy="96.32" r="0.5" fill="#0000ff" fill-opacity="0.7"/><circle cx="444.71" cy="94.50" r="0.5" fill="#0000ff" fill-opacity="0.7"/><circle cx="448.56" cy="92.67" r="0.5" fill="#0000ff" fill-opacity="0.7"/><circle cx="452.41" cy="90.82" r="0.5" fill="#0000ff" fill-opacity="0.7"/><circle cx="456.27" cy="88.97" r="0.5" fill="#0000ff" fill-opacity="0.7"/><circle cx="460.12" cy="87.10" r="0.5" fill="#0000ff" fill-opacity="0.7"/><circle cx="463.97" cy="85.22" r="0.5" fill="#0000ff" fill-opacity="0.7"/><circle cx="467.82" cy="83.34" r="0.5" fill="#0000ff" fill-opacity="0.7"/><circle cx="471.67" cy="81.45" r="0.5" fill="#0000ff" fill-opacity="0.7"/><circle cx="475.53" cy="79.54" r="0.5" fill="#0000ff" fill-opacity="0.7"/><circle cx="479.38" cy="77.64" r="0.5" fill="#0000ff" fill-opacity="0.7"/><circle cx="483.23" cy="75.66" r="0.5" fill="#0000ff" fill-opacity="0.7"/><circle cx="487.08" cy="73.58" r="0.5" fill="#0000ff" fill-opacity="0.7"/><circle cx="490.94" cy="71.51" r="0.5" fill="#0000ff" fill-opacity="0.7"/><circle cx="494.79" cy="69.54" r="0.5" fill="#0000ff" fill-opacity="0.7"/><circle cx="498.64" cy="67.79" r="0.5" fill="#0000ff" fill-opacity="0.7"/><circle cx="502.49" cy="66.31" r="0.5" fill="#0000ff" fill-opacity="0.7"/><circle cx="506.35" cy="65.01" r="0.5" fill="#0000ff" fill-opacity="0.7"/><circle cx="510.20" cy="63.82" r="0.5" fill="#0000ff" fill-opacity="0.7"/><circle cx="514.05" cy="62.68" r="0.5" fill="#0000ff" fill-opacity="0.7"/><circle cx="517.90" cy="61.53" r="0.5" fill="#0000ff" fill-opacity="0.7"/><circle cx="521.75" cy="60.32" r="0.5" fill="#0000ff" fill-opacity="0.7"/><circle cx="525.61" cy="58.98" r="0.5" fill="#0000ff" fill-opacity="0.7"/><circle cx="529.46" cy="57.54" r="0.5" fill="#0000ff" fill-opacity="0.7"/><circle cx="533.31" cy="56.01" r="0.5" fill="#0000ff" fill-opacity="0.7"/><circle cx="537.16" cy="54.33" r="0.5" fill="#0000ff" fill-opacity="0.7"/><circle cx="541.02" cy="52.28" r="0.5" fill="#0000ff" fill-opacity="0.7"/><circle cx="544.87" cy="50.17" r="0.5" fill="#0000ff" fill-opacity="0.7"/><circle cx="548.72" cy="48.44" r="0.5" fill="#0000ff" fill-opacity="0.7"/><circle cx="552.57" cy="47.12" r="0.5" fill="#0000ff" fill-opacity="0.7"/><circle cx="556.42" cy="46.07" r="0.5" fill="#0000ff" fill-opacity="0.7"/><circle cx="560.28" cy="45.73" r="0.5" fill="#0000ff" fill-opacity="0.7"/><circle cx="564.13" cy="46.52" r="0.5" fill="#0000ff" fill-opacity="0.7"/><circle cx="433.15" cy="103.21" r="0.5" fill="#0000ff" fill-opacity="0.7"/><circle cx="437.00" cy="101.08" r="0.5" fill="#0000ff" fill-opacity="0.7"/><circle cx="440.86" cy="98.97" r="0.5" fill="#0000ff" fill-opacity="0.7"/><circle cx="444.71" cy="96.87" r="0.5" fill="#0000ff" fill-opacity="0.7"/><circle cx="448.56" cy="94.78" r="0.5" fill="#0000ff" fill-opacity="0.7"/><circle cx="452.41" cy="92.71" r="0.5" fill="#0000ff" fill-opacity="0.7"/><circle cx="456.27" cy="90.64" r="0.5" fill="#0000ff" fill-opacity="0.7"/><circle cx="460.12" cy="88.59" r="0.5" fill="#0000ff" fill-opacity="0.7"/><circle cx="463.97" cy="86.55" r="0.5" fill="#0000ff" fill-opacity="0.7"/><circle cx="467.82" cy="84.51" r="0.5" fill="#0000ff" fill-opacity="0.7"/><circle cx="471.67" cy="82.49" r="0.5" fill="#0000ff" fill-opacity="0.7"/><circle cx="475.53" cy="80.48" r="0.5" fill="#0000ff" fill-opacity="0.7"/><circle cx="479.38" cy="78.47" r="0.5" fill="#0000ff" fill-opacity="0.7"/><circle cx="483.23" cy="76.43" r="0.5" fill="#0000ff" fill-opacity="0.7"/><circle cx="487.08" cy="74.34" r="0.5" fill="#0000ff" fill-opacity="0.7"/><circle cx="490.94" cy="72.28" r="0.5" fill="#0000ff" fill-opacity="0.7"/><circle cx="494.79" cy="70.34" r="0.5" fill="#0000ff" fill-opacity="0.7"/><circle cx="498.64" cy="68.61" r="0.5" fill="#0000ff" fill-opacity="0.7"/><circle cx="502.49" cy="67.12" r="0.5" fill="#0000ff" fill-opacity="0.7"/><circle cx="506.35" cy="65.81" r="0.5" fill="#0000ff" fill-opacity="0.7"/><circle cx="510.20" cy="64.60" r="0.5" fill="#0000ff" fill-opacity="0.7"/><circle cx="514.05" cy="63.44" r="0.5" fill="#0000ff" fill-opacity="0.7"/><circle cx="517.90" cy="62.30" r="0.5" fill="#0000ff" fill-opacity="0.7"/><circle cx="521.75" cy="61.10" r="0.5" fill="#0000ff" fill-opacity="0.7"/><circle cx="525.61" cy="59.81" r="0.5" fill="#0000ff" fill-opacity="0.7"/><circle cx="529.46" cy="58.48" r="0.5" fill="#0000ff" fill-opacity="0.7"/><circle cx="533.31" cy="57.09" r="0.5" fill="#0000ff" fill-opacity="0.7"/><circle cx="537.16" cy="55.56" r="0.5" fill="#0000ff" fill-opacity="0.7"/><circle cx="541.02" cy="53.79" r="0.5" fill="#0000ff" fill-opacity="0.7"/><circle cx="544.87" cy="51.84" r="0.5" fill="#0000ff" fill-opacity="0.7"/><circle cx="548.72" cy="49.69" r="0.5" fill="#0000ff" fill-opacity="0.7"/><circle cx="552.57" cy="47.88" r="0.5" fill="#0000ff" fill-opacity="0.7"/><circle cx="556.42" cy="46.57" r="0.5" fill="#0000ff" fill-opacity="0.7"/><circle cx="560.28" cy="46.11" r="0.5" fill="#0000ff" fill-opacity="0.7"/><circle cx="564.13" cy="46.11" r="0.5" fill="#0000ff" fill-opacity="0.7"/><polygon points="456.20,79.40 456.89,81.05 458.67,81.20 457.31,82.36 457.73,84.10 456.20,83.17 454.67,84.10 455.09,82.36 453.73,81.20 455.51,81.05" fill="#e8821e" stroke="#e8821e" stroke-width="0.3"/><polygon points="463.90,74.00 464.59,75.65 466.37,75.80 465.01,76.96 465.43,78.70 463.90,77.77 462.37,78.70 462.79,76.96 461.43,75.80 463.21,75.65" fill="#e8821e" stroke="#e8821e" stroke-width="0.3"/><polygon points="469.70,74.00 470.39,75.65 472.17,75.80 470.81,76.96 471.23,78.70 469.70,77.77 468.17,78.70 468.59,76.96 467.23,75.80 469.01,75.65" fill="#e8821e" stroke="#e8821e" stroke-width="0.3"/><polygon points="475.00,68.70 475.69,70.35 477.47,70.50 476.11,71.66 476.53,73.40 475.00,72.47 473.47,73.40 473.89,71.66 472.53,70.50 474.31,70.35" fill="#e8821e" stroke="#e8821e" stroke-width="0.3"/><polygon points="490.00,61.20 490.69,62.85 492.47,63.00 491.11,64.16 491.53,65.90 490.00,64.97 488.47,65.90 488.89,64.16 487.53,63.00 489.31,62.85" fill="#e8821e" stroke="#e8821e" stroke-width="0.3"/><polygon points="487.00,65.20 487.69,66.85 489.47,67.00 488.11,68.16 488.53,69.90 487.00,68.97 485.47,69.90 485.89,68.16 484.53,67.00 486.31,66.85" fill="#e8821e" stroke="#e8821e" stroke-width="0.3"/><polygon points="487.00,69.70 487.69,71.35 489.47,71.50 488.11,72.66 488.53,74.40 487.00,73.47 485.47,74.40 485.89,72.66 484.53,71.50 486.31,71.35" fill="#e8821e" stroke="#e8821e" stroke-width="0.3"/><polygon points="490.00,69.10 490.69,70.75 492.47,70.90 491.11,72.06 491.53,73.80 490.00,72.87 488.47,73.80 488.89,72.06 487.53,70.90 489.31,70.75" fill="#e8821e" stroke="#e8821e" stroke-width="0.3"/><polygon points="545.70,24.50 546.39,26.15 548.17,26.30 546.81,27.46 547.23,29.20 545.70,28.27 544.17,29.20 544.59,27.46 543.23,26.30 545.01,26.15" fill="#ff00ff" stroke="#ff00ff" stroke-width="0.3"/><polygon points="538.30,34.40 538.99,36.05 540.77,36.20 539.41,37.36 539.83,39.10 538.30,38.17 536.77,39.10 537.19,37.36 535.83,36.20 537.61,36.05" fill="#ff00ff" stroke="#ff00ff" stroke-width="0.3"/><polygon points="545.20,35.60 545.89,37.25 547.67,37.40 546.31,38.56 546.73,40.30 545.20,39.37 543.67,40.30 544.09,38.56 542.73,37.40 544.51,37.25" fill="#ff00ff" stroke="#ff00ff" stroke-width="0.3"/><polygon points="535.20,39.80 535.89,41.45 537.67,41.60 536.31,42.76 536.73,44.50 535.20,43.57 533.67,44.50 534.09,42.76 532.73,41.60 534.51,41.45" fill="#ff00ff" stroke="#ff00ff" stroke-width="0.3"/><polygon points="529.90,41.90 530.59,43.55 532.37,43.70 531.01,44.86 531.43,46.60 529.90,45.67 528.37,46.60 528.79,44.86 527.43,43.70 529.21,43.55" fill="#ff00ff" stroke="#ff00ff" stroke-width="0.3"/><polygon points="542.90,41.40 543.59,43.05 545.37,43.20 544.01,44.36 544.43,46.10 542.90,45.17 541.37,46.10 541.79,44.36 540.43,43.20 542.21,43.05" fill="#ff00ff" stroke="#ff00ff" stroke-width="0.3"/><polygon points="519.00,49.50 519.69,51.15 521.47,51.30 520.11,52.46 520.53,54.20 519.00,53.27 517.47,54.20 517.89,52.46 516.53,51.30 518.31,51.15" fill="#ff00ff" stroke="#ff00ff" stroke-width="0.3"/><polygon points="536.40,49.50 537.09,51.15 538.87,51.30 537.51,52.46 537.93,54.20 536.40,53.27 534.87,54.20 535.29,52.46 533.93,51.30 535.71,51.15" fill="#ff00ff" stroke="#ff00ff" stroke-width="0.3"/><polygon points="546.10,46.00 546.79,47.65 548.57,47.80 547.21,48.96 547.63,50.70 546.10,49.77 544.57,50.70 544.99,48.96 543.63,47.80 545.41,47.65" fill="#ff00ff" stroke="#ff00ff" stroke-width="0.3"/><polygon points="550.80,44.40 551.49,46.05 553.27,46.20 551.91,47.36 552.33,49.10 550.80,48.17 549.27,49.10 549.69,47.36 548.33,46.20 550.11,46.05" fill="#ff00ff" stroke="#ff00ff" stroke-width="0.3"/><polyline points="29.63,266.29 31.10,264.60 32.57,262.96 34.04,261.33 35.50,259.72 36.97,258.19 38.44,256.66 39.90,255.19 41.37,253.78 42.84,252.36 44.30,251.07 45.77,249.82 47.24,248.61 48.71,247.37 50.17,246.28 51.64,245.15 53.11,244.10 54.57,243.04 56.04,242.03 57.51,241.01 58.97,239.83 60.44,238.77 61.91,237.69 63.37,236.69 64.84,235.61 66.31,234.66 67.78,233.74 69.24,232.56 70.71,231.75 72.18,230.72 73.64,229.74 75.11,228.84 76.58,227.96 78.04,226.98 79.51,226.34 80.98,225.67 82.45,225.38 83.91,224.90 85.38,224.88 86.85,224.91 88.31,224.69 89.78,224.60 91.25,224.46 92.71,223.92 94.18,223.53 95.65,222.60 97.11,221.69 98.58,220.62 100.05,219.79 101.52,219.06 102.98,218.68 104.45,218.55 105.92,218.33 107.38,218.10 108.85,217.78 110.32,217.33 111.78,216.83 113.25,216.40 114.72,216.26 116.19,216.20 117.65,216.55 119.12,217.06 120.59,217.51 122.05,217.38 123.52,217.26 124.99,216.32 126.45,215.46 127.92,215.16 129.39,214.55 130.85,214.46 132.32,214.44 133.79,214.46 135.26,214.67 136.72,214.43 138.19,214.78 139.66,213.29 141.12,214.19 142.59,213.47 144.06,214.29 145.52,213.35 146.99,211.73 148.46,211.30 149.93,211.48 151.39,210.80 152.86,209.26 154.33,209.67 155.79,211.70 157.26,209.86 158.73,212.32 160.19,212.87 161.66,208.97 163.13,208.58 164.59,209.92 166.06,213.04 167.53,212.00 169.00,214.60 170.46,215.68 171.93,213.61 173.40,215.16 174.86,214.52 176.33,216.90" fill="none" stroke="#000" stroke-width="0.75" stroke-opacity="1.0"/><polyline points="29.63,266.23 31.10,264.55 32.57,262.89 34.04,261.28 35.50,259.66 36.97,258.10 38.44,256.55 39.90,255.05 41.37,253.58 42.84,252.14 44.30,250.78 45.77,249.46 47.24,248.18 48.71,246.92 50.17,245.72 51.64,244.58 53.11,243.55 54.57,242.46 56.04,241.50 57.51,240.54 58.97,239.49 60.44,238.43 61.91,237.37 63.37,236.29 64.84,235.30 66.31,234.23 67.78,233.23 69.24,232.18 70.71,231.15 72.18,230.22 73.64,229.31 75.11,228.28 76.58,227.27 78.04,226.29 79.51,225.59 80.98,225.09 82.45,224.82 83.91,224.38 85.38,224.26 86.85,223.92 88.31,223.68 89.78,223.53 91.25,223.42 92.71,223.56 94.18,223.57 95.65,223.84 97.11,223.95 98.58,224.34 100.05,224.22 101.52,224.42 102.98,224.15 104.45,223.14 105.92,221.85 107.38,220.31 108.85,218.73 110.32,217.82 111.78,217.01 113.25,216.94 114.72,217.16 116.19,217.38 117.65,217.67 119.12,218.13 120.59,218.19 122.05,218.08 123.52,217.99 124.99,217.60 126.45,217.63 127.92,217.14 129.39,217.32 130.85,217.39 132.32,217.76 133.79,218.56 135.26,218.94 136.72,219.07 138.19,218.34 139.66,218.92 141.12,219.20 142.59,218.38 144.06,218.60 145.52,218.54 146.99,217.97 148.46,218.19 149.93,219.06 151.39,219.33 152.86,219.16 154.33,220.07 155.79,219.46 157.26,220.10 158.73,220.15 160.19,223.22 161.66,220.29 163.13,223.09 164.59,221.98 166.06,221.91 167.53,227.10 169.00,223.38 170.46,226.14 171.93,225.78 173.40,223.71 174.86,228.01 176.33,224.23" fill="none" stroke="#000" stroke-width="0.75" stroke-opacity="1.0"/><polyline points="29.63,265.37 31.10,263.65 32.57,261.97 34.04,260.32 35.50,258.70 36.97,257.13 38.44,255.62 39.90,254.16 41.37,252.76 42.84,251.38 44.30,250.08 45.77,248.85 47.24,247.62 48.71,246.42 50.17,245.28 51.64,244.14 53.11,243.06 54.57,241.94 56.04,240.76 57.51,239.73 58.97,238.54 60.44,237.48 61.91,236.44 63.37,235.44 64.84,234.51 66.31,233.53 67.78,232.56 69.24,231.52 70.71,230.66 72.18,229.74 73.64,228.82 75.11,227.84 76.58,227.09 78.04,226.24 79.51,225.49 80.98,224.84 82.45,224.35 83.91,224.08 85.38,223.77 86.85,223.51 88.31,223.42 89.78,223.48 91.25,223.79 92.71,224.17 94.18,224.57 95.65,225.04 97.11,225.53 98.58,225.67 100.05,225.46 101.52,224.77 102.98,224.12 104.45,223.46 105.92,222.84 107.38,222.70 108.85,222.77 110.32,222.85 111.78,222.98 113.25,222.96 114.72,223.21 116.19,222.79 117.65,222.72 119.12,222.65 120.59,222.46 122.05,222.05 123.52,221.59 124.99,220.69 126.45,219.93 127.92,219.48 129.39,218.93 130.85,218.81 132.32,218.52 133.79,218.26 135.26,217.89 136.72,217.31 138.19,215.95 139.66,216.29 141.12,216.32 142.59,216.81 144.06,216.87 145.52,218.40 146.99,217.97 148.46,218.97 149.93,218.02 151.39,219.04 152.86,218.26 154.33,218.13 155.79,218.88 157.26,219.63 158.73,220.62 160.19,220.23 161.66,218.57 163.13,220.51 164.59,219.67 166.06,218.93 167.53,220.22 169.00,220.28 170.46,217.03 171.93,216.66 173.40,215.16 174.86,216.76 176.33,214.50" fill="none" stroke="#000" stroke-width="0.75" stroke-opacity="1.0"/><polyline points="29.63,265.34 31.10,263.67 32.57,262.01 34.04,260.39 35.50,258.79 36.97,257.23 38.44,255.70 39.90,254.22 41.37,252.79 42.84,251.38 44.30,250.09 45.77,248.83 47.24,247.65 48.71,246.43 50.17,245.28 51.64,244.09 53.11,242.93 54.57,241.75 56.04,240.55 57.51,239.51 58.97,238.39 60.44,237.24 61.91,236.14 63.37,235.04 64.84,234.00 66.31,233.07 67.78,231.94 69.24,230.91 70.71,229.88 72.18,228.87 73.64,227.89 75.11,226.86 76.58,225.88 78.04,224.89 79.51,223.81 80.98,222.84 82.45,221.84 83.91,220.98 85.38,220.23 86.85,219.56 88.31,219.04 89.78,218.60 91.25,218.11 92.71,217.80 94.18,217.45 95.65,216.97 97.11,216.40 98.58,216.01 100.05,215.55 101.52,214.88 102.98,214.36 104.45,213.71 105.92,213.11 107.38,212.12 108.85,210.86 110.32,209.99 111.78,208.63 113.25,207.28 114.72,205.68 116.19,204.19 117.65,202.48 119.12,201.34 120.59,200.00 122.05,199.03 123.52,197.97 124.99,196.95 126.45,196.21 127.92,195.32 129.39,194.08 130.85,193.10 132.32,192.05 133.79,190.89 135.26,190.36 136.72,190.08 138.19,189.18 139.66,189.05 141.12,188.78 142.59,188.28 144.06,188.55 145.52,189.44 146.99,186.83 148.46,187.79 149.93,186.27 151.39,185.42 152.86,184.77 154.33,183.47 155.79,182.43 157.26,183.39 158.73,182.24 160.19,184.22 161.66,184.60 163.13,185.65 164.59,186.31 166.06,188.47 167.53,193.34 169.00,191.13 170.46,195.66 171.93,194.42 173.40,196.23 174.86,194.51 176.33,201.82" fill="none" stroke="#000" stroke-width="0.75" stroke-opacity="1.0"/><polyline points="29.63,262.52 31.10,260.84 32.57,259.18 34.04,257.56 35.50,255.96 36.97,254.38 38.44,252.85 39.90,251.35 41.37,249.89 42.84,248.49 44.30,247.15 45.77,245.88 47.24,244.70 48.71,243.51 50.17,242.41 51.64,241.23 53.11,240.16 54.57,239.08 56.04,237.98 57.51,236.93 58.97,235.86 60.44,234.83 61.91,233.76 63.37,232.75 64.84,231.72 66.31,230.65 67.78,229.65 69.24,228.60 70.71,227.69 72.18,226.75 73.64,225.89 75.11,225.14 76.58,224.44 78.04,223.72 79.51,223.28 80.98,222.65 82.45,222.22 83.91,221.71 85.38,220.92 86.85,220.24 88.31,219.89 89.78,219.37 91.25,218.77 92.71,218.55 94.18,218.15 95.65,217.95 97.11,217.64 98.58,217.10 100.05,216.92 101.52,216.54 102.98,216.36 104.45,216.28 105.92,215.94 107.38,215.19 108.85,214.49 110.32,212.94 111.78,211.03 113.25,209.00 114.72,207.09 116.19,205.78 117.65,205.22 119.12,205.41 120.59,205.99 122.05,207.11 123.52,207.61 124.99,207.94 126.45,207.92 127.92,207.48 129.39,206.56 130.85,206.24 132.32,205.79 133.79,205.94 135.26,206.36 136.72,206.90 138.19,206.49 139.66,206.61 141.12,205.48 142.59,206.08 144.06,205.96 145.52,206.99 146.99,207.56 148.46,208.72 149.93,210.44 151.39,214.52 152.86,213.96 154.33,216.45 155.79,217.76 157.26,215.03 158.73,218.05 160.19,215.29 161.66,214.03 163.13,214.68 164.59,212.66 166.06,214.58 167.53,212.22 169.00,215.22 170.46,214.82 171.93,211.22 173.40,208.60 174.86,210.18 176.33,212.17" fill="none" stroke="#000" stroke-width="0.75" stroke-opacity="1.0"/><polyline points="29.63,261.20 31.10,259.53 32.57,257.89 34.04,256.28 35.50,254.69 36.97,253.13 38.44,251.60 39.90,250.12 41.37,248.66 42.84,247.22 44.30,245.89 45.77,244.54 47.24,243.24 48.71,242.01 50.17,240.78 51.64,239.58 53.11,238.50 54.57,237.39 56.04,236.35 57.51,235.29 58.97,234.29 60.44,233.34 61.91,232.33 63.37,231.43 64.84,230.61 66.31,229.70 67.78,228.77 69.24,227.76 70.71,226.74 72.18,225.79 73.64,224.81 75.11,224.00 76.58,223.13 78.04,222.43 79.51,221.74 80.98,221.08 82.45,220.46 83.91,219.66 85.38,218.72 86.85,217.81 88.31,216.99 89.78,216.31 91.25,215.55 92.71,215.34 94.18,215.20 95.65,215.42 97.11,215.64 98.58,216.14 100.05,216.85 101.52,217.20 102.98,217.60 104.45,217.64 105.92,217.66 107.38,217.86 108.85,217.73 110.32,217.43 111.78,217.41 113.25,216.95 114.72,216.55 116.19,216.08 117.65,215.60 119.12,215.42 120.59,215.24 122.05,214.88 123.52,215.54 124.99,216.10 126.45,216.56 127.92,217.66 129.39,218.41 130.85,219.34 132.32,219.53 133.79,219.34 135.26,218.66 136.72,217.78 138.19,216.97 139.66,216.36 141.12,214.80 142.59,215.10 144.06,216.38 145.52,216.70 146.99,216.01 148.46,216.59 149.93,216.85 151.39,217.05 152.86,217.24 154.33,218.43 155.79,218.27 157.26,213.96 158.73,215.46 160.19,213.01 161.66,213.09 163.13,213.64 164.59,213.13 166.06,212.75 167.53,213.07 169.00,212.56 170.46,209.31 171.93,208.63 173.40,206.69 174.86,211.73 176.33,218.04" fill="none" stroke="#000" stroke-width="0.75" stroke-opacity="1.0"/><polyline points="29.63,259.71 31.10,258.04 32.57,256.40 34.04,254.78 35.50,253.22 36.97,251.70 38.44,250.23 39.90,248.79 41.37,247.36 42.84,246.01 44.30,244.65 45.77,243.33 47.24,242.03 48.71,240.80 50.17,239.68 51.64,238.53 53.11,237.45 54.57,236.32 56.04,235.31 57.51,234.25 58.97,233.20 60.44,232.00 61.91,231.00 63.37,229.77 64.84,228.61 66.31,227.55 67.78,226.41 69.24,225.41 70.71,224.28 72.18,223.45 73.64,222.57 75.11,221.52 76.58,220.65 78.04,219.90 79.51,219.20 80.98,218.58 82.45,218.05 83.91,217.73 85.38,217.30 86.85,217.36 88.31,217.30 89.78,217.24 91.25,217.01 92.71,216.76 94.18,216.56 95.65,216.25 97.11,215.73 98.58,215.15 100.05,214.22 101.52,212.91 102.98,211.30 104.45,209.39 105.92,207.35 107.38,205.42 108.85,203.94 110.32,202.81 111.78,202.00 113.25,201.19 114.72,200.80 116.19,200.61 117.65,199.79 119.12,198.65 120.59,197.51 122.05,196.08 123.52,194.83 124.99,193.75 126.45,193.22 127.92,193.28 129.39,193.31 130.85,193.52 132.32,193.66 133.79,193.62 135.26,193.42 136.72,192.98 138.19,192.38 139.66,192.12 141.12,191.41 142.59,190.79 144.06,189.97 145.52,189.99 146.99,189.02 148.46,189.90 149.93,189.26 151.39,190.46 152.86,189.51 154.33,190.21 155.79,190.75 157.26,190.29 158.73,189.76 160.19,193.75 161.66,193.65 163.13,195.96 164.59,196.53 166.06,194.01 167.53,195.80 169.00,196.35 170.46,199.98 171.93,194.58 173.40,191.75 174.86,195.69 176.33,193.30" fill="none" stroke="#000" stroke-width="0.75" stroke-opacity="1.0"/><polyline points="29.63,257.24 31.10,255.58 32.57,253.96 34.04,252.38 35.50,250.82 36.97,249.31 38.44,247.86 39.90,246.41 41.37,245.02 42.84,243.62 44.30,242.28 45.77,241.00 47.24,239.70 48.71,238.47 50.17,237.18 51.64,235.97 53.11,234.79 54.57,233.54 56.04,232.43 57.51,231.19 58.97,230.05 60.44,229.13 61.91,228.17 63.37,227.28 64.84,226.42 66.31,225.67 67.78,224.77 69.24,223.84 70.71,222.85 72.18,221.99 73.64,221.06 75.11,220.18 76.58,219.22 78.04,218.47 79.51,217.74 80.98,217.23 82.45,216.78 83.91,216.64 85.38,216.39 86.85,216.43 88.31,216.10 89.78,216.23 91.25,216.18 92.71,216.02 94.18,216.01 95.65,215.68 97.11,215.49 98.58,214.76 100.05,213.76 101.52,212.39 102.98,210.90 104.45,209.39 105.92,208.10 107.38,207.28 108.85,207.06 110.32,207.13 111.78,207.38 113.25,207.44 114.72,207.50 116.19,207.37 117.65,207.37 119.12,207.32 120.59,207.62 122.05,207.79 123.52,207.90 124.99,207.90 126.45,207.49 127.92,207.03 129.39,206.43 130.85,205.77 132.32,205.01 133.79,204.71 135.26,204.83 136.72,205.08 138.19,205.86 139.66,205.51 141.12,206.04 142.59,206.98 144.06,205.71 145.52,205.19 146.99,204.37 148.46,202.93 149.93,202.51 151.39,202.43 152.86,203.65 154.33,203.72 155.79,205.65 157.26,205.43 158.73,206.88 160.19,207.59 161.66,206.95 163.13,208.23 164.59,211.47 166.06,206.30 167.53,210.07 169.00,207.18 170.46,207.91 171.93,203.43 173.40,203.34 174.86,204.54 176.33,204.45" fill="none" stroke="#000" stroke-width="0.75" stroke-opacity="1.0"/><polyline points="29.63,255.23 31.10,253.56 32.57,251.92 34.04,250.33 35.50,248.76 36.97,247.24 38.44,245.72 39.90,244.24 41.37,242.80 42.84,241.39 44.30,240.03 45.77,238.78 47.24,237.51 48.71,236.33 50.17,235.09 51.64,233.93 53.11,232.76 54.57,231.61 56.04,230.49 57.51,229.40 58.97,228.33 60.44,227.21 61.91,226.19 63.37,225.15 64.84,224.28 66.31,223.45 67.78,222.59 69.24,221.74 70.71,221.01 72.18,220.22 73.64,219.43 75.11,218.68 76.58,217.86 78.04,217.39 79.51,217.04 80.98,217.03 82.45,217.09 83.91,217.18 85.38,217.22 86.85,217.22 88.31,217.04 89.78,216.81 91.25,216.49 92.71,216.05 94.18,215.70 95.65,215.40 97.11,215.29 98.58,215.30 100.05,215.66 101.52,216.32 102.98,216.78 104.45,217.62 105.92,218.49 107.38,219.37 108.85,219.96 110.32,220.65 111.78,221.20 113.25,221.69 114.72,222.03 116.19,222.35 117.65,222.27 119.12,222.11 120.59,222.09 122.05,222.04 123.52,222.16 124.99,222.14 126.45,222.15 127.92,222.19 129.39,222.02 130.85,222.21 132.32,222.93 133.79,223.43 135.26,224.70 136.72,225.33 138.19,226.96 139.66,228.23 141.12,227.29 142.59,227.48 144.06,226.10 145.52,224.51 146.99,222.79 148.46,222.11 149.93,220.32 151.39,220.47 152.86,221.23 154.33,221.53 155.79,221.81 157.26,224.59 158.73,229.98 160.19,226.90 161.66,227.90 163.13,227.77 164.59,229.74 166.06,228.46 167.53,228.82 169.00,227.35 170.46,227.82 171.93,232.84 173.40,234.32 174.86,231.97 176.33,233.63" fill="none" stroke="#000" stroke-width="0.75" stroke-opacity="1.0"/><polyline points="29.63,254.58 31.10,252.90 32.57,251.27 34.04,249.66 35.50,248.10 36.97,246.57 38.44,245.10 39.90,243.66 41.37,242.28 42.84,240.93 44.30,239.61 45.77,238.39 47.24,237.12 48.71,235.92 50.17,234.73 51.64,233.54 53.11,232.38 54.57,231.25 56.04,230.23 57.51,229.15 58.97,228.12 60.44,227.10 61.91,226.12 63.37,225.11 64.84,224.05 66.31,223.15 67.78,222.17 69.24,221.18 70.71,220.18 72.18,219.35 73.64,218.47 75.11,217.54 76.58,216.84 78.04,216.08 79.51,215.30 80.98,214.64 82.45,214.01 83.91,213.40 85.38,212.73 86.85,212.19 88.31,211.61 89.78,211.09 91.25,210.65 92.71,210.08 94.18,209.47 95.65,208.86 97.11,208.04 98.58,207.02 100.05,206.07 101.52,205.00 102.98,204.24 104.45,203.64 105.92,203.00 107.38,202.40 108.85,201.42 110.32,200.46 111.78,199.55 113.25,198.57 114.72,197.85 116.19,197.10 117.65,196.00 119.12,194.89 120.59,193.56 122.05,192.03 123.52,190.54 124.99,189.47 126.45,188.98 127.92,188.82 129.39,188.68 130.85,188.84 132.32,188.97 133.79,189.36 135.26,189.21 136.72,189.15 138.19,189.15 139.66,187.87 141.12,187.87 142.59,189.22 144.06,189.35 145.52,189.82 146.99,190.44 148.46,189.64 149.93,188.56 151.39,188.27 152.86,187.26 154.33,187.92 155.79,188.15 157.26,188.00 158.73,188.08 160.19,190.59 161.66,187.92 163.13,188.56 164.59,188.25 166.06,189.18 167.53,189.65 169.00,190.06 170.46,185.17 171.93,185.94 173.40,187.95 174.86,186.39 176.33,189.40" fill="none" stroke="#000" stroke-width="0.75" stroke-opacity="1.0"/><polyline points="29.63,252.37 31.10,250.73 32.57,249.10 34.04,247.51 35.50,245.94 36.97,244.40 38.44,242.90 39.90,241.44 41.37,240.03 42.84,238.65 44.30,237.31 45.77,235.96 47.24,234.72 48.71,233.41 50.17,232.14 51.64,230.99 53.11,229.78 54.57,228.63 56.04,227.54 57.51,226.46 58.97,225.42 60.44,224.49 61.91,223.49 63.37,222.55 64.84,221.78 66.31,220.97 67.78,220.17 69.24,219.47 70.71,218.69 72.18,218.06 73.64,217.33 75.11,216.86 76.58,216.54 78.04,216.29 79.51,216.14 80.98,216.02 82.45,215.84 83.91,215.54 85.38,214.91 86.85,214.28 88.31,213.59 89.78,213.18 91.25,212.78 92.71,212.60 94.18,212.46 95.65,212.41 97.11,212.21 98.58,211.66 100.05,211.18 101.52,210.59 102.98,210.16 104.45,209.73 105.92,209.70 107.38,209.44 108.85,209.48 110.32,209.19 111.78,209.06 113.25,208.89 114.72,208.68 116.19,208.38 117.65,207.57 119.12,207.34 120.59,206.53 122.05,205.92 123.52,205.29 124.99,205.24 126.45,204.79 127.92,204.62 129.39,204.53 130.85,203.96 132.32,203.67 133.79,203.40 135.26,203.82 136.72,204.05 138.19,204.80 139.66,206.10 141.12,207.09 142.59,209.12 144.06,210.48 145.52,209.96 146.99,211.19 148.46,209.51 149.93,208.84 151.39,209.00 152.86,207.78 154.33,205.12 155.79,205.92 157.26,205.34 158.73,206.57 160.19,206.76 161.66,208.08 163.13,206.91 164.59,206.15 166.06,202.25 167.53,204.56 169.00,206.13 170.46,205.71 171.93,201.98 173.40,203.54 174.86,200.82 176.33,199.97" fill="none" stroke="#000" stroke-width="0.75" stroke-opacity="1.0"/><polyline points="29.63,249.83 31.10,248.18 32.57,246.56 34.04,244.98 35.50,243.40 36.97,241.88 38.44,240.38 39.90,238.91 41.37,237.51 42.84,236.13 44.30,234.72 45.77,233.44 47.24,232.14 48.71,230.88 50.17,229.70 51.64,228.53 53.11,227.37 54.57,226.32 56.04,225.23 57.51,224.17 58.97,223.12 60.44,222.12 61.91,221.20 63.37,220.38 64.84,219.49 66.31,218.73 67.78,217.86 69.24,217.07 70.71,216.33 72.18,215.70 73.64,214.96 75.11,214.43 76.58,214.03 78.04,213.62 79.51,213.34 80.98,213.08 82.45,212.63 83.91,212.30 85.38,211.74 86.85,211.26 88.31,210.67 89.78,210.05 91.25,209.63 92.71,209.59 94.18,209.43 95.65,209.33 97.11,209.64 98.58,209.56 100.05,209.60 101.52,209.49 102.98,209.34 104.45,209.21 105.92,209.47 107.38,209.30 108.85,209.30 110.32,209.31 111.78,208.87 113.25,208.22 114.72,207.55 116.19,206.79 117.65,205.93 119.12,205.38 120.59,205.02 122.05,204.81 123.52,205.28 124.99,206.27 126.45,206.97 127.92,207.82 129.39,208.27 130.85,208.16 132.32,207.47 133.79,206.54 135.26,205.82 136.72,204.45 138.19,205.85 139.66,206.83 141.12,208.86 142.59,210.48 144.06,210.49 145.52,211.90 146.99,215.11 148.46,214.59 149.93,215.47 151.39,214.82 152.86,215.62 154.33,216.39 155.79,216.89 157.26,215.30 158.73,213.16 160.19,216.14 161.66,214.97 163.13,214.28 164.59,215.59 166.06,217.21 167.53,221.13 169.00,218.10 170.46,219.32 171.93,220.86 173.40,216.71 174.86,219.24 176.33,218.48" fill="none" stroke="#000" stroke-width="0.75" stroke-opacity="1.0"/><polyline points="29.63,246.39 31.10,244.75 32.57,243.13 34.04,241.55 35.50,240.01 36.97,238.50 38.44,237.01 39.90,235.58 41.37,234.21 42.84,232.86 44.30,231.54 45.77,230.21 47.24,228.96 48.71,227.69 50.17,226.46 51.64,225.26 53.11,224.06 54.57,222.90 56.04,221.76 57.51,220.64 58.97,219.65 60.44,218.57 61.91,217.66 63.37,216.77 64.84,215.95 66.31,215.08 67.78,214.43 69.24,213.59 70.71,212.89 72.18,212.16 73.64,211.57 75.11,210.92 76.58,210.27 78.04,209.73 79.51,209.39 80.98,208.88 82.45,208.40 83.91,208.26 85.38,208.00 86.85,207.89 88.31,207.62 89.78,207.39 91.25,207.32 92.71,206.80 94.18,206.35 95.65,205.38 97.11,204.77 98.58,203.98 100.05,203.28 101.52,202.50 102.98,202.20 104.45,201.85 105.92,201.52 107.38,201.12 108.85,200.72 110.32,200.49 111.78,200.20 113.25,199.93 114.72,199.73 116.19,199.76 117.65,199.83 119.12,199.84 120.59,199.68 122.05,199.63 123.52,199.46 124.99,199.07 126.45,198.93 127.92,198.58 129.39,198.21 130.85,197.57 132.32,196.45 133.79,194.89 135.26,193.06 136.72,190.69 138.19,189.29 139.66,188.40 141.12,188.04 142.59,189.51 144.06,190.26 145.52,190.39 146.99,192.14 148.46,192.91 149.93,192.22 151.39,192.72 152.86,194.67 154.33,194.00 155.79,196.60 157.26,197.49 158.73,195.52 160.19,196.00 161.66,194.15 163.13,196.75 164.59,194.69 166.06,195.35 167.53,197.45 169.00,192.91 170.46,197.82 171.93,194.73 173.40,194.74 174.86,193.51 176.33,188.89" fill="none" stroke="#000" stroke-width="0.75" stroke-opacity="1.0"/><polyline points="29.63,244.18 31.10,242.55 32.57,240.95 34.04,239.37 35.50,237.82 36.97,236.33 38.44,234.85 39.90,233.44 41.37,232.05 42.84,230.72 44.30,229.43 45.77,228.15 47.24,226.95 48.71,225.71 50.17,224.54 51.64,223.31 53.11,222.13 54.57,220.99 56.04,219.86 57.51,218.72 58.97,217.67 60.44,216.65 61.91,215.73 63.37,214.72 64.84,213.96 66.31,213.02 67.78,212.26 69.24,211.46 70.71,210.56 72.18,209.85 73.64,209.12 75.11,208.46 76.58,207.60 78.04,206.96 79.51,206.27 80.98,205.65 82.45,205.24 83.91,204.77 85.38,204.60 86.85,204.41 88.31,204.48 89.78,204.40 91.25,204.53 92.71,204.57 94.18,204.62 95.65,205.03 97.11,205.07 98.58,205.18 100.05,205.18 101.52,205.31 102.98,205.27 104.45,204.98 105.92,204.94 107.38,204.37 108.85,203.80 110.32,203.30 111.78,202.79 113.25,202.61 114.72,202.90 116.19,203.13 117.65,203.43 119.12,203.24 120.59,203.05 122.05,202.48 123.52,201.94 124.99,201.53 126.45,201.17 127.92,200.62 129.39,200.75 130.85,200.42 132.32,200.32 133.79,200.03 135.26,199.87 136.72,199.54 138.19,199.59 139.66,199.80 141.12,199.60 142.59,199.49 144.06,198.92 145.52,200.11 146.99,200.63 148.46,200.68 149.93,198.73 151.39,199.27 152.86,200.27 154.33,202.06 155.79,198.71 157.26,198.16 158.73,199.45 160.19,199.57 161.66,197.55 163.13,198.42 164.59,197.67 166.06,196.41 167.53,199.16 169.00,198.50 170.46,196.34 171.93,194.48 173.40,196.22 174.86,201.38 176.33,204.12" fill="none" stroke="#000" stroke-width="0.75" stroke-opacity="1.0"/><polyline points="29.63,243.80 31.10,242.16 32.57,240.56 34.04,238.98 35.50,237.44 36.97,235.93 38.44,234.48 39.90,233.05 41.37,231.64 42.84,230.27 44.30,228.96 45.77,227.62 47.24,226.34 48.71,225.02 50.17,223.75 51.64,222.47 53.11,221.25 54.57,220.10 56.04,218.96 57.51,217.95 58.97,216.88 60.44,216.02 61.91,215.17 63.37,214.22 64.84,213.46 66.31,212.78 67.78,212.06 69.24,211.37 70.71,210.60 72.18,210.15 73.64,209.34 75.11,208.82 76.58,208.22 78.04,207.62 79.51,207.01 80.98,206.53 82.45,205.84 83.91,205.31 85.38,204.86 86.85,204.36 88.31,203.90 89.78,203.54 91.25,203.40 92.71,203.54 94.18,203.83 95.65,204.29 97.11,204.91 98.58,205.43 100.05,205.61 101.52,205.47 102.98,205.22 104.45,204.54 105.92,203.77 107.38,202.61 108.85,201.76 110.32,200.82 111.78,200.31 113.25,200.06 114.72,200.08 116.19,200.01 117.65,199.96 119.12,200.13 120.59,200.23 122.05,200.32 123.52,200.77 124.99,200.93 126.45,201.42 127.92,201.53 129.39,201.66 130.85,201.15 132.32,200.38 133.79,199.00 135.26,199.00 136.72,199.14 138.19,198.65 139.66,199.96 141.12,200.61 142.59,201.54 144.06,203.06 145.52,204.09 146.99,206.56 148.46,205.77 149.93,206.73 151.39,208.06 152.86,208.32 154.33,207.94 155.79,209.05 157.26,208.96 158.73,208.21 160.19,209.71 161.66,207.86 163.13,207.23 164.59,208.72 166.06,208.15 167.53,205.19 169.00,208.96 170.46,209.19 171.93,207.59 173.40,208.09 174.86,208.58 176.33,207.15" fill="none" stroke="#000" stroke-width="0.75" stroke-opacity="1.0"/><polyline points="29.63,241.16 31.10,239.54 32.57,237.96 34.04,236.38 35.50,234.84 36.97,233.35 38.44,231.86 39.90,230.44 41.37,229.09 42.84,227.75 44.30,226.40 45.77,225.12 47.24,223.88 48.71,222.60 50.17,221.33 51.64,220.09 53.11,218.87 54.57,217.63 56.04,216.50 57.51,215.41 58.97,214.32 60.44,213.48 61.91,212.52 63.37,211.70 64.84,210.98 66.31,210.26 67.78,209.46 69.24,208.73 70.71,208.03 72.18,207.30 73.64,206.62 75.11,205.92 76.58,205.33 78.04,204.77 79.51,204.40 80.98,204.08 82.45,203.94 83.91,204.07 85.38,204.24 86.85,204.23 88.31,204.19 89.78,204.08 91.25,203.86 92.71,203.67 94.18,203.36 95.65,203.15 97.11,202.92 98.58,202.51 100.05,201.70 101.52,200.72 102.98,199.50 104.45,198.11 105.92,196.86 107.38,196.09 108.85,195.95 110.32,196.43 111.78,197.46 113.25,198.70 114.72,200.15 116.19,201.72 117.65,202.39 119.12,203.09 120.59,202.80 122.05,202.53 123.52,201.86 124.99,201.05 126.45,200.27 127.92,199.64 129.39,198.88 130.85,198.55 132.32,198.28 133.79,197.95 135.26,198.32 136.72,198.25 138.19,198.29 139.66,197.92 141.12,198.52 142.59,199.89 144.06,198.71 145.52,198.97 146.99,198.40 148.46,199.57 149.93,198.81 151.39,200.44 152.86,200.17 154.33,200.70 155.79,203.15 157.26,202.99 158.73,205.70 160.19,206.93 161.66,207.43 163.13,205.43 164.59,206.26 166.06,205.81 167.53,202.01 169.00,202.31 170.46,204.03 171.93,206.72 173.40,208.92 174.86,204.15 176.33,209.73" fill="none" stroke="#000" stroke-width="0.75" stroke-opacity="1.0"/><polyline points="29.63,276.99 31.10,274.99 32.57,273.05 34.04,271.15 35.50,269.30 36.97,267.48 38.44,265.70 39.90,263.97 41.37,262.28 42.84,260.63 44.30,259.00 45.77,257.50 47.24,255.99 48.71,254.55 50.17,253.11 51.64,251.74 53.11,250.38 54.57,249.06 56.04,247.63 57.51,246.47 58.97,245.21 60.44,243.98 61.91,242.82 63.37,241.76 64.84,240.53 66.31,239.57 67.78,238.55 69.24,237.59 70.71,236.82 72.18,236.06 73.64,235.37 75.11,234.66 76.58,234.05 78.04,233.25 79.51,232.82 80.98,232.33 82.45,231.98 83.91,231.71 85.38,231.27 86.85,230.72 88.31,230.22 89.78,229.88 91.25,229.82 92.71,230.18 94.18,230.39 95.65,230.64 97.11,230.57 98.58,230.32 100.05,230.09 101.52,229.77 102.98,229.72 104.45,230.13 105.92,230.52 107.38,231.02 108.85,231.16 110.32,231.28 111.78,230.99 113.25,230.60 114.72,230.14 116.19,229.31 117.65,228.37 119.12,227.98 120.59,227.18 122.05,226.81 123.52,225.93 124.99,225.86 126.45,225.38 127.92,225.22 129.39,224.82 130.85,224.59 132.32,223.91 133.79,223.16 135.26,222.02 136.72,220.80 138.19,220.24 139.66,218.68 141.12,218.17 142.59,217.64 144.06,216.90 145.52,216.73 146.99,218.93 148.46,219.11 149.93,219.99 151.39,221.63 152.86,223.54 154.33,225.92 155.79,226.86 157.26,227.88 158.73,228.09 160.19,225.80 161.66,224.19 163.13,223.74 164.59,221.99 166.06,224.64 167.53,223.22 169.00,227.29 170.46,222.04 171.93,223.38 173.40,222.54 174.86,223.91 176.33,227.71" fill="none" stroke="#000" stroke-width="0.75" stroke-opacity="1.0"/><polyline points="29.63,211.38 31.10,211.11 32.57,210.83 34.04,210.53 35.50,210.22 36.97,209.90 38.44,209.57 39.90,209.24 41.37,208.89 42.84,208.53 44.30,208.15 45.77,207.75 47.24,207.32 48.71,206.88 50.17,206.43 51.64,205.98 53.11,205.55 54.57,205.12 56.04,204.73 57.51,204.36 58.97,204.01 60.44,203.67 61.91,203.35 63.37,203.04 64.84,202.73 66.31,202.42 67.78,202.11 69.24,201.79 70.71,201.46 72.18,201.11 73.64,200.75 75.11,200.36 76.58,199.97 78.04,199.57 79.51,199.19 80.98,198.83 82.45,198.50 83.91,198.18 85.38,197.87 86.85,197.57 88.31,197.28 89.78,196.99 91.25,196.71 92.71,196.43 94.18,196.14 95.65,195.85 97.11,195.56 98.58,195.26 100.05,194.94 101.52,194.61 102.98,194.27 104.45,193.92 105.92,193.57 107.38,193.21 108.85,192.86 110.32,192.50 111.78,192.14 113.25,191.77 114.72,191.39 116.19,191.00 117.65,190.61 119.12,190.19 120.59,189.77 122.05,189.33 123.52,188.88 124.99,188.40 126.45,187.91 127.92,187.39 129.39,186.86 130.85,186.30 132.32,185.71 133.79,185.04 135.26,184.26 136.72,183.39 138.19,182.47 139.66,181.53 141.12,180.59 142.59,179.69 144.06,178.86 145.52,178.07 146.99,177.28 148.46,176.51 149.93,175.79 151.39,175.15 152.86,174.59 154.33,174.02 155.79,173.51 157.26,173.20 158.73,173.29 160.19,174.25 161.66,175.85 163.13,177.76 164.59,179.65 166.06,181.18 167.53,182.16 169.00,183.04 170.46,183.72 171.93,184.00 173.40,183.29 174.86,181.44 176.33,178.86" fill="none" stroke="#000" stroke-width="0.75" stroke-opacity="1.0"/><polyline points="29.63,216.52 31.10,215.96 32.57,215.40 34.04,214.84 35.50,214.26 36.97,213.73 38.44,213.14 39.90,212.55 41.37,212.00 42.84,211.43 44.30,210.89 45.77,210.34 47.24,209.80 48.71,209.26 50.17,208.76 51.64,208.22 53.11,207.77 54.57,207.23 56.04,206.66 57.51,206.10 58.97,205.50 60.44,204.86 61.91,204.31 63.37,203.73 64.84,203.19 66.31,202.61 67.78,202.23 69.24,201.88 70.71,201.28 72.18,200.89 73.64,200.41 75.11,199.89 76.58,199.24 78.04,198.77 79.51,198.21 80.98,197.75 82.45,197.28 83.91,196.91 85.38,196.56 86.85,196.19 88.31,196.02 89.78,195.86 91.25,195.61 92.71,195.05 94.18,194.55 95.65,194.03 97.11,193.39 98.58,192.98 100.05,192.50 101.52,192.18 102.98,192.40 104.45,192.71 105.92,192.79 107.38,192.92 108.85,192.57 110.32,191.81 111.78,191.08 113.25,190.50 114.72,190.16 116.19,190.40 117.65,190.81 119.12,191.76 120.59,192.57 122.05,192.91 123.52,192.73 124.99,191.90 126.45,190.37 127.92,188.86 129.39,187.59 130.85,187.11 132.32,187.73 133.79,188.11 135.26,188.41 136.72,188.18 138.19,189.34 139.66,189.39 141.12,189.86 142.59,191.01 144.06,192.75 145.52,192.35 146.99,192.51 148.46,192.17 149.93,193.55 151.39,193.27 152.86,191.18 154.33,193.62 155.79,192.99 157.26,191.02 158.73,191.13 160.19,188.64 161.66,187.21 163.13,189.77 164.59,191.15 166.06,190.95 167.53,191.96 169.00,193.31 170.46,191.41 171.93,192.51 173.40,193.75 174.86,194.09 176.33,193.73" fill="none" stroke="#000" stroke-width="0.75" stroke-opacity="1.0"/><polyline points="29.63,245.62 31.10,244.44 32.57,243.28 34.04,242.12 35.50,240.96 36.97,239.82 38.44,238.68 39.90,237.55 41.37,236.43 42.84,235.31 44.30,234.21 45.77,233.09 47.24,231.96 48.71,230.83 50.17,229.70 51.64,228.57 53.11,227.47 54.57,226.39 56.04,225.35 57.51,224.36 58.97,223.42 60.44,222.54 61.91,221.69 63.37,220.87 64.84,220.08 66.31,219.31 67.78,218.56 69.24,217.83 70.71,217.12 72.18,216.42 73.64,215.75 75.11,215.08 76.58,214.43 78.04,213.78 79.51,213.15 80.98,212.53 82.45,211.89 83.91,211.28 85.38,210.71 86.85,210.24 88.31,209.84 89.78,209.46 91.25,209.09 92.71,208.73 94.18,208.39 95.65,208.06 97.11,207.75 98.58,207.44 100.05,207.15 101.52,206.86 102.98,206.59 104.45,206.33 105.92,206.07 107.38,205.82 108.85,205.58 110.32,205.35 111.78,205.12 113.25,204.90 114.72,204.69 116.19,204.48 117.65,204.27 119.12,204.07 120.59,203.87 122.05,203.66 123.52,203.45 124.99,203.68 126.45,203.30 127.92,202.66 129.39,202.15 130.85,202.05 132.32,202.27 133.79,202.42 135.26,202.20 136.72,201.65 138.19,201.12 139.66,200.98 141.12,201.24 142.59,201.56 144.06,201.58 145.52,201.23 146.99,200.80 148.46,200.67 149.93,200.95 151.39,201.40 152.86,201.62 154.33,201.42 155.79,201.02 157.26,200.81 158.73,201.03 160.19,201.52 161.66,201.89 163.13,201.86 164.59,201.53 166.06,201.30 167.53,201.46 169.00,201.98 170.46,202.50 171.93,202.67 173.40,202.48 174.86,202.26 176.33,202.39" fill="none" stroke="#ff1a1a" stroke-width="1.0" stroke-opacity="1"/><rect x="85.25" y="208.64" width="3.2" height="3.2" fill="#f5b800"/><rect x="144.26" y="199.11" width="4" height="4" fill="#b000d0"/><polyline points="235.32,278.40 237.45,275.30 239.58,272.31 241.72,269.57 243.85,267.07 245.98,264.64 248.11,262.52 250.24,260.28 252.37,258.17 254.50,256.41 256.63,254.60 258.77,252.91 260.90,251.41 263.03,250.16 265.16,248.82 267.29,247.65 269.42,246.19 271.55,245.22 273.68,243.77 275.82,242.60 277.95,241.55 280.08,240.14 282.21,238.83 284.34,238.39 286.47,237.35 288.60,236.16 290.73,235.94 292.87,235.04 295.00,234.45 297.13,233.75 299.26,233.22 301.39,232.20 303.52,232.12 305.65,231.23 307.78,230.67 309.92,230.35 312.05,230.20 314.18,229.46 316.31,229.33 318.44,230.02 320.57,229.34 322.70,229.93 324.83,229.68 326.97,229.85 329.10,230.49 331.23,230.50 333.36,230.14 335.49,229.05 337.62,229.83 339.75,228.94 341.88,229.18 344.02,229.05 346.15,226.71 348.28,230.27 350.41,226.69 352.54,227.00 354.67,224.43 356.80,227.22 358.93,231.11 361.07,225.45 363.20,226.45 365.33,223.67 367.46,232.64 369.59,231.50 371.72,233.29 373.85,226.66 375.98,225.58 378.12,238.00 380.25,228.13 382.38,231.02" fill="none" stroke="#000" stroke-width="0.75" stroke-opacity="1.0"/><polyline points="235.32,276.60 237.45,273.60 239.58,270.73 241.72,267.95 243.85,265.38 245.98,262.98 248.11,260.74 250.24,258.49 252.37,256.48 254.50,254.56 256.63,252.78 258.77,251.04 260.90,249.44 263.03,248.03 265.16,246.93 267.29,245.00 269.42,244.18 271.55,243.16 273.68,241.61 275.82,240.42 277.95,239.02 280.08,237.72 282.21,236.70 284.34,234.87 286.47,233.70 288.60,232.55 290.73,230.96 292.87,230.15 295.00,229.52 297.13,228.10 299.26,227.71 301.39,227.11 303.52,226.15 305.65,225.99 307.78,224.83 309.92,224.44 312.05,223.65 314.18,222.93 316.31,222.22 318.44,221.47 320.57,221.93 322.70,221.02 324.83,221.25 326.97,221.22 329.10,220.35 331.23,220.93 333.36,220.02 335.49,220.16 337.62,218.83 339.75,218.05 341.88,217.21 344.02,217.63 346.15,216.41 348.28,215.52 350.41,215.93 352.54,214.69 354.67,214.34 356.80,210.56 358.93,210.79 361.07,211.36 363.20,209.53 365.33,211.86 367.46,217.27 369.59,208.26 371.72,206.71 373.85,213.15 375.98,209.86 378.12,217.56 380.25,218.79 382.38,210.45" fill="none" stroke="#000" stroke-width="0.75" stroke-opacity="1.0"/><polyline points="235.32,273.96 237.45,271.13 239.58,268.35 241.72,265.87 243.85,263.57 245.98,261.51 248.11,259.46 250.24,257.70 252.37,255.70 254.50,254.13 256.63,252.32 258.77,251.01 260.90,249.93 263.03,248.43 265.16,247.36 267.29,246.04 269.42,245.47 271.55,244.39 273.68,243.82 275.82,242.71 277.95,241.64 280.08,240.54 282.21,239.33 284.34,238.51 286.47,237.63 288.60,236.14 290.73,235.18 292.87,234.13 295.00,232.07 297.13,231.34 299.26,229.92 301.39,229.17 303.52,228.30 305.65,227.42 307.78,227.39 309.92,226.70 312.05,227.36 314.18,227.78 316.31,227.83 318.44,228.94 320.57,230.04 322.70,231.05 324.83,233.09 326.97,234.30 329.10,235.63 331.23,235.28 333.36,236.33 335.49,236.26 337.62,236.62 339.75,236.77 341.88,235.24 344.02,235.31 346.15,235.49 348.28,237.16 350.41,234.46 352.54,235.74 354.67,233.69 356.80,231.08 358.93,234.36 361.07,228.78 363.20,235.48 365.33,233.93 367.46,233.20 369.59,234.58 371.72,232.52 373.85,238.68 375.98,231.04 378.12,234.35 380.25,238.62 382.38,229.90" fill="none" stroke="#000" stroke-width="0.75" stroke-opacity="1.0"/><polyline points="235.32,273.57 237.45,270.73 239.58,268.02 241.72,265.44 243.85,263.09 245.98,260.92 248.11,258.92 250.24,256.96 252.37,255.03 254.50,253.28 256.63,251.73 258.77,250.24 260.90,248.74 263.03,247.85 265.16,246.32 267.29,245.20 269.42,243.99 271.55,243.06 273.68,242.16 275.82,240.85 277.95,239.89 280.08,238.61 282.21,238.26 284.34,237.23 286.47,236.12 288.60,235.40 290.73,234.54 292.87,233.69 295.00,232.64 297.13,231.02 299.26,230.65 301.39,229.23 303.52,228.27 305.65,227.41 307.78,227.43 309.92,225.85 312.05,225.55 314.18,224.60 316.31,223.73 318.44,223.49 320.57,222.74 322.70,222.94 324.83,222.94 326.97,223.21 329.10,223.42 331.23,222.79 333.36,223.43 335.49,223.39 337.62,223.74 339.75,223.86 341.88,225.38 344.02,224.59 346.15,225.33 348.28,225.08 350.41,224.19 352.54,226.02 354.67,223.82 356.80,228.30 358.93,225.15 361.07,223.89 363.20,227.19 365.33,232.95 367.46,224.55 369.59,226.83 371.72,223.49 373.85,230.86 375.98,227.10 378.12,230.26 380.25,222.31 382.38,218.96" fill="none" stroke="#000" stroke-width="0.75" stroke-opacity="1.0"/><polyline points="235.32,270.54 237.45,267.67 239.58,264.90 241.72,262.33 243.85,259.88 245.98,257.83 248.11,255.59 250.24,253.80 252.37,251.50 254.50,249.99 256.63,248.30 258.77,246.66 260.90,244.89 263.03,243.91 265.16,242.69 267.29,241.24 269.42,239.82 271.55,238.58 273.68,237.26 275.82,235.81 277.95,234.33 280.08,233.02 282.21,231.51 284.34,230.19 286.47,229.52 288.60,228.34 290.73,226.71 292.87,226.24 295.00,225.91 297.13,225.18 299.26,224.24 301.39,224.29 303.52,224.61 305.65,224.95 307.78,225.11 309.92,224.81 312.05,224.61 314.18,223.52 316.31,223.10 318.44,222.88 320.57,221.97 322.70,221.17 324.83,220.11 326.97,219.01 329.10,218.59 331.23,218.04 333.36,218.33 335.49,218.41 337.62,219.28 339.75,219.35 341.88,219.75 344.02,222.41 346.15,224.23 348.28,223.61 350.41,221.61 352.54,225.23 354.67,229.22 356.80,233.26 358.93,228.99 361.07,235.24 363.20,233.85 365.33,235.03 367.46,234.83 369.59,228.76 371.72,237.71 373.85,243.43 375.98,238.54 378.12,234.26 380.25,233.77 382.38,235.62" fill="none" stroke="#000" stroke-width="0.75" stroke-opacity="1.0"/><polyline points="235.32,270.04 237.45,267.28 239.58,264.63 241.72,262.08 243.85,259.78 245.98,257.68 248.11,255.75 250.24,253.74 252.37,251.74 254.50,249.96 256.63,248.50 258.77,246.99 260.90,245.49 263.03,244.77 265.16,244.01 267.29,243.16 269.42,242.17 271.55,241.52 273.68,240.89 275.82,240.09 277.95,239.82 280.08,238.62 282.21,238.30 284.34,237.93 286.47,236.84 288.60,236.49 290.73,236.02 292.87,235.38 295.00,235.82 297.13,235.53 299.26,235.42 301.39,235.50 303.52,236.26 305.65,236.25 307.78,236.43 309.92,237.07 312.05,237.95 314.18,238.68 316.31,239.86 318.44,239.98 320.57,240.38 322.70,240.54 324.83,239.73 326.97,239.02 329.10,237.70 331.23,237.86 333.36,236.00 335.49,235.68 337.62,234.83 339.75,233.78 341.88,234.38 344.02,233.09 346.15,234.41 348.28,235.39 350.41,234.92 352.54,231.19 354.67,235.25 356.80,235.98 358.93,233.96 361.07,236.99 363.20,231.64 365.33,232.14 367.46,226.26 369.59,234.66 371.72,238.89 373.85,234.06 375.98,236.91 378.12,243.38 380.25,232.23 382.38,245.06" fill="none" stroke="#000" stroke-width="0.75" stroke-opacity="1.0"/><polyline points="235.32,267.17 237.45,264.52 239.58,261.97 241.72,259.56 243.85,257.32 245.98,255.18 248.11,253.29 250.24,251.43 252.37,249.50 254.50,247.78 256.63,246.36 258.77,244.92 260.90,243.61 263.03,242.23 265.16,241.07 267.29,240.16 269.42,239.21 271.55,238.24 273.68,237.30 275.82,236.48 277.95,235.65 280.08,235.42 282.21,234.91 284.34,234.27 286.47,233.37 288.60,232.79 290.73,232.14 292.87,231.12 295.00,230.65 297.13,230.29 299.26,228.76 301.39,228.68 303.52,227.22 305.65,226.28 307.78,225.26 309.92,224.20 312.05,223.50 314.18,222.66 316.31,220.48 318.44,219.61 320.57,218.57 322.70,216.16 324.83,215.20 326.97,212.96 329.10,211.35 331.23,210.97 333.36,211.05 335.49,209.69 337.62,209.93 339.75,211.22 341.88,210.85 344.02,211.99 346.15,212.29 348.28,215.08 350.41,214.85 352.54,213.37 354.67,217.07 356.80,214.99 358.93,215.61 361.07,217.58 363.20,211.85 365.33,213.47 367.46,214.08 369.59,215.18 371.72,220.31 373.85,215.58 375.98,217.54 378.12,217.96 380.25,228.60 382.38,229.76" fill="none" stroke="#000" stroke-width="0.75" stroke-opacity="1.0"/><polyline points="235.32,265.27 237.45,262.66 239.58,260.14 241.72,257.74 243.85,255.52 245.98,253.54 248.11,251.47 250.24,249.67 252.37,247.76 254.50,246.08 256.63,244.35 258.77,242.79 260.90,241.31 263.03,240.09 265.16,238.74 267.29,237.53 269.42,236.07 271.55,234.75 273.68,233.50 275.82,232.14 277.95,231.00 280.08,230.03 282.21,229.35 284.34,228.01 286.47,227.43 288.60,226.91 290.73,225.80 292.87,225.64 295.00,225.72 297.13,225.19 299.26,224.85 301.39,224.75 303.52,224.88 305.65,225.15 307.78,224.77 309.92,225.94 312.05,225.81 314.18,226.80 316.31,226.87 318.44,227.83 320.57,227.26 322.70,228.09 324.83,227.57 326.97,227.63 329.10,227.89 331.23,227.53 333.36,226.66 335.49,226.99 337.62,226.42 339.75,225.92 341.88,226.02 344.02,227.36 346.15,226.68 348.28,226.86 350.41,228.55 352.54,231.16 354.67,232.35 356.80,234.98 358.93,234.02 361.07,232.45 363.20,235.26 365.33,244.51 367.46,234.92 369.59,238.76 371.72,235.99 373.85,230.55 375.98,230.38 378.12,233.77 380.25,231.36 382.38,227.93" fill="none" stroke="#000" stroke-width="0.75" stroke-opacity="1.0"/><polyline points="235.32,261.98 237.45,259.46 239.58,257.01 241.72,254.72 243.85,252.54 245.98,250.60 248.11,248.75 250.24,247.02 252.37,245.09 254.50,243.45 256.63,241.73 258.77,240.31 260.90,239.03 263.03,237.80 265.16,236.32 267.29,234.83 269.42,234.03 271.55,232.55 273.68,231.17 275.82,230.39 277.95,229.15 280.08,228.06 282.21,226.67 284.34,226.19 286.47,224.97 288.60,224.34 290.73,223.33 292.87,222.85 295.00,222.57 297.13,221.36 299.26,220.84 301.39,220.40 303.52,219.97 305.65,220.18 307.78,219.35 309.92,218.22 312.05,218.43 314.18,217.59 316.31,217.23 318.44,216.96 320.57,217.52 322.70,216.99 324.83,217.86 326.97,217.47 329.10,217.82 331.23,218.11 333.36,218.25 335.49,218.23 337.62,218.35 339.75,218.80 341.88,219.24 344.02,219.61 346.15,219.11 348.28,218.93 350.41,217.96 352.54,219.23 354.67,216.10 356.80,215.64 358.93,212.38 361.07,214.69 363.20,208.67 365.33,210.02 367.46,213.10 369.59,209.51 371.72,206.80 373.85,210.96 375.98,205.18 378.12,218.93 380.25,203.16 382.38,202.39" fill="none" stroke="#000" stroke-width="0.75" stroke-opacity="1.0"/><polyline points="235.32,261.20 237.45,258.67 239.58,256.18 241.72,253.91 243.85,251.71 245.98,249.75 248.11,247.91 250.24,246.06 252.37,244.45 254.50,242.78 256.63,241.34 258.77,240.11 260.90,238.71 263.03,237.61 265.16,236.63 267.29,235.51 269.42,234.58 271.55,233.37 273.68,232.50 275.82,231.92 277.95,231.30 280.08,231.56 282.21,231.81 284.34,231.37 286.47,231.89 288.60,232.51 290.73,232.35 292.87,233.01 295.00,232.62 297.13,232.63 299.26,232.12 301.39,232.24 303.52,231.16 305.65,231.12 307.78,230.86 309.92,231.23 312.05,230.61 314.18,231.34 316.31,230.79 318.44,230.24 320.57,230.38 322.70,229.57 324.83,230.28 326.97,229.01 329.10,228.95 331.23,228.51 333.36,228.31 335.49,229.38 337.62,228.71 339.75,231.05 341.88,231.94 344.02,232.65 346.15,234.21 348.28,234.42 350.41,234.68 352.54,239.52 354.67,238.64 356.80,236.10 358.93,235.60 361.07,236.18 363.20,235.42 365.33,241.05 367.46,241.92 369.59,243.80 371.72,244.51 373.85,241.46 375.98,237.42 378.12,241.42 380.25,241.11 382.38,241.59" fill="none" stroke="#000" stroke-width="0.75" stroke-opacity="1.0"/><polyline points="235.32,259.87 237.45,257.33 239.58,254.88 241.72,252.59 243.85,250.43 245.98,248.60 248.11,246.79 250.24,244.99 252.37,243.35 254.50,241.73 256.63,240.20 258.77,238.94 260.90,237.80 263.03,236.39 265.16,235.37 267.29,234.21 269.42,233.16 271.55,232.23 273.68,231.35 275.82,230.46 277.95,229.11 280.08,228.57 282.21,227.95 284.34,226.62 286.47,226.64 288.60,226.31 290.73,226.37 292.87,225.78 295.00,225.44 297.13,225.21 299.26,224.79 301.39,225.09 303.52,224.36 305.65,224.67 307.78,224.76 309.92,224.70 312.05,224.93 314.18,224.24 316.31,224.05 318.44,223.75 320.57,223.16 322.70,222.12 324.83,221.99 326.97,220.36 329.10,219.69 331.23,217.82 333.36,216.85 335.49,215.10 337.62,214.65 339.75,212.92 341.88,211.92 344.02,211.24 346.15,212.99 348.28,214.56 350.41,213.29 352.54,214.71 354.67,214.66 356.80,211.83 358.93,216.51 361.07,210.89 363.20,215.44 365.33,212.04 367.46,215.21 369.59,218.07 371.72,207.89 373.85,213.43 375.98,220.37 378.12,218.78 380.25,222.29 382.38,226.37" fill="none" stroke="#000" stroke-width="0.75" stroke-opacity="1.0"/><polyline points="235.32,256.03 237.45,253.68 239.58,251.43 241.72,249.33 243.85,247.34 245.98,245.71 248.11,243.90 250.24,242.25 252.37,240.66 254.50,239.07 256.63,237.53 258.77,236.27 260.90,235.21 263.03,234.52 265.16,233.51 267.29,232.81 269.42,232.01 271.55,231.00 273.68,230.15 275.82,229.87 277.95,230.09 280.08,229.97 282.21,230.37 284.34,230.94 286.47,231.58 288.60,232.78 290.73,233.89 292.87,234.21 295.00,235.04 297.13,235.45 299.26,235.26 301.39,233.91 303.52,233.10 305.65,231.75 307.78,230.22 309.92,228.97 312.05,227.66 314.18,225.94 316.31,225.18 318.44,224.89 320.57,223.47 322.70,223.39 324.83,222.93 326.97,223.49 329.10,223.58 331.23,226.05 333.36,226.46 335.49,227.70 337.62,229.38 339.75,229.94 341.88,233.30 344.02,232.99 346.15,233.14 348.28,233.78 350.41,233.15 352.54,234.70 354.67,231.72 356.80,234.97 358.93,237.25 361.07,237.66 363.20,240.24 365.33,236.63 367.46,237.52 369.59,237.45 371.72,236.89 373.85,235.88 375.98,232.01 378.12,239.14 380.25,236.52 382.38,238.36" fill="none" stroke="#000" stroke-width="0.75" stroke-opacity="1.0"/><polyline points="235.32,254.21 237.45,251.86 239.58,249.62 241.72,247.42 243.85,245.51 245.98,243.67 248.11,241.93 250.24,240.53 252.37,238.92 254.50,237.67 256.63,236.20 258.77,235.01 260.90,233.85 263.03,232.90 265.16,232.29 267.29,231.02 269.42,230.11 271.55,229.06 273.68,228.76 275.82,228.05 277.95,227.47 280.08,226.32 282.21,225.82 284.34,225.31 286.47,224.75 288.60,223.37 290.73,222.93 292.87,222.24 295.00,221.44 297.13,221.26 299.26,220.70 301.39,220.13 303.52,219.02 305.65,218.86 307.78,219.59 309.92,218.41 312.05,218.77 314.18,217.83 316.31,217.45 318.44,217.78 320.57,217.46 322.70,216.78 324.83,216.69 326.97,215.67 329.10,214.65 331.23,214.15 333.36,213.38 335.49,212.86 337.62,211.20 339.75,211.20 341.88,208.99 344.02,208.33 346.15,207.45 348.28,208.96 350.41,209.85 352.54,207.84 354.67,210.71 356.80,209.51 358.93,210.16 361.07,208.99 363.20,206.72 365.33,212.67 367.46,213.45 369.59,211.57 371.72,211.52 373.85,209.15 375.98,205.91 378.12,205.60 380.25,213.23 382.38,213.57" fill="none" stroke="#000" stroke-width="0.75" stroke-opacity="1.0"/><polyline points="235.32,253.86 237.45,251.56 239.58,249.28 241.72,247.18 243.85,245.16 245.98,243.39 248.11,241.59 250.24,239.82 252.37,238.12 254.50,236.48 256.63,235.19 258.77,233.90 260.90,232.94 263.03,232.28 265.16,231.72 267.29,231.00 269.42,230.48 271.55,230.13 273.68,229.54 275.82,229.28 277.95,229.04 280.08,228.75 282.21,228.42 284.34,227.98 286.47,227.35 288.60,227.16 290.73,227.22 292.87,226.82 295.00,226.99 297.13,226.82 299.26,226.98 301.39,226.62 303.52,225.82 305.65,225.52 307.78,224.91 309.92,224.11 312.05,222.91 314.18,221.96 316.31,221.42 318.44,220.07 320.57,219.67 322.70,219.14 324.83,220.05 326.97,219.89 329.10,220.96 331.23,220.50 333.36,222.70 335.49,224.09 337.62,224.92 339.75,227.13 341.88,227.22 344.02,228.65 346.15,228.30 348.28,227.67 350.41,230.26 352.54,231.08 354.67,232.79 356.80,228.57 358.93,225.97 361.07,230.36 363.20,230.55 365.33,222.38 367.46,228.42 369.59,230.05 371.72,227.34 373.85,224.41 375.98,227.40 378.12,230.52 380.25,232.70 382.38,233.92" fill="none" stroke="#000" stroke-width="0.75" stroke-opacity="1.0"/><polyline points="235.32,234.86 237.45,232.68 239.58,230.66 241.72,228.79 243.85,227.21 245.98,225.74 248.11,224.40 250.24,223.06 252.37,221.87 254.50,220.73 256.63,219.96 258.77,219.39 260.90,218.92 263.03,218.25 265.16,218.27 267.29,217.97 269.42,217.87 271.55,218.11 273.68,218.22 275.82,218.32 277.95,218.41 280.08,218.07 282.21,218.26 284.34,217.85 286.47,217.45 288.60,216.86 290.73,216.43 292.87,216.01 295.00,215.23 297.13,214.48 299.26,214.06 301.39,212.53 303.52,211.95 305.65,210.67 307.78,210.04 309.92,209.40 312.05,208.12 314.18,206.81 316.31,206.65 318.44,205.88 320.57,206.95 322.70,207.68 324.83,208.44 326.97,209.38 329.10,210.70 331.23,210.53 333.36,212.59 335.49,212.97 337.62,213.55 339.75,213.25 341.88,213.62 344.02,213.74 346.15,214.83 348.28,215.31 350.41,216.98 352.54,214.89 354.67,215.55 356.80,221.25 358.93,219.77 361.07,224.41 363.20,221.18 365.33,221.17 367.46,227.08 369.59,222.77 371.72,230.16 373.85,229.50 375.98,225.09 378.12,228.45 380.25,234.03 382.38,228.61" fill="none" stroke="#000" stroke-width="0.75" stroke-opacity="1.0"/><polyline points="235.32,241.12 237.45,240.40 239.58,239.71 241.72,238.98 243.85,238.30 245.98,237.61 248.11,236.84 250.24,236.12 252.37,235.39 254.50,234.77 256.63,233.90 258.77,233.65 260.90,233.00 263.03,232.76 265.16,231.73 267.29,231.34 269.42,230.80 271.55,230.22 273.68,229.67 275.82,229.01 277.95,228.51 280.08,227.67 282.21,227.08 284.34,226.65 286.47,226.64 288.60,226.73 290.73,225.59 292.87,224.89 295.00,223.97 297.13,223.02 299.26,222.52 301.39,221.10 303.52,219.67 305.65,218.14 307.78,217.10 309.92,216.06 312.05,215.34 314.18,214.35 316.31,213.28 318.44,213.66 320.57,213.60 322.70,214.26 324.83,214.62 326.97,215.92 329.10,216.49 331.23,218.16 333.36,219.67 335.49,219.65 337.62,220.72 339.75,220.71 341.88,222.23 344.02,221.95 346.15,222.44 348.28,223.23 350.41,219.74 352.54,223.49 354.67,220.28 356.80,222.94 358.93,224.18 361.07,220.25 363.20,226.63 365.33,228.49 367.46,230.92 369.59,231.28 371.72,227.85 373.85,230.67 375.98,232.15 378.12,229.99 380.25,233.51 382.38,229.35" fill="none" stroke="#000" stroke-width="0.75" stroke-opacity="1.0"/><polyline points="235.32,262.10 237.45,257.00 239.58,252.21 241.72,247.76 243.85,243.72 245.98,240.14 248.11,236.93 250.24,233.99 252.37,231.21 254.50,228.48 256.63,225.69 258.77,222.84 260.90,220.03 263.03,217.37 265.16,214.95 267.29,212.85 269.42,210.88 271.55,209.04 273.68,207.34 275.82,205.78 277.95,204.39 280.08,203.16 282.21,202.02 284.34,200.96 286.47,199.98 288.60,199.07 290.73,198.23 292.87,197.46 295.00,196.76 297.13,196.14 299.26,195.59 301.39,195.10 303.52,194.63 305.65,194.16 307.78,193.68 309.92,193.16 312.05,192.55 314.18,191.85 316.31,191.15 318.44,190.53 320.57,189.98 322.70,189.41 324.83,188.88 326.97,188.47 329.10,188.23 331.23,188.29 333.36,188.87 335.49,189.76 337.62,190.64 339.75,191.23 341.88,191.14 344.02,189.89 346.15,187.85 348.28,185.46 350.41,183.18 352.54,181.48 354.67,180.81 356.80,182.96 358.93,188.07 361.07,194.13 363.20,199.15 365.33,201.67 367.46,203.58 369.59,205.09 371.72,205.97 373.85,204.92 375.98,198.78 378.12,194.81 380.25,198.56 382.38,208.60" fill="none" stroke="#000" stroke-width="0.75" stroke-opacity="1.0"/><polyline points="235.32,267.54 237.45,264.87 239.58,262.25 241.72,259.69 243.85,257.23 245.98,254.80 248.11,252.48 250.24,250.20 252.37,248.17 254.50,245.95 256.63,243.96 258.77,242.00 260.90,240.42 263.03,238.74 265.16,236.97 267.29,235.39 269.42,234.48 271.55,233.21 273.68,231.91 275.82,230.82 277.95,229.78 280.08,228.77 282.21,227.93 284.34,226.45 286.47,225.74 288.60,224.86 290.73,223.97 292.87,223.06 295.00,221.99 297.13,221.57 299.26,220.02 301.39,219.93 303.52,217.76 305.65,217.88 307.78,216.60 309.92,216.38 312.05,216.30 314.18,214.71 316.31,214.01 318.44,213.49 320.57,213.04 322.70,212.48 324.83,211.76 326.97,210.67 329.10,210.27 331.23,209.78 333.36,208.43 335.49,208.70 337.62,207.53 339.75,207.34 341.88,207.53 344.02,205.19 346.15,205.47 348.28,204.65 350.41,203.78 352.54,201.52 354.67,201.10 356.80,203.78 358.93,209.09 361.07,208.88 363.20,212.24 365.33,215.55 367.46,212.52 369.59,214.84 371.72,215.28 373.85,214.79 375.98,221.41 378.12,218.92 380.25,222.58 382.38,229.08" fill="none" stroke="#000" stroke-width="0.75" stroke-opacity="1.0"/><polyline points="235.32,279.99 237.45,278.27 239.58,276.58 241.72,274.97 243.85,273.40 245.98,271.82 248.11,270.62 250.24,269.21 252.37,267.84 254.50,266.65 256.63,265.34 258.77,264.30 260.90,263.08 263.03,261.96 265.16,260.58 267.29,259.86 269.42,258.74 271.55,258.29 273.68,257.15 275.82,256.69 277.95,256.80 280.08,256.10 282.21,256.48 284.34,255.78 286.47,255.42 288.60,255.70 290.73,255.35 292.87,255.43 295.00,255.38 297.13,255.13 299.26,254.63 301.39,255.33 303.52,255.16 305.65,255.17 307.78,255.56 309.92,255.92 312.05,255.94 314.18,255.75 316.31,256.03 318.44,256.23 320.57,255.43 322.70,255.66 324.83,255.22 326.97,255.05 329.10,256.55 331.23,255.66 333.36,255.63 335.49,255.71 337.62,255.27 339.75,254.38 341.88,252.52 344.02,251.29 346.15,251.93 348.28,249.43 350.41,246.75 352.54,250.01 354.67,247.19 356.80,248.87 358.93,248.15 361.07,252.44 363.20,247.06 365.33,250.13 367.46,250.67 369.59,252.06 371.72,262.52 373.85,257.84 375.98,245.97 378.12,260.20 380.25,259.36 382.38,255.02" fill="none" stroke="#000" stroke-width="0.75" stroke-opacity="1.0"/><polyline points="235.32,275.32 237.45,273.38 239.58,271.44 241.72,269.67 243.85,267.92 245.98,266.18 248.11,264.52 250.24,263.06 252.37,261.72 254.50,260.20 256.63,259.06 258.77,258.14 260.90,257.12 263.03,255.97 265.16,254.79 267.29,253.87 269.42,253.28 271.55,252.06 273.68,251.18 275.82,250.73 277.95,250.02 280.08,249.45 282.21,248.93 284.34,247.97 286.47,248.14 288.60,247.64 290.73,247.23 292.87,246.74 295.00,246.69 297.13,246.14 299.26,245.30 301.39,245.75 303.52,244.37 305.65,244.60 307.78,244.04 309.92,243.89 312.05,244.00 314.18,243.39 316.31,242.82 318.44,243.35 320.57,242.35 322.70,242.80 324.83,242.69 326.97,241.94 329.10,241.75 331.23,241.68 333.36,242.81 335.49,241.42 337.62,240.67 339.75,240.91 341.88,241.90 344.02,242.13 346.15,242.83 348.28,243.23 350.41,241.31 352.54,243.33 354.67,242.73 356.80,242.48 358.93,240.52 361.07,239.26 363.20,234.48 365.33,238.27 367.46,235.85 369.59,241.80 371.72,250.29 373.85,251.30 375.98,262.14 378.12,263.63 380.25,262.77 382.38,250.24" fill="none" stroke="#000" stroke-width="0.75" stroke-opacity="1.0"/><polyline points="235.32,271.44 237.45,269.32 239.58,267.21 241.72,265.13 243.85,263.15 245.98,261.11 248.11,259.35 250.24,257.51 252.37,255.74 254.50,254.31 256.63,252.64 258.77,251.51 260.90,250.26 263.03,249.09 265.16,248.43 267.29,247.80 269.42,247.26 271.55,246.57 273.68,245.90 275.82,245.38 277.95,245.04 280.08,244.45 282.21,243.61 284.34,243.19 286.47,243.25 288.60,242.25 290.73,241.93 292.87,241.89 295.00,241.51 297.13,241.25 299.26,241.03 301.39,240.42 303.52,240.38 305.65,239.96 307.78,240.15 309.92,240.42 312.05,240.73 314.18,240.26 316.31,240.96 318.44,241.44 320.57,241.66 322.70,242.59 324.83,242.34 326.97,242.57 329.10,244.10 331.23,244.68 333.36,245.85 335.49,246.89 337.62,247.61 339.75,247.05 341.88,248.73 344.02,249.22 346.15,247.37 348.28,248.53 350.41,251.90 352.54,254.88 354.67,251.35 356.80,254.10 358.93,253.88 361.07,255.99 363.20,258.99 365.33,258.19 367.46,251.56 369.59,251.64 371.72,254.79 373.85,265.45 375.98,265.15 378.12,270.10 380.25,264.13 382.38,262.16" fill="none" stroke="#000" stroke-width="0.75" stroke-opacity="1.0"/><polyline points="235.32,261.32 237.45,259.33 239.58,257.37 241.72,255.48 243.85,253.65 245.98,251.88 248.11,250.10 250.24,248.31 252.37,246.52 254.50,244.80 256.63,243.21 258.77,241.78 260.90,240.47 263.03,239.29 265.16,238.17 267.29,237.12 269.42,236.12 271.55,235.09 273.68,234.00 275.82,232.84 277.95,231.67 280.08,230.59 282.21,229.71 284.34,229.04 286.47,228.50 288.60,228.03 290.73,227.62 292.87,227.24 295.00,226.74 297.13,226.14 299.26,225.59 301.39,225.13 303.52,224.64 305.65,224.05 307.78,223.45 309.92,223.01 312.05,222.78 314.18,222.71 316.31,222.78 318.44,222.94 320.57,223.04 322.70,222.89 324.83,222.41 326.97,221.67 329.10,220.86 331.23,220.16 333.36,219.71 335.49,219.72 337.62,220.32 339.75,221.24 341.88,221.90 344.02,222.05 346.15,221.89 348.28,221.71 350.41,221.59 352.54,221.64 354.67,221.72 356.80,221.57 358.93,221.21 361.07,221.17 363.20,221.73 365.33,222.46 367.46,222.95 369.59,223.31 371.72,224.19 373.85,225.89 375.98,227.93 378.12,228.02 380.25,227.15 382.38,227.97" fill="none" stroke="#ff1a1a" stroke-width="1.0" stroke-opacity="1"/><rect x="308.12" y="222.18" width="3.6" height="3.6" fill="#b000d0"/><polyline points="436.09,219.85 437.81,219.48 439.53,219.03 441.25,218.88 442.97,218.40 444.69,218.17 446.41,217.82 448.13,216.85 449.85,217.10 451.57,216.60 453.29,217.04 455.00,217.67 456.72,218.40 458.44,218.91 460.16,218.94 461.88,219.83 463.60,219.85 465.32,219.11 467.04,218.94 468.76,218.65 470.48,218.39 472.19,216.45 473.91,214.98 475.63,214.20 477.35,213.12 479.07,212.47 480.79,211.95 482.51,211.10 484.23,210.30 485.95,209.85 487.67,209.15 489.38,208.75 491.10,208.29 492.82,208.22 494.54,207.93 496.26,207.53 497.98,206.67 499.70,206.14 501.42,205.31 503.14,204.50 504.86,203.43 506.57,202.58 508.29,201.85 510.01,200.44 511.73,200.05 513.45,199.12 515.17,198.21 516.89,196.87 518.61,196.05 520.33,195.74 522.05,194.11 523.76,192.09 525.48,190.98 527.20,189.89 528.92,188.63 530.64,186.83 532.36,186.82 534.08,186.29 535.80,185.81 537.52,185.22 539.24,184.00 540.95,183.87 542.67,182.71 544.39,181.34 546.11,181.47 547.83,180.90 549.55,180.45 551.27,180.15 552.99,179.41 554.71,178.66 556.42,178.64 557.28,178.36 558.14,178.47 559.00,178.54 559.86,177.53 560.72,178.41 561.58,178.47 562.44,178.72 563.30,178.55 564.16,179.50 565.02,179.28 565.88,180.23 566.74,179.86 567.60,180.05 568.46,181.09 569.32,181.90 570.18,182.77 571.04,183.42 571.90,184.62 572.76,184.68 573.62,186.82 574.47,188.12 575.33,189.53 576.19,190.87 577.05,192.44 577.91,193.73 578.77,193.49 579.63,192.98 580.49,192.21 581.35,191.22 582.21,190.31 583.07,190.48 583.93,189.53 584.79,189.26 585.65,188.12 586.51,187.79 587.37,187.87 588.23,189.67 589.09,190.07 589.95,191.32" fill="none" stroke="#000" stroke-width="0.8" stroke-opacity="0.95"/><polyline points="436.09,222.52 437.81,222.48 439.53,222.45 441.25,222.38 442.97,222.36 444.69,222.29 446.41,222.25 448.13,222.28 449.85,222.20 451.57,222.13 453.29,221.83 455.00,221.45 456.72,221.13 458.44,220.83 460.16,220.44 461.88,220.15 463.60,219.79 465.32,219.30 467.04,218.98 468.76,218.51 470.48,218.22 472.19,216.92 473.91,215.62 475.63,214.28 477.35,213.17 479.07,211.67 480.79,210.48 482.51,209.30 484.23,208.23 485.95,206.88 487.67,207.06 489.38,208.58 491.10,210.28 492.82,211.30 494.54,211.93 496.26,212.70 497.98,213.15 499.70,213.95 501.42,214.41 503.14,213.12 504.86,212.06 506.57,211.09 508.29,210.25 510.01,209.25 511.73,208.88 513.45,207.82 515.17,208.55 516.89,208.65 518.61,208.75 520.33,209.16 522.05,209.68 523.76,208.85 525.48,209.19 527.20,209.00 528.92,207.94 530.64,207.47 532.36,206.39 534.08,205.87 535.80,205.25 537.52,204.76 539.24,204.19 540.95,203.72 542.67,202.89 544.39,202.08 546.11,203.18 547.83,204.16 549.55,205.51 551.27,207.79 552.99,207.67 554.71,209.29 556.42,209.89 557.28,207.82 558.14,210.89 559.00,206.69 559.86,206.83 560.72,202.62 561.58,201.90 562.44,199.51 563.30,194.87 564.16,197.60 565.02,200.02 565.88,201.17 566.74,202.14 567.60,199.10 568.46,201.18 569.32,205.14 570.18,205.02 571.04,202.55 571.90,207.25 572.76,209.47 573.62,202.68 574.47,205.37 575.33,204.05 576.19,199.61 577.05,197.83 577.91,197.36 578.77,202.11 579.63,201.57 580.49,200.36 581.35,196.95 582.21,200.05 583.07,194.58 583.93,201.70 584.79,200.16 585.65,201.27 586.51,200.21 587.37,208.00 588.23,205.34 589.09,201.61 589.95,204.83" fill="none" stroke="#000" stroke-width="0.8" stroke-opacity="0.95"/><polyline points="436.09,225.85 437.81,226.97 439.53,228.08 441.25,229.22 442.97,230.35 444.69,231.46 446.41,232.55 448.13,233.73 449.85,234.80 451.57,234.56 453.29,233.19 455.00,231.68 456.72,230.21 458.44,228.80 460.16,227.43 461.88,225.82 463.60,225.52 465.32,225.11 467.04,224.93 468.76,224.45 470.48,224.14 472.19,223.76 473.91,223.23 475.63,222.90 477.35,222.28 479.07,221.89 480.79,221.46 482.51,221.09 484.23,220.73 485.95,220.42 487.67,219.55 489.38,218.62 491.10,217.70 492.82,216.87 494.54,215.72 496.26,215.16 497.98,214.39 499.70,214.03 501.42,213.66 503.14,213.37 504.86,212.78 506.57,209.32 508.29,205.95 510.01,202.31 511.73,198.80 513.45,200.81 515.17,202.07 516.89,203.58 518.61,203.95 520.33,204.32 522.05,204.44 523.76,204.52 525.48,204.52 527.20,204.44 528.92,203.68 530.64,202.25 532.36,200.81 534.08,199.47 535.80,198.98 537.52,198.33 539.24,198.74 540.95,199.65 542.67,201.35 544.39,203.90 546.11,205.63 547.83,207.56 549.55,207.40 551.27,208.90 552.99,207.58 554.71,207.73 556.42,204.64 557.28,204.43 558.14,204.61 559.00,205.86 559.86,203.80 560.72,201.34 561.58,201.51 562.44,203.39 563.30,200.78 564.16,200.33 565.02,202.10 565.88,205.10 566.74,207.49 567.60,205.93 568.46,208.70 569.32,207.79 570.18,216.11 571.04,217.88 571.90,205.53 572.76,208.69 573.62,205.59 574.47,203.11 575.33,208.04 576.19,206.52 577.05,201.46 577.91,211.55 578.77,207.74 579.63,213.47 580.49,212.05 581.35,212.33 582.21,200.82 583.07,198.51 583.93,201.93 584.79,206.19 585.65,212.91 586.51,206.76 587.37,216.81 588.23,209.90 589.09,215.05 589.95,207.96" fill="none" stroke="#000" stroke-width="1.1" stroke-opacity="0.95"/><polyline points="436.09,224.19 437.81,224.43 439.53,224.67 441.25,224.92 442.97,225.18 444.69,225.41 446.41,225.70 448.13,225.89 449.85,226.12 451.57,226.44 453.29,226.36 455.00,226.44 456.72,226.46 458.44,226.36 460.16,226.35 461.88,226.45 463.60,226.07 465.32,225.69 467.04,224.94 468.76,224.65 470.48,224.14 472.19,222.53 473.91,221.20 475.63,219.77 477.35,218.09 479.07,216.56 480.79,216.09 482.51,216.80 484.23,217.37 485.95,218.30 487.67,218.69 489.38,218.59 491.10,217.71 492.82,216.72 494.54,216.00 496.26,215.21 497.98,214.69 499.70,214.04 501.42,213.60 503.14,213.15 504.86,212.73 506.57,212.15 508.29,211.71 510.01,212.03 511.73,211.46 513.45,211.06 515.17,211.31 516.89,211.62 518.61,211.57 520.33,211.85 522.05,212.04 523.76,210.80 525.48,209.67 527.20,208.90 528.92,207.81 530.64,207.27 532.36,206.79 534.08,206.79 535.80,206.65 537.52,206.51 539.24,206.11 540.95,206.77 542.67,206.75 544.39,206.09 546.11,207.22 547.83,207.75 549.55,208.84 551.27,212.78 552.99,215.11 554.71,215.30 556.42,214.02 557.28,212.50 558.14,210.22 559.00,209.70 559.86,209.25 560.72,207.79 561.58,205.51 562.44,207.72 563.30,203.98 564.16,206.99 565.02,206.07 565.88,208.50 566.74,203.98 567.60,208.58 568.46,206.56 569.32,209.56 570.18,210.57 571.04,211.28 571.90,215.96 572.76,209.94 573.62,210.34 574.47,213.71 575.33,214.28 576.19,215.71 577.05,213.05 577.91,213.39 578.77,210.89 579.63,214.39 580.49,210.27 581.35,211.01 582.21,206.41 583.07,204.96 583.93,209.66 584.79,204.46 585.65,213.29 586.51,215.61 587.37,216.69 588.23,214.12 589.09,213.76 589.95,208.91" fill="none" stroke="#000" stroke-width="0.8" stroke-opacity="0.95"/><polyline points="438.67,249.85 440.39,248.54 442.11,247.24 443.83,245.91 445.55,244.58 447.27,243.23 448.99,241.91 450.71,240.63 452.43,239.77 454.14,239.31 455.86,238.99 457.58,238.40 459.30,238.10 461.02,237.64 462.74,237.29 464.46,236.85 466.18,236.42 467.90,236.01 469.62,235.50 471.33,235.11 473.05,234.71 474.77,234.42 476.49,233.98 478.21,233.68 479.93,233.23 481.65,233.01 483.37,232.19 485.09,232.10 486.81,231.64 488.52,230.42 490.24,229.20 491.96,228.19 493.68,226.72 495.40,225.57 497.12,224.56 498.84,224.52 500.56,223.89 502.28,223.42 504.00,223.04 505.71,222.52 507.43,222.43 509.15,221.55 510.87,221.33 512.59,221.08 514.31,220.58 516.03,220.09 517.75,220.09 519.47,219.32 521.19,218.75 522.90,219.26 524.62,219.72 526.34,220.03 528.06,219.60 529.78,219.75 531.50,220.67 533.22,220.80 534.94,221.19 536.66,221.60 538.38,222.36 540.09,222.64 541.81,223.16 543.53,223.31 545.25,222.78 546.97,223.28 548.69,222.24 550.41,222.19 552.13,222.18 553.85,223.90 555.57,223.43 556.42,223.45 557.28,225.31 558.14,223.51 559.00,224.94 559.86,221.43 560.72,224.33 561.58,221.22 562.44,219.35 563.30,219.97 564.16,219.98 565.02,222.17 565.88,226.70 566.74,223.58 567.60,225.92 568.46,225.32 569.32,230.51 570.18,230.35 571.04,225.07 571.90,226.22 572.76,220.73 573.62,221.83 574.47,217.77 575.33,225.20 576.19,227.87 577.05,224.11 577.91,236.98 578.77,234.32 579.63,229.73 580.49,230.32 581.35,231.99 582.21,221.03 583.07,223.38 583.93,220.47 584.79,223.30 585.65,221.63 586.51,232.80 587.37,231.20 588.23,222.95 589.09,231.99 589.95,225.16" fill="none" stroke="#000" stroke-width="0.8" stroke-opacity="0.95"/><polyline points="436.09,243.99 437.81,243.55 439.53,243.10 441.25,242.65 442.97,242.19 444.69,241.75 446.41,241.30 448.13,240.85 449.85,240.36 451.57,239.98 453.29,240.13 455.00,240.17 456.72,240.35 458.44,240.47 460.16,240.66 461.88,240.81 463.60,240.07 465.32,239.21 467.04,238.66 468.76,238.06 470.48,237.37 472.19,237.15 473.91,236.92 475.63,236.77 477.35,236.39 479.07,236.10 480.79,235.84 482.51,235.57 484.23,235.31 485.95,235.17 487.67,234.68 489.38,234.29 491.10,234.14 492.82,233.99 494.54,233.60 496.26,233.11 497.98,232.60 499.70,232.11 501.42,230.98 503.14,230.80 504.86,230.50 506.57,230.44 508.29,229.92 510.01,229.60 511.73,229.22 513.45,229.10 515.17,228.79 516.89,228.16 518.61,227.75 520.33,227.65 522.05,226.66 523.76,226.40 525.48,225.70 527.20,224.86 528.92,224.35 530.64,224.31 532.36,223.53 534.08,223.08 535.80,223.57 537.52,226.13 539.24,226.94 540.95,226.22 542.67,226.06 544.39,226.17 546.11,226.69 547.83,226.77 549.55,227.36 551.27,227.63 552.99,228.49 554.71,229.34 556.42,229.40 557.28,228.87 558.14,230.75 559.00,228.80 559.86,229.64 560.72,228.81 561.58,225.71 562.44,228.98 563.30,224.69 564.16,226.89 565.02,228.93 565.88,229.55 566.74,231.46 567.60,236.27 568.46,236.05 569.32,238.01 570.18,238.67 571.04,238.01 571.90,235.12 572.76,234.88 573.62,235.36 574.47,227.80 575.33,234.58 576.19,233.57 577.05,244.13 577.91,249.36 578.77,253.17 579.63,246.36 580.49,246.37 581.35,238.02 582.21,238.70 583.07,232.38 583.93,231.34 584.79,232.74 585.65,237.14 586.51,245.52 587.37,234.31 588.23,235.46 589.09,239.92 589.95,242.60" fill="none" stroke="#000" stroke-width="0.8" stroke-opacity="0.95"/><polyline points="436.09,279.48 437.81,277.59 439.53,275.72 441.25,273.80 442.97,271.94 444.69,270.05 446.41,268.17 448.13,266.32 449.85,264.43 451.57,262.53 453.29,261.73 455.00,260.91 456.72,259.99 458.44,259.24 460.16,258.25 461.88,257.48 463.60,256.64 465.32,255.86 467.04,254.95 468.76,254.19 470.48,253.35 472.19,252.56 473.91,250.76 475.63,249.08 477.35,247.22 479.07,245.40 480.79,243.91 482.51,242.16 484.23,240.78 485.95,239.92 487.67,238.83 489.38,238.22 491.10,237.33 492.82,236.49 494.54,235.60 496.26,234.57 497.98,234.11 499.70,233.00 501.42,232.26 503.14,231.22 504.86,230.54 506.57,230.38 508.29,230.26 510.01,229.80 511.73,229.72 513.45,229.63 515.17,229.07 516.89,228.54 518.61,227.81 520.33,227.11 522.05,227.03 523.76,227.16 525.48,226.64 527.20,227.15 528.92,227.37 530.64,227.69 532.36,228.69 534.08,229.32 535.80,229.65 537.52,230.58 539.24,230.66 540.95,230.23 542.67,230.87 544.39,229.45 546.11,230.00 547.83,230.28 549.55,232.65 551.27,231.67 552.99,231.21 554.71,232.09 556.42,231.36 557.28,231.38 558.14,230.67 559.00,229.49 559.86,232.09 560.72,230.72 561.58,232.55 562.44,231.15 563.30,235.16 564.16,235.92 565.02,235.01 565.88,239.54 566.74,234.74 567.60,237.28 568.46,241.84 569.32,238.61 570.18,234.73 571.04,238.00 571.90,235.33 572.76,235.02 573.62,237.72 574.47,231.39 575.33,237.54 576.19,244.71 577.05,252.48 577.91,252.08 578.77,254.44 579.63,250.93 580.49,247.53 581.35,249.79 582.21,245.20 583.07,253.83 583.93,257.80 584.79,256.33 585.65,259.39 586.51,251.31 587.37,252.46 588.23,258.39 589.09,256.17 589.95,253.07" fill="none" stroke="#000" stroke-width="0.8" stroke-opacity="0.95"/><polyline points="436.09,264.59 437.81,263.78 439.53,262.98 441.25,262.15 442.97,261.37 444.69,260.55 446.41,259.72 448.13,258.96 449.85,258.12 451.57,257.29 453.29,256.47 455.00,255.65 456.72,254.83 458.44,253.97 460.16,253.27 461.88,252.50 463.60,252.03 465.32,251.54 467.04,251.08 468.76,250.49 470.48,250.12 472.19,249.83 473.91,248.89 475.63,248.02 477.35,247.54 479.07,246.80 480.79,246.70 482.51,246.14 484.23,245.71 485.95,245.26 487.67,244.07 489.38,242.36 491.10,242.25 492.82,241.99 494.54,241.44 496.26,240.98 497.98,241.84 499.70,241.94 501.42,242.93 503.14,243.14 504.86,243.93 506.57,244.33 508.29,243.74 510.01,243.38 511.73,242.64 513.45,245.51 515.17,246.94 516.89,246.90 518.61,245.95 520.33,245.31 522.05,244.03 523.76,242.37 525.48,240.27 527.20,238.69 528.92,237.78 530.64,237.63 532.36,237.70 534.08,238.07 535.80,238.77 537.52,239.98 539.24,239.75 540.95,238.67 542.67,237.11 544.39,237.56 546.11,238.26 547.83,237.81 549.55,240.92 551.27,241.84 552.99,244.84 554.71,242.46 556.42,240.53 557.28,237.99 558.14,238.35 559.00,236.31 559.86,236.95 560.72,234.98 561.58,233.06 562.44,232.14 563.30,235.25 564.16,234.98 565.02,235.08 565.88,236.05 566.74,234.41 567.60,236.77 568.46,237.50 569.32,239.30 570.18,239.88 571.04,239.01 571.90,240.91 572.76,246.15 573.62,247.76 574.47,250.16 575.33,245.27 576.19,254.50 577.05,250.90 577.91,247.11 578.77,247.87 579.63,244.01 580.49,245.53 581.35,247.99 582.21,245.03 583.07,255.81 583.93,259.97 584.79,253.14 585.65,245.98 586.51,256.60 587.37,244.55 588.23,252.58 589.09,248.49 589.95,257.01" fill="none" stroke="#000" stroke-width="0.8" stroke-opacity="0.95"/><polyline points="538.38,202.44 540.09,203.48 541.81,203.32 543.53,203.51 545.25,204.87 546.97,206.33 548.69,205.91 550.41,208.03 552.13,208.36 553.85,205.64 555.57,204.78 556.42,204.73 557.28,203.46 558.14,203.98 559.00,202.76 559.86,202.10 560.72,200.40 561.58,204.38 562.44,203.15 563.30,205.63 564.16,205.96 565.02,209.87 565.88,212.81 566.74,210.65 567.60,206.88 568.46,205.63 569.32,206.07 570.18,207.70 571.04,201.67 571.90,205.07 572.76,207.25 573.62,210.40 574.47,206.89 575.33,216.39 576.19,217.67 577.05,216.35 577.91,211.60 578.77,204.33 579.63,201.24 580.49,202.16 581.35,194.81 582.21,201.15 583.07,199.79 583.93,211.31 584.79,203.93 585.65,208.03 586.51,214.32 587.37,205.55 588.23,212.73 589.09,200.48 589.95,207.09" fill="none" stroke="#000" stroke-width="0.8" stroke-opacity="0.95"/><polyline points="538.38,206.40 540.09,206.55 541.81,207.11 543.53,207.09 545.25,207.56 546.97,208.98 548.69,211.21 550.41,213.62 552.13,215.34 553.85,213.63 555.57,208.89 556.42,208.06 557.28,205.44 558.14,201.61 559.00,205.87 559.86,206.59 560.72,207.94 561.58,207.46 562.44,208.12 563.30,210.74 564.16,212.25 565.02,212.13 565.88,214.86 566.74,214.55 567.60,216.55 568.46,214.91 569.32,219.15 570.18,219.86 571.04,214.42 571.90,215.78 572.76,211.32 573.62,209.60 574.47,207.74 575.33,206.85 576.19,208.55 577.05,208.55 577.91,217.97 578.77,215.84 579.63,218.67 580.49,217.86 581.35,219.45 582.21,214.44 583.07,207.95 583.93,212.46 584.79,208.95 585.65,210.71 586.51,211.76 587.37,213.52 588.23,223.15 589.09,226.25 589.95,220.31" fill="none" stroke="#000" stroke-width="0.8" stroke-opacity="0.95"/><polyline points="436.09,236.62 437.13,236.55 438.16,236.46 439.19,236.37 440.22,236.26 441.25,236.17 442.28,236.07 443.31,235.98 444.35,235.96 445.38,235.91 446.41,235.76 447.44,235.62 448.47,235.59 449.50,235.52 450.53,235.41 451.57,235.11 452.60,234.81 453.63,234.54 454.66,234.26 455.69,233.95 456.72,233.55 457.75,233.04 458.79,232.74 459.82,232.51 460.85,232.17 461.88,231.84 462.91,231.63 463.94,231.30 464.97,230.77 466.01,230.36 467.04,229.98 468.07,229.47 469.10,229.11 470.13,228.95 471.16,228.86 472.19,228.63 473.23,228.25 474.26,227.85 475.29,227.30 476.32,226.69 477.35,226.29 478.38,226.10 479.41,225.87 480.45,225.55 481.48,225.39 482.51,225.36 483.54,225.01 484.57,224.32 485.60,223.93 486.63,223.58 487.67,222.97 488.70,222.38 489.73,222.17 490.76,222.32 491.79,222.26 492.82,221.82 493.85,221.60 494.88,221.34 495.92,220.82 496.95,219.83 497.98,218.85 499.01,218.71 500.04,219.06 501.07,219.17 502.10,218.93 503.14,218.66 504.17,218.21 505.20,217.70 506.23,217.42 507.26,217.12 508.29,216.99 509.32,216.94 510.36,216.70 511.39,216.36 512.42,216.16 513.45,215.87 514.48,215.16 515.51,214.47 516.54,214.34 517.58,214.40 518.61,214.49 519.64,214.84 520.67,215.09 521.70,215.07 522.73,214.87 523.76,214.44 524.80,213.91 525.83,213.57 526.86,213.25 527.89,212.82 528.92,212.37 529.95,211.75 530.98,211.50 532.02,211.55 533.05,211.41 534.08,211.61 535.11,211.76 536.14,211.94 537.17,212.50 538.20,212.51 539.24,212.19 540.27,212.30 541.30,212.53 542.33,212.29 543.36,212.18 544.39,212.23 545.42,212.18 546.45,212.26 547.49,212.98 548.52,213.80 549.55,213.96 550.58,213.23 551.61,212.38 552.64,212.22 553.67,212.73 554.71,213.29 555.74,213.56 556.77,213.36 557.80,213.34 558.83,213.96 559.86,214.74 560.89,214.91 561.93,214.79 562.96,214.84 563.99,214.80 565.02,215.15 566.05,215.57 567.08,215.84 568.11,215.32 569.15,214.57 570.18,214.21 571.21,214.05 572.24,214.41 573.27,215.56 574.30,216.37 575.33,216.41 576.37,216.19 577.40,215.89 578.43,215.94 579.46,216.00 580.49,215.80 581.52,215.32 582.55,214.72 583.59,214.07 584.62,213.65 585.65,213.80 586.68,213.89 587.71,213.38 588.74,213.40 589.77,214.94" fill="none" stroke="#ff2a2a" stroke-width="0.75" stroke-opacity="1"/><rect x="534.76" y="210.33" width="3.8" height="3.8" fill="#b000d0"/><rect x="21.5" y="15.3" width="170.30" height="102.70" fill="none" stroke="#bdbdbd" stroke-width="0.8"/><rect x="224.0" y="15.3" width="169.80" height="102.70" fill="none" stroke="#bdbdbd" stroke-width="0.8"/><rect x="429.3" y="15.3" width="169.50" height="102.70" fill="none" stroke="#bdbdbd" stroke-width="0.8"/><rect x="22.3" y="174.3" width="168.70" height="108.40" fill="none" stroke="#bdbdbd" stroke-width="0.8"/><rect x="223.6" y="174.2" width="170.50" height="108.90" fill="none" stroke="#bdbdbd" stroke-width="0.8"/><rect x="427.5" y="174.6" width="171.90" height="110.90" fill="none" stroke="#bdbdbd" stroke-width="0.8"/><text x="22.2" y="6.9" font-size="10" font-family="Liberation Sans, sans-serif" font-weight="bold" fill="#000">(a)</text><text x="224.7" y="6.9" font-size="10" font-family="Liberation Sans, sans-serif" font-weight="bold" fill="#000">(b)</text><text x="429.5" y="6.9" font-size="10" font-family="Liberation Sans, sans-serif" font-weight="bold" fill="#000">(c)</text><text x="22.5" y="168.2" font-size="10" font-family="Liberation Sans, sans-serif" font-weight="bold" fill="#000">(e)</text><text x="226.5" y="168.2" font-size="10" font-family="Liberation Sans, sans-serif" font-weight="bold" fill="#000">(f)</text><text x="428.5" y="168.2" font-size="10" font-family="Liberation Sans, sans-serif" font-weight="bold" fill="#000">(g)</text><text x="106.65" y="132.2" font-size="6" text-anchor="middle" font-family="Liberation Sans, sans-serif" font-weight="bold" fill="#000">Log<tspan font-size="4.8" dy="2.7" dx="0.4">10</tspan><tspan dy="-2.7" dx="0.2" font-size="5.6">s</tspan></text><text x="308.90" y="132.2" font-size="6" text-anchor="middle" font-family="Liberation Sans, sans-serif" font-weight="bold" fill="#000">Log<tspan font-size="4.8" dy="2.7" dx="0.4">10</tspan><tspan dy="-2.7" dx="0.2" font-size="5.6">s</tspan></text><text x="514.05" y="132.2" font-size="6" text-anchor="middle" font-family="Liberation Sans, sans-serif" font-weight="bold" fill="#000">Log<tspan font-size="4.8" dy="2.7" dx="0.4">10</tspan><tspan dy="-2.7" dx="0.2" font-size="5.6">s</tspan></text><text x="106.65" y="295.5" font-size="6" text-anchor="middle" font-family="Liberation Sans, sans-serif" font-weight="bold" fill="#000">log<tspan font-size="4.8" dy="2.7" dx="0.4">10</tspan><tspan dy="-2.7" dx="0.2" font-size="5.6">s</tspan></text><text x="308.85" y="295.5" font-size="6" text-anchor="middle" font-family="Liberation Sans, sans-serif" font-weight="bold" fill="#000">log<tspan font-size="4.8" dy="2.7" dx="0.4">10</tspan><tspan dy="-2.7" dx="0.2" font-size="5.6">s</tspan></text><text x="513.45" y="299" font-size="6" text-anchor="middle" font-family="Liberation Sans, sans-serif" font-weight="bold" fill="#000">log<tspan font-size="4.8" dy="2.7" dx="0.4">10</tspan><tspan dy="-2.7" dx="0.2" font-size="5.6">s</tspan></text><text transform="translate(5.8,66.65) rotate(-90)" font-size="6.5" text-anchor="middle" font-family="Liberation Sans, sans-serif" font-weight="bold" fill="#000">Log<tspan font-size="4.6" dy="2.2">10</tspan><tspan dy="-2.2">F</tspan><tspan font-size="4.6" dy="2.2">2</tspan><tspan dy="-2.2">(s)</tspan></text><text transform="translate(208.5,66.65) rotate(-90)" font-size="6.5" text-anchor="middle" font-family="Liberation Sans, sans-serif" font-weight="bold" fill="#000">Log<tspan font-size="4.6" dy="2.2">10</tspan><tspan dy="-2.2">F</tspan><tspan font-size="4.6" dy="2.2">2</tspan><tspan dy="-2.2">(s)</tspan></text><text transform="translate(414.5,66.65) rotate(-90)" font-size="6.5" text-anchor="middle" font-family="Liberation Sans, sans-serif" font-weight="bold" fill="#000">Log<tspan font-size="4.6" dy="2.2">10</tspan><tspan dy="-2.2">F</tspan><tspan font-size="4.6" dy="2.2">2</tspan><tspan dy="-2.2">(s)</tspan></text><text transform="translate(6.5,228.50) rotate(-90)" font-size="6.5" text-anchor="middle" font-family="Liberation Sans, sans-serif" font-weight="bold" fill="#000">log<tspan font-size="4.6" dy="1.8">10</tspan><tspan dy="-1.8" font-style="italic">f</tspan></text><text transform="translate(208,228.65) rotate(-90)" font-size="6.5" text-anchor="middle" font-family="Liberation Sans, sans-serif" font-weight="bold" fill="#000">log<tspan font-size="4.6" dy="1.8">10</tspan><tspan dy="-1.8" font-style="italic">f</tspan></text><text transform="translate(412,230.05) rotate(-90)" font-size="6.5" text-anchor="middle" font-family="Liberation Sans, sans-serif" font-weight="bold" fill="#000">log<tspan font-size="4.6" dy="1.8">10</tspan><tspan dy="-1.8" font-style="italic">f</tspan></text></svg></body></html>
